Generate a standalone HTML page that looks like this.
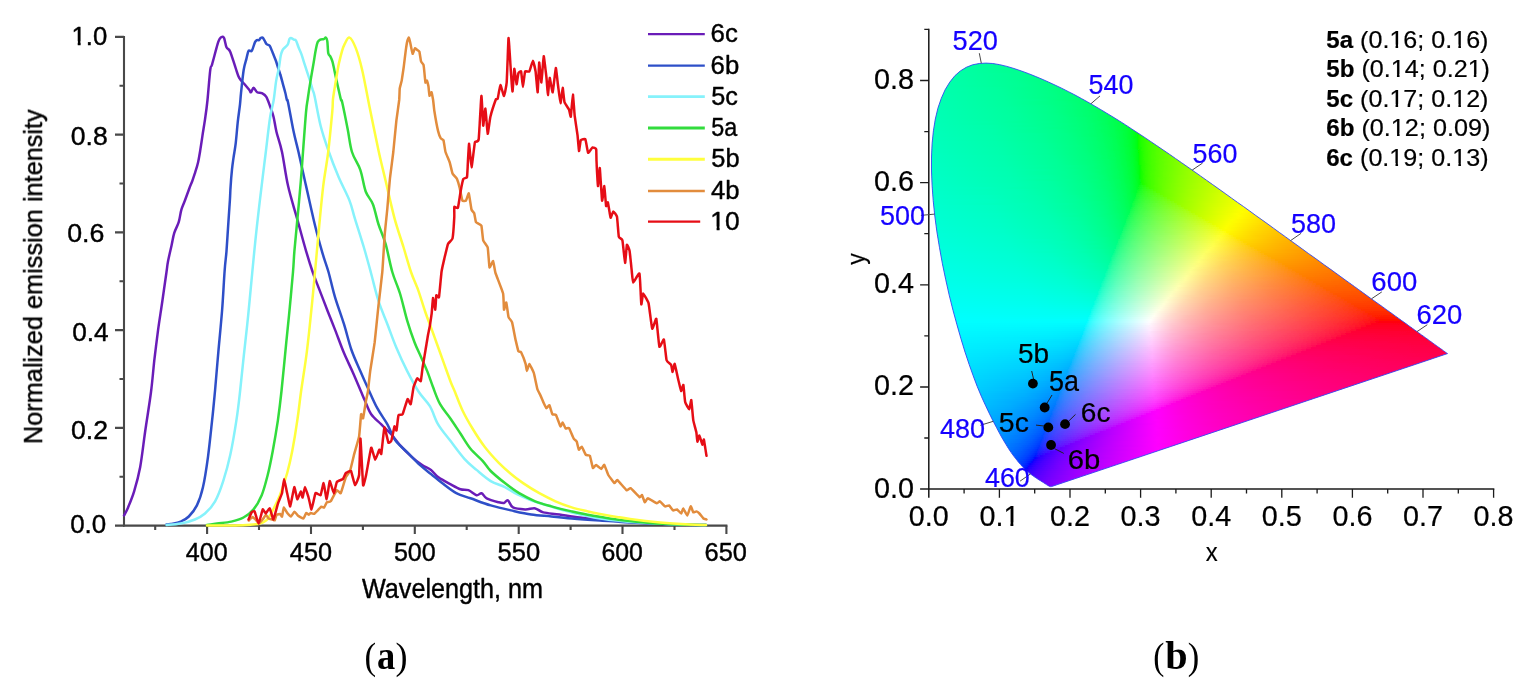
<!DOCTYPE html>
<html lang="en"><head><meta charset="utf-8"><title>Emission spectra and CIE 1931 chromaticity diagram</title>
<style>html,body{margin:0;padding:0;background:#fff}body{width:1526px;height:692px;overflow:hidden}svg{display:block}text{font-family:"Liberation Sans",Arial,sans-serif;fill:#000}.cap text{font-family:"Liberation Serif","DejaVu Serif",serif}.ch text{stroke:#000;stroke-width:.8px;stroke-linejoin:round}#chartA text{stroke-width:1.6px}.ch text.wl{fill:#1400ff;stroke:#1400ff}.cv{fill:none;stroke-width:2.5;stroke-linejoin:round;stroke-linecap:round}</style></head><body>
<svg width="1526" height="692" viewBox="0 0 1526 692">
<rect width="1526" height="692" fill="#fff"/>
<defs><filter id="bl" x="-2%" y="-2%" width="104%" height="104%"><feGaussianBlur stdDeviation="0.7"/></filter></defs>
<g id="chartA" class="ch" filter="url(#bl)">
<g stroke="#484848" stroke-width="2.1" fill="none">
<path d="M124.0 35.9V526.6"/>
<path d="M123.0 525.6H727.4"/>
<path d="M115.0 525.6H124.0M119.5 476.7H124.0M115.0 427.9H124.0M119.5 379.0H124.0M115.0 330.1H124.0M119.5 281.2H124.0M115.0 232.4H124.0M119.5 183.5H124.0M115.0 134.6H124.0M119.5 85.8H124.0M115.0 36.9H124.0M155.2 525.6V530.1M207.1 525.6V534.1M259.0 525.6V530.1M311.0 525.6V534.1M362.9 525.6V530.1M414.8 525.6V534.1M466.7 525.6V530.1M518.7 525.6V534.1M570.6 525.6V530.1M622.5 525.6V534.1M674.5 525.6V530.1M726.4 525.6V534.1"/></g>
<g class="cv">
<path d="M124.0,515.5C124.7,514.1 126.4,511.4 128.1,507.4C129.8,503.3 132.2,497.9 134.2,491.2C136.2,484.4 138.3,477.0 140.2,466.9C142.0,456.8 143.5,443.0 145.3,430.5C147.1,418.0 149.5,403.7 151.0,392.0C152.5,380.3 153.2,370.4 154.3,360.3C155.5,350.2 156.6,341.3 157.9,331.4C159.2,321.5 161.0,310.6 162.4,300.7C163.8,290.8 165.6,278.4 166.5,272.0C167.4,265.6 167.1,266.4 167.9,262.0C168.7,257.6 170.4,250.5 171.5,245.7C172.6,240.9 173.0,237.0 174.2,233.1C175.4,229.2 177.5,226.1 178.7,222.2C179.9,218.3 180.3,213.3 181.4,209.6C182.5,205.9 183.8,203.6 185.1,200.0C186.4,196.4 188.2,191.4 189.4,188.2C190.6,185.0 191.3,183.7 192.3,181.0C193.3,178.3 194.2,175.4 195.2,172.3C196.2,169.2 197.3,165.8 198.1,162.2C198.9,158.6 199.5,154.9 200.2,150.6C200.9,146.2 201.6,141.7 202.4,136.1C203.2,130.5 204.5,123.3 205.3,117.3C206.2,111.3 206.7,107.9 207.5,100.0C208.3,92.1 209.5,75.7 210.3,69.7C211.1,63.8 210.9,68.5 212.1,64.3C213.3,60.1 216.2,48.8 217.5,44.4C218.8,40.0 219.1,39.2 220.2,38.1C221.2,37.0 222.8,36.1 223.8,37.6C224.9,39.1 225.4,44.9 226.5,47.2C227.6,49.6 228.7,48.2 230.2,51.7C231.7,55.2 234.1,63.5 235.6,67.9C237.1,72.3 237.7,75.2 239.2,77.9C240.7,80.6 242.9,82.2 244.6,84.2C246.2,86.2 248.0,88.2 249.1,89.6C250.2,90.9 250.2,92.6 250.9,92.3C251.7,92.0 252.6,87.8 253.6,87.8C254.6,87.8 255.8,91.4 257.2,92.3C258.6,93.2 260.3,92.5 261.8,93.2C263.3,94.0 265.0,94.7 266.3,96.8C267.6,98.9 268.7,102.5 269.9,105.8C271.1,109.1 272.4,112.3 273.5,116.7C274.6,121.1 275.1,126.1 276.5,132.0C277.9,137.9 280.1,143.0 282.0,152.0C283.9,161.0 285.6,175.0 288.1,186.1C290.6,197.2 294.1,207.8 297.1,218.6C300.1,229.4 303.5,242.3 306.1,251.1C308.7,259.9 310.4,265.3 312.5,271.5C314.6,277.7 316.2,281.4 318.8,288.1C321.4,294.8 325.1,304.6 327.8,311.5C330.5,318.4 332.3,322.7 335.0,329.6C337.7,336.5 341.0,345.9 344.0,353.1C347.0,360.3 350.3,366.5 353.1,372.9C355.9,379.3 359.0,386.8 361.0,391.5C363.0,396.2 363.4,397.3 365.1,401.1C366.8,404.9 368.5,410.4 371.2,414.3C373.9,418.2 377.9,421.0 381.3,424.4C384.7,427.8 388.4,431.1 391.4,434.5C394.4,437.9 396.1,440.9 399.5,444.6C402.9,448.3 408.0,453.4 411.7,456.8C415.4,460.2 418.6,462.7 421.8,464.9C425.0,467.1 428.3,468.0 431.0,470.0C433.7,472.0 434.9,474.6 438.1,477.0C441.3,479.4 446.5,482.1 450.2,484.1C453.9,486.1 457.4,488.2 460.4,489.2C463.4,490.2 465.7,489.2 468.4,490.2C471.1,491.2 474.3,494.7 476.5,495.2C478.7,495.7 479.9,492.7 481.6,493.2C483.3,493.7 483.8,496.8 486.7,498.3C489.6,499.8 495.9,501.5 498.8,502.3C501.7,503.1 502.5,503.3 504.0,503.0C505.5,502.7 506.4,499.6 507.9,500.3C509.4,501.0 510.1,505.9 513.0,507.4C515.9,508.9 521.4,509.2 525.1,509.4C528.8,509.6 532.2,507.9 535.2,508.4C538.2,508.9 539.2,511.4 543.3,512.4C547.3,513.4 553.4,513.6 559.5,514.5C565.6,515.4 573.0,516.7 579.8,517.5C586.5,518.3 590.0,518.7 600.0,519.5C610.0,520.3 626.7,521.7 640.0,522.5C653.3,523.3 669.0,524.1 680.0,524.5C691.0,524.9 701.7,524.9 706.0,525.0" stroke="#6a1fb8"/>
<path d="M166.5,524.5C167.2,524.4 168.2,524.5 170.6,524.0C173.0,523.5 177.7,522.9 180.7,521.6C183.7,520.4 186.1,519.2 188.8,516.5C191.5,513.8 194.5,510.3 196.9,505.4C199.3,500.5 201.2,495.2 203.0,487.1C204.8,479.0 206.5,467.9 208.0,456.8C209.5,445.7 210.9,431.5 212.1,420.4C213.3,409.3 214.0,401.5 215.1,390.0C216.2,378.5 217.2,364.4 218.4,351.3C219.6,338.2 220.9,325.1 222.0,311.5C223.1,297.9 223.9,280.1 224.7,270.0C225.4,259.9 225.9,259.1 226.5,251.1C227.1,243.1 227.8,230.7 228.4,222.2C229.0,213.7 229.5,205.9 229.9,200.0C230.3,194.1 230.2,191.8 230.6,186.7C230.9,181.6 231.5,174.2 232.0,169.4C232.5,164.6 232.9,162.1 233.5,157.8C234.1,153.5 235.0,149.4 235.7,143.4C236.4,137.4 237.1,128.2 237.8,121.7C238.5,115.2 239.5,109.0 240.0,104.3C240.5,99.5 240.4,99.0 241.0,93.2C241.6,87.4 242.8,75.4 243.7,69.7C244.6,64.0 245.6,62.0 246.4,58.9C247.2,55.8 247.7,52.1 248.6,50.8C249.5,49.4 250.7,52.2 251.8,50.8C252.9,49.3 254.1,43.9 255.0,42.1C255.9,40.3 256.3,40.4 257.0,40.1C257.7,39.8 258.4,40.4 259.0,40.1C259.6,39.8 260.0,38.5 260.6,38.1C261.2,37.7 261.9,37.2 262.6,37.6C263.3,38.0 263.9,39.5 264.6,40.6C265.3,41.7 265.8,43.4 266.6,44.2C267.5,45.1 268.9,44.7 269.7,45.7C270.5,46.7 271.0,48.6 271.7,50.2C272.4,51.8 273.0,53.6 273.7,55.3C274.4,57.0 274.9,58.1 275.7,60.3C276.5,62.5 277.5,66.0 278.3,68.4C279.1,70.8 279.6,72.0 280.3,74.5C281.1,77.0 282.0,80.6 282.8,83.6C283.6,86.6 284.6,90.0 285.3,92.7C286.0,95.4 286.4,98.4 286.9,100.0C287.3,101.6 286.9,97.0 288.0,102.2C289.1,107.4 291.8,122.8 293.5,131.1C295.2,139.4 296.4,142.8 298.5,152.0C300.6,161.2 303.3,173.8 306.1,186.1C308.9,198.4 312.4,214.7 315.1,225.8C317.8,236.9 320.2,245.2 322.4,252.9C324.6,260.6 326.4,264.6 328.5,272.0C330.6,279.4 332.4,288.4 335.0,297.1C337.6,305.8 341.3,315.5 344.0,324.2C346.7,332.9 348.6,341.7 351.3,349.5C354.0,357.3 357.5,364.5 360.3,371.1C363.1,377.7 365.6,383.0 368.4,389.2C371.2,395.4 374.1,402.3 377.3,408.2C380.5,414.1 384.4,419.0 387.4,424.4C390.4,429.8 392.1,435.9 395.5,440.6C398.9,445.3 403.6,448.6 407.6,452.7C411.7,456.8 415.9,461.3 419.8,464.9C423.7,468.4 427.3,471.0 431.0,474.0C434.7,477.0 437.9,479.9 442.1,483.1C446.3,486.3 451.6,490.7 456.3,493.2C461.0,495.7 464.8,496.3 470.5,498.3C476.2,500.3 483.9,503.4 490.7,505.4C497.4,507.4 504.2,508.9 511.0,510.4C517.8,511.9 524.5,513.5 531.2,514.5C537.9,515.5 544.6,515.8 551.4,516.5C558.1,517.2 563.6,517.8 571.7,518.5C579.8,519.2 588.6,519.8 600.0,520.5C611.4,521.2 626.7,522.3 640.0,523.0C653.3,523.7 669.0,524.2 680.0,524.5C691.0,524.8 701.7,524.9 706.0,525.0" stroke="#2f4fc8"/>
<path d="M166.5,525.0C168.9,524.8 176.0,524.5 180.7,523.6C185.4,522.7 190.8,521.2 194.9,519.5C199.0,517.8 201.6,516.5 205.0,513.5C208.4,510.5 212.1,506.7 215.1,501.3C218.1,495.9 220.7,488.9 223.2,481.1C225.7,473.4 228.1,464.9 230.3,454.8C232.5,444.7 234.8,430.9 236.4,420.4C238.0,409.9 238.8,402.6 240.0,392.0C241.2,381.4 242.3,369.5 243.7,356.7C245.1,343.9 246.8,329.2 248.2,315.1C249.6,301.0 251.1,284.5 252.3,272.0C253.5,259.5 254.3,251.0 255.4,240.3C256.5,229.6 257.8,218.3 259.0,207.8C260.2,197.3 261.6,186.4 262.7,177.1C263.8,167.8 264.6,161.8 265.8,152.0C267.0,142.2 268.7,126.7 270.0,118.0C271.3,109.3 272.7,106.2 273.7,100.0C274.7,93.8 275.3,85.9 276.2,80.6C277.1,75.3 278.0,72.6 278.8,68.4C279.6,64.2 280.1,58.4 280.8,55.3C281.5,52.2 282.1,51.1 282.8,49.7C283.6,48.4 284.5,48.1 285.3,47.2C286.1,46.3 287.2,45.6 287.9,44.2C288.6,42.9 288.9,40.1 289.4,39.1C289.9,38.1 290.1,38.0 290.9,38.1C291.6,38.2 293.0,39.2 293.9,39.6C294.8,40.0 295.2,39.3 296.0,40.6C296.8,41.9 297.6,44.9 298.5,47.2C299.4,49.5 300.6,51.8 301.5,54.3C302.4,56.8 303.1,59.7 304.0,62.4C304.9,65.1 305.7,67.6 306.6,70.4C307.5,73.2 308.6,76.3 309.6,79.5C310.6,82.7 311.8,86.8 312.6,89.7C313.5,92.6 313.4,90.7 314.7,96.7C316.0,102.7 318.4,116.8 320.6,125.7C322.9,134.6 325.2,141.4 328.2,150.0C331.2,158.6 335.1,168.7 338.6,177.1C342.2,185.5 346.8,193.7 349.5,200.6C352.2,207.5 352.5,210.8 354.9,218.6C357.3,226.4 361.2,238.4 363.9,247.5C366.6,256.6 368.6,264.1 371.0,273.0C373.4,281.9 375.7,292.2 378.4,300.7C381.1,309.2 384.4,316.4 387.4,324.2C390.4,332.0 393.1,339.9 396.4,347.7C399.7,355.5 403.5,363.8 407.2,371.1C410.9,378.4 414.7,385.6 418.5,391.5C422.3,397.4 426.6,400.7 429.9,406.2C433.2,411.7 434.7,418.7 438.1,424.4C441.5,430.1 445.8,434.9 450.2,440.6C454.6,446.3 460.0,453.9 464.4,458.8C468.8,463.7 472.1,466.2 476.5,469.9C480.9,473.6 486.0,478.2 490.7,481.1C495.4,484.0 500.5,484.9 504.9,487.1C509.3,489.3 512.6,492.0 517.0,494.2C521.4,496.4 526.1,498.4 531.2,500.3C536.3,502.2 541.3,503.5 547.4,505.4C553.5,507.2 558.8,509.2 567.6,511.4C576.4,513.6 587.9,516.6 600.0,518.5C612.1,520.4 626.7,521.5 640.0,522.5C653.3,523.5 669.0,524.1 680.0,524.5C691.0,524.9 701.7,524.9 706.0,525.0" stroke="#86f2fb"/>
<path d="M207.0,525.0C208.7,524.8 213.0,524.2 217.1,523.6C221.2,523.0 226.9,522.6 231.3,521.6C235.7,520.6 239.8,519.5 243.5,517.5C247.2,515.5 250.6,513.1 253.6,509.4C256.6,505.7 259.3,500.9 261.7,495.2C264.1,489.5 265.8,482.4 267.7,475.0C269.6,467.6 271.1,459.8 272.8,450.7C274.5,441.6 276.4,430.3 277.9,420.4C279.3,410.4 280.1,404.0 281.5,391.0C282.9,378.0 284.9,356.3 286.3,342.2C287.7,328.1 288.8,317.8 289.9,306.1C291.0,294.4 292.2,281.2 293.0,272.0C293.8,262.8 293.7,259.4 294.4,251.1C295.1,242.8 296.1,233.6 297.1,222.2C298.2,210.8 299.7,194.2 300.7,182.5C301.7,170.8 302.1,163.9 303.0,152.0C303.9,140.1 305.3,120.0 306.1,111.3C306.9,102.6 307.0,104.1 307.6,100.0C308.2,95.9 308.9,90.8 309.6,86.6C310.3,82.3 310.9,78.5 311.6,74.5C312.3,70.5 313.0,66.5 313.7,62.4C314.4,58.4 315.0,53.6 315.7,50.2C316.4,46.8 316.9,43.9 317.7,42.1C318.4,40.3 319.2,40.1 320.2,39.6C321.2,39.1 322.9,39.4 323.8,39.1C324.7,38.8 325.2,37.3 325.8,37.6C326.4,37.9 326.9,38.5 327.3,41.1C327.7,43.7 327.8,50.8 328.3,53.3C328.8,55.8 329.6,55.0 330.3,56.3C331.0,57.6 331.7,58.9 332.4,61.3C333.1,63.6 333.8,67.7 334.4,70.4C335.0,73.1 335.3,74.8 335.9,77.5C336.5,80.2 337.0,82.8 337.9,86.6C338.8,90.3 340.3,97.4 341.0,100.0C341.7,102.6 341.1,97.3 342.2,102.2C343.3,107.1 346.1,121.0 347.7,129.3C349.3,137.6 349.9,145.2 352.0,152.0C354.1,158.8 358.0,163.3 360.3,169.9C362.6,176.5 363.6,185.8 365.7,191.5C367.8,197.2 370.8,198.8 372.9,204.2C375.0,209.6 376.3,217.4 378.4,224.0C380.5,230.6 383.3,235.9 385.6,243.9C387.9,251.9 389.9,263.7 392.3,272.0C394.7,280.3 397.5,285.4 400.0,293.5C402.5,301.6 404.8,312.5 407.2,320.6C409.6,328.7 412.2,336.1 414.5,342.2C416.8,348.3 418.9,352.2 421.0,357.0C423.1,361.8 425.2,366.1 427.2,371.1C429.2,376.1 430.9,381.5 433.0,387.0C435.1,392.5 437.2,399.0 440.1,404.2C443.0,409.4 446.8,413.4 450.2,418.3C453.6,423.2 457.0,428.4 460.4,433.5C463.8,438.6 466.8,444.1 470.5,448.7C474.2,453.2 479.2,457.1 482.6,460.8C486.0,464.5 487.0,467.3 490.7,471.0C494.4,474.7 500.2,479.4 504.9,483.1C509.6,486.8 514.0,490.2 519.1,493.2C524.2,496.2 529.8,499.1 535.2,501.3C540.6,503.5 545.3,504.7 551.4,506.4C557.5,508.1 565.0,509.9 571.7,511.4C578.5,512.9 583.9,514.1 591.9,515.5C599.9,516.9 610.3,518.8 620.0,520.0C629.7,521.2 640.0,522.2 650.0,523.0C660.0,523.8 670.7,524.2 680.0,524.5C689.3,524.8 701.7,524.9 706.0,525.0" stroke="#32dc3c"/>
<path d="M207.0,525.6C211.7,525.6 227.8,525.5 235.0,525.4C242.2,525.3 245.8,525.1 250.0,524.8C254.2,524.5 257.3,524.2 260.0,523.5C262.7,522.8 264.3,521.8 266.0,520.5C267.7,519.2 268.7,517.6 270.0,515.5C271.3,513.4 272.3,511.4 274.0,508.0C275.7,504.6 277.8,500.8 280.0,495.0C282.2,489.2 285.1,480.4 287.2,473.0C289.2,465.6 290.6,459.5 292.3,450.7C294.0,441.9 295.9,430.2 297.3,420.4C298.8,410.6 299.4,403.5 301.0,392.0C302.6,380.5 305.2,365.0 306.9,351.3C308.6,337.6 310.1,322.9 311.4,309.7C312.8,296.5 313.8,285.1 315.0,272.0C316.2,258.9 317.3,245.6 318.7,231.3C320.1,217.0 321.6,199.3 323.2,186.1C324.8,172.9 326.7,164.5 328.2,152.0C329.7,139.5 331.5,120.0 332.3,111.3C333.1,102.6 332.5,104.1 332.9,100.0C333.3,95.9 334.2,90.8 334.9,86.6C335.6,82.3 336.2,78.4 336.9,74.5C337.6,70.6 338.0,67.3 338.9,63.4C339.8,59.5 341.1,54.4 342.0,51.2C342.9,48.0 343.4,46.5 344.6,44.2C345.9,41.9 347.6,37.0 349.5,37.6C351.4,38.2 353.7,42.8 355.8,48.1C357.9,53.5 359.9,60.1 362.1,69.7C364.4,79.3 366.6,92.4 369.3,105.8C372.0,119.2 375.7,137.5 378.4,150.0C381.1,162.5 382.9,169.3 385.6,180.7C388.3,192.1 391.6,207.5 394.6,218.6C397.6,229.7 400.9,238.6 403.6,247.5C406.3,256.4 408.6,264.9 411.0,272.0C413.4,279.1 415.7,283.2 418.1,289.9C420.5,296.6 422.6,304.2 425.3,312.0C428.0,319.8 431.4,328.4 434.4,336.8C437.4,345.2 440.8,354.6 443.5,362.1C446.2,369.6 448.8,377.0 450.7,382.0C452.6,387.0 453.1,387.3 455.0,392.0C456.9,396.7 459.5,404.1 462.4,410.2C465.3,416.3 468.8,422.4 472.5,428.5C476.2,434.6 480.2,441.0 484.6,446.7C489.0,452.4 494.4,458.3 498.8,462.9C503.2,467.4 506.9,470.6 511.0,474.0C515.0,477.4 518.4,479.9 523.1,483.1C527.8,486.3 533.9,490.2 539.3,493.2C544.7,496.2 550.1,498.9 555.5,501.3C560.9,503.7 566.3,505.7 571.7,507.4C577.1,509.1 583.2,510.3 587.9,511.4C592.6,512.5 593.0,512.6 600.0,513.9C607.0,515.2 620.0,517.6 630.0,519.0C640.0,520.4 650.0,521.6 660.0,522.5C670.0,523.4 682.3,524.1 690.0,524.5C697.7,524.9 703.3,524.9 706.0,525.0" stroke="#ffff3c"/>
<path d="M248.8,520.5C249.0,520.3 252.1,517.0 252.5,517.0C252.9,517.0 255.6,519.6 256.0,520.0C256.4,520.4 258.6,523.6 259.0,523.5C259.4,523.4 262.6,519.5 263.0,519.0C263.4,518.5 265.7,514.8 266.0,514.8C266.3,514.8 268.1,518.1 268.5,518.4C268.9,518.7 272.1,519.4 272.5,519.5C272.9,519.6 274.6,520.5 274.8,520.2C275.0,519.9 276.3,515.2 276.6,514.8C276.9,514.4 279.9,513.8 280.2,513.9C280.5,514.0 281.8,517.0 282.0,516.6C282.2,516.2 283.5,507.8 283.8,507.6C284.1,507.4 286.9,512.5 287.3,513.0C287.7,513.5 290.5,516.7 290.9,516.6C291.3,516.5 294.1,511.8 294.5,511.7C294.9,511.6 297.6,515.3 298.1,515.7C298.6,516.1 303.0,518.6 303.5,518.4C304.0,518.2 305.9,513.2 306.2,513.0C306.5,512.8 308.6,514.8 308.9,514.8C309.2,514.8 310.3,513.1 310.6,513.0C310.9,512.9 313.8,514.1 314.2,513.9C314.6,513.7 317.4,510.7 317.8,510.3C318.2,509.9 321.0,506.9 321.4,506.7C321.8,506.5 323.8,507.9 324.1,507.6C324.4,507.3 326.4,502.7 326.8,502.3C327.2,501.9 330.1,502.0 330.7,501.3C331.3,500.6 336.2,490.7 336.8,490.2C337.4,489.7 340.3,494.0 340.8,493.2C341.3,492.4 345.3,478.3 345.9,477.0C346.5,475.7 349.5,472.3 350.0,471.0C350.5,469.7 353.5,456.9 354.0,454.8C354.5,452.7 358.7,438.9 359.1,436.5C359.5,434.1 360.9,415.4 361.1,414.3C361.3,413.2 362.8,419.2 363.1,418.3C363.4,417.4 365.8,401.7 366.1,400.1C366.4,398.5 367.8,392.7 368.0,391.0C368.2,389.3 369.8,374.0 370.2,371.1C370.6,368.2 374.2,346.1 374.7,342.2C375.2,338.3 377.9,310.3 378.4,306.1C378.9,301.9 381.9,276.3 382.3,272.0C382.7,267.7 384.4,238.8 384.7,234.9C385.0,231.0 387.1,211.3 387.4,207.8C387.7,204.3 389.7,180.4 390.1,177.1C390.5,173.8 392.9,155.4 393.3,152.0C393.7,148.6 396.0,123.4 396.4,120.3C396.8,117.2 399.0,101.9 399.2,100.0C399.4,98.1 399.6,89.9 399.7,88.7C399.8,87.5 401.5,81.9 401.7,80.6C401.9,79.3 403.6,68.2 403.8,66.4C404.0,64.6 405.6,51.7 405.8,50.2C406.0,48.7 407.1,41.9 407.3,41.1C407.5,40.3 408.6,37.5 408.8,37.6C409.0,37.7 410.1,42.1 410.3,43.1C410.5,44.1 412.3,53.5 412.6,53.8C412.9,54.1 414.6,48.4 414.9,48.2C415.2,48.0 416.6,49.5 416.9,49.7C417.2,49.9 419.2,51.0 419.4,51.7C419.6,52.4 420.8,60.5 421.0,61.3C421.2,62.1 423.3,64.2 423.5,64.9C423.7,65.6 424.4,72.4 424.5,73.5C424.6,74.6 425.4,82.2 425.5,82.6C425.6,83.0 426.8,80.4 427.0,80.6C427.2,80.8 428.4,85.7 428.5,86.6C428.6,87.5 429.3,95.4 429.5,95.7C429.7,96.0 431.4,91.9 431.6,92.2C431.8,92.5 432.9,98.9 433.1,100.0C433.3,101.1 434.1,109.4 434.4,111.3C434.7,113.2 437.7,129.5 438.1,131.1C438.5,132.7 440.5,137.9 440.8,138.4C441.1,138.9 443.2,139.4 443.5,140.2C443.8,141.0 445.1,150.7 445.5,152.0C445.9,153.3 449.4,161.3 449.8,162.6C450.2,163.9 452.1,172.5 452.5,173.5C452.9,174.5 456.6,178.0 457.0,178.9C457.4,179.8 459.4,186.6 459.7,187.9C460.0,189.2 462.0,199.8 462.4,200.6C462.8,201.4 465.6,201.0 466.0,200.6C466.4,200.2 468.5,192.8 468.8,193.3C469.1,193.8 471.2,208.4 471.5,209.6C471.8,210.8 473.9,212.4 474.2,213.2C474.5,214.0 475.6,221.4 476.0,222.2C476.4,223.0 481.0,224.7 481.4,225.8C481.8,226.9 482.8,239.0 483.2,240.3C483.6,241.6 487.3,245.9 487.7,247.5C488.1,249.1 489.2,266.6 489.5,267.4C489.8,268.2 492.7,260.8 493.1,261.1C493.5,261.4 494.9,271.1 495.5,273.0C496.1,274.9 502.6,291.3 503.1,293.5C503.6,295.7 503.8,309.2 504.0,309.7C504.2,310.2 506.0,302.1 506.3,302.5C506.6,302.9 508.2,315.8 508.5,317.0C508.8,318.2 511.7,321.0 512.1,322.4C512.5,323.8 515.3,338.7 515.7,340.4C516.1,342.1 518.1,350.6 518.4,351.3C518.7,352.0 520.7,351.4 521.1,352.2C521.5,353.0 525.3,362.8 525.6,363.9C525.9,365.0 526.7,371.1 526.9,371.1C527.1,371.1 528.9,363.8 529.3,363.9C529.7,364.0 533.3,371.4 533.8,372.9C534.3,374.4 537.0,387.9 537.4,389.2C537.8,390.5 539.9,394.3 540.3,395.1C540.7,395.9 542.9,401.3 543.3,402.1C543.7,402.9 546.0,408.0 546.4,408.2C546.8,408.4 549.0,404.8 549.4,405.2C549.8,405.6 552.0,413.7 552.4,414.3C552.8,414.9 555.5,414.3 556.0,415.0C556.5,415.7 560.1,426.0 560.5,426.4C560.9,426.8 562.3,422.3 562.6,422.4C562.9,422.5 565.2,428.2 565.6,428.5C566.0,428.8 568.5,427.4 569.0,428.0C569.5,428.6 573.2,437.8 573.7,438.6C574.2,439.4 576.4,440.9 576.7,441.6C577.0,442.3 578.5,449.4 578.8,449.7C579.1,450.0 581.4,446.4 581.8,446.7C582.2,447.0 585.3,454.3 585.8,454.8C586.3,455.3 589.5,455.0 589.9,455.8C590.3,456.6 592.5,467.4 592.9,467.9C593.3,468.4 595.5,464.8 596.0,464.9C596.5,465.0 600.8,468.9 601.3,468.9C601.8,468.9 603.9,464.5 604.3,464.9C604.7,465.3 607.7,473.9 608.3,475.0C608.9,476.1 613.9,482.8 614.4,483.1C614.9,483.4 616.7,479.7 617.4,480.1C618.1,480.5 625.7,489.7 626.5,490.2C627.3,490.7 629.8,487.8 630.6,488.2C631.4,488.6 639.0,496.9 639.7,497.3C640.4,497.7 641.7,494.7 642.0,495.0C642.3,495.3 644.5,502.1 644.8,502.3C645.1,502.5 647.1,498.2 647.8,498.3C648.5,498.4 656.2,503.1 656.9,503.3C657.6,503.5 659.4,501.1 659.9,501.3C660.4,501.5 664.4,506.2 665.0,506.4C665.6,506.6 668.6,505.2 669.1,505.4C669.6,505.6 672.6,510.2 673.1,510.4C673.6,510.6 676.6,509.2 677.1,509.4C677.6,509.6 680.8,513.6 681.2,513.5C681.6,513.4 682.8,508.3 683.2,508.4C683.6,508.5 686.8,515.6 687.3,515.5C687.8,515.4 690.3,506.6 690.7,506.4C691.1,506.2 693.0,512.1 693.3,512.4C693.6,512.7 696.0,511.3 696.4,511.4C696.8,511.5 699.0,513.1 699.4,513.5C699.8,513.9 703.1,518.1 703.5,518.5C703.9,518.9 706.3,519.4 706.5,519.5" stroke="#e28c3c"/>
<path d="M248.5,519.5C248.7,519.1 251.2,512.9 251.6,512.4C252.0,511.9 254.2,510.7 254.6,511.4C255.0,512.1 258.1,523.7 258.6,523.6C259.1,523.5 262.3,510.0 262.7,509.4C263.1,508.8 265.3,513.6 265.7,513.5C266.1,513.4 269.3,508.0 269.8,508.4C270.3,508.8 272.9,519.8 273.4,519.5C273.9,519.2 277.5,504.9 278.0,503.3C278.5,501.7 281.6,494.7 282.0,493.2C282.4,491.7 283.8,479.0 284.1,479.0C284.4,479.0 286.7,491.4 287.1,493.0C287.5,494.6 289.8,506.8 290.2,506.4C290.6,506.0 293.9,487.5 294.3,487.1C294.7,486.7 296.9,499.0 297.3,499.3C297.7,499.6 300.5,491.6 300.8,491.5C301.1,491.4 302.3,497.8 302.6,497.5C302.9,497.2 304.6,487.1 305.0,487.1C305.4,487.1 308.1,496.0 308.5,497.3C308.9,498.6 311.1,509.6 311.5,509.4C311.9,509.2 315.0,494.1 315.5,493.2C316.0,492.3 320.1,495.8 320.6,495.2C321.1,494.6 323.2,482.9 323.6,483.1C324.0,483.3 326.3,499.4 326.7,499.3C327.1,499.2 329.3,481.5 329.7,481.1C330.1,480.7 333.4,493.1 333.8,493.2C334.2,493.3 336.3,483.0 336.8,482.1C337.3,481.2 342.4,479.5 342.9,479.0C343.4,478.5 345.4,473.5 345.9,473.0C346.4,472.5 350.5,470.3 351.0,471.0C351.5,471.7 354.5,484.9 355.0,485.1C355.5,485.3 358.8,477.8 359.1,475.0C359.4,472.2 360.3,438.0 360.5,438.6C360.7,439.2 362.8,482.9 363.1,485.1C363.4,487.3 365.6,477.2 366.1,475.0C366.6,472.8 370.7,448.6 371.2,447.7C371.7,446.8 374.7,459.7 375.2,459.8C375.7,459.9 378.9,450.1 379.3,449.7C379.7,449.3 381.0,455.1 381.3,453.8C381.6,452.5 384.0,428.1 384.4,427.4C384.8,426.7 388.0,441.8 388.4,442.6C388.8,443.4 391.0,441.6 391.4,440.6C391.8,439.6 394.2,427.0 394.5,426.4C394.8,425.8 396.3,431.2 396.5,430.5C396.7,429.8 398.1,416.3 398.5,415.3C398.9,414.3 402.1,415.3 402.6,414.3C403.1,413.3 407.1,399.7 407.6,399.1C408.1,398.5 410.3,404.9 410.7,404.2C411.1,403.5 413.2,388.5 413.6,387.0C414.0,385.5 416.8,378.8 417.2,378.4C417.6,378.0 420.5,381.8 420.8,381.1C421.1,380.4 422.3,369.3 422.6,367.5C422.9,365.7 425.0,353.2 425.3,351.3C425.6,349.4 427.7,336.6 428.0,335.0C428.3,333.4 429.8,326.3 430.0,325.0C430.2,323.7 431.5,314.9 431.7,313.3C431.9,311.7 432.8,298.2 433.0,298.0C433.2,297.8 435.1,309.9 435.3,309.7C435.5,309.5 436.1,296.1 436.3,295.3C436.5,294.5 438.7,298.5 439.0,297.1C439.3,295.7 441.2,274.3 441.5,272.0C441.8,269.7 444.0,260.1 444.4,258.4C444.8,256.7 447.5,245.1 448.0,243.9C448.5,242.7 452.1,240.1 452.5,238.5C452.9,236.9 454.2,218.7 454.3,216.8C454.4,214.9 454.1,207.4 454.3,206.9C454.5,206.4 457.5,208.7 457.9,207.8C458.3,206.9 460.3,193.2 460.6,191.5C460.9,189.8 462.9,179.8 463.3,178.9C463.7,178.0 466.7,178.2 467.0,177.1C467.3,176.0 467.9,162.0 468.0,160.0C468.1,158.0 468.9,143.4 469.1,143.8C469.3,144.2 471.2,167.1 471.5,167.2C471.8,167.3 474.3,146.5 474.5,145.0C474.7,143.5 474.8,142.3 475.1,142.0C475.4,141.7 478.3,142.1 478.7,139.3C479.1,136.5 481.1,96.7 481.4,95.9C481.7,95.1 483.0,124.9 483.2,125.7C483.4,126.5 485.1,108.1 485.4,108.6C485.7,109.1 487.4,133.3 487.7,133.8C488.0,134.3 489.9,118.8 490.4,116.7C490.9,114.6 495.4,100.6 495.8,99.5C496.2,98.4 497.4,99.5 497.7,98.6C498.0,97.7 500.0,85.3 500.4,85.1C500.8,84.9 503.6,96.1 504.0,95.9C504.4,95.7 506.4,85.9 506.7,82.4C507.0,78.9 508.3,39.3 508.5,38.1C508.7,36.9 510.1,59.3 510.3,62.5C510.5,65.7 512.3,91.0 512.5,91.4C512.7,91.8 514.1,69.2 514.3,68.8C514.5,68.4 516.4,83.9 516.6,84.2C516.8,84.5 518.1,74.1 518.4,73.3C518.7,72.5 520.8,70.7 521.1,71.5C521.4,72.3 522.7,86.9 522.9,86.9C523.1,86.9 524.7,72.4 525.1,71.5C525.5,70.6 528.8,72.1 529.3,71.5C529.8,70.9 532.5,60.7 532.9,60.7C533.3,60.7 535.3,69.6 535.6,71.5C535.9,73.4 537.5,92.8 537.7,92.3C537.9,91.8 539.0,63.1 539.2,62.5C539.4,61.9 541.1,82.8 541.4,82.4C541.7,82.0 543.4,56.5 543.7,56.2C544.0,55.9 546.1,74.7 546.4,77.0C546.7,79.3 547.7,94.9 547.9,95.0C548.1,95.1 549.4,78.1 549.7,77.9C550.0,77.7 552.3,92.9 552.7,92.3C553.1,91.7 555.5,68.3 555.8,67.9C556.1,67.5 557.8,83.9 558.1,86.0C558.4,88.1 560.2,103.0 560.5,103.1C560.8,103.2 562.5,87.9 562.7,87.8C562.9,87.7 564.1,100.9 564.5,102.2C564.9,103.5 568.6,108.6 569.0,109.5C569.4,110.4 570.6,117.6 570.8,116.7C571.0,115.8 572.7,94.6 572.9,94.5C573.1,94.4 574.4,113.4 574.7,115.8C575.0,118.2 577.2,132.9 577.5,135.0C577.8,137.1 578.8,150.7 579.0,151.0C579.2,151.3 580.4,140.9 580.8,140.2C581.2,139.5 585.0,138.5 585.4,139.3C585.8,140.1 587.7,152.3 588.1,152.8C588.5,153.3 592.1,147.6 592.6,147.4C593.1,147.2 596.0,148.4 596.2,149.2C596.4,150.0 596.4,158.6 596.5,160.8C596.6,163.0 597.8,185.7 598.0,186.1C598.2,186.5 599.6,167.2 599.8,168.1C600.0,169.0 601.8,199.5 602.1,200.6C602.4,201.7 604.1,185.8 604.3,186.1C604.5,186.4 605.9,205.0 606.1,206.0C606.3,207.0 607.6,201.7 607.9,202.4C608.2,203.1 610.3,217.2 610.6,217.7C610.9,218.2 612.9,211.5 613.3,211.4C613.7,211.3 616.7,215.3 617.0,216.8C617.3,218.3 618.5,235.3 618.8,236.7C619.1,238.1 622.0,238.7 622.4,240.3C622.8,241.9 624.8,262.6 625.1,262.9C625.4,263.2 626.6,245.5 626.9,244.8C627.2,244.1 629.3,249.5 629.6,251.1C629.9,252.7 631.6,269.6 631.8,271.5C632.0,273.4 632.7,282.5 633.2,282.6C633.7,282.7 639.0,272.3 639.5,273.6C640.0,274.9 641.1,303.1 641.3,304.3C641.5,305.5 642.7,293.6 643.1,293.5C643.5,293.4 648.1,301.3 648.6,303.4C649.1,305.5 651.7,327.8 652.2,328.7C652.7,329.6 655.9,317.7 656.3,318.8C656.7,319.9 658.9,345.5 659.4,346.7C659.9,347.9 663.5,338.7 663.9,339.5C664.3,340.3 666.2,358.8 666.6,360.3C667.0,361.8 670.7,364.1 671.1,364.8C671.5,365.5 672.4,372.1 672.6,372.0C672.8,371.9 674.4,363.4 674.7,363.9C675.0,364.4 678.0,378.6 678.4,380.2C678.8,381.8 680.8,390.7 681.1,391.0C681.4,391.3 683.2,384.3 683.4,385.0C683.6,385.7 684.8,400.6 685.2,402.1C685.6,403.6 688.9,409.3 689.3,409.2C689.7,409.1 691.1,399.4 691.3,400.1C691.5,400.8 693.0,418.5 693.3,420.4C693.6,422.3 696.2,431.2 696.4,432.5C696.6,433.8 697.2,441.4 697.4,441.6C697.6,441.8 699.1,435.3 699.4,435.5C699.7,435.7 702.1,444.4 702.4,444.6C702.7,444.8 703.7,438.9 703.9,439.6C704.1,440.3 706.3,454.8 706.5,455.8" stroke="#e60d14"/>
</g>
<clipPath id="c1"><path clip-rule="evenodd" d="M-300 -200H3000V200H-300ZM3.0 -13H24.0V25H3.0ZM35.0 -13H55.0V25H35.0Z"/></clipPath><text clip-path="url(#c1)" font-size="100" transform="matrix(0.2573 0 0 0.2507 71.57 44.55)">1.0</text>
<text font-size="100" transform="matrix(0.2656 0 0 0.2634 70.74 144.64)">0.8</text>
<text font-size="100" transform="matrix(0.2674 0 0 0.2634 67.23 241.64)">0.6</text>
<text font-size="100" transform="matrix(0.2621 0 0 0.2563 72.15 340.74)">0.4</text>
<text font-size="100" transform="matrix(0.2662 0 0 0.2549 70.94 439.05)">0.2</text>
<text font-size="100" transform="matrix(0.2595 0 0 0.2549 70.16 533.45)">0.0</text>
<text font-size="100" transform="matrix(0.2513 0 0 0.2592 185.87 561.34)">400</text>
<text font-size="100" transform="matrix(0.2531 0 0 0.2592 289.87 561.34)">450</text>
<text font-size="100" transform="matrix(0.2511 0 0 0.2592 393.90 561.34)">500</text>
<text font-size="100" transform="matrix(0.2555 0 0 0.2592 497.48 561.34)">550</text>
<text font-size="100" transform="matrix(0.2489 0 0 0.2592 601.41 561.34)">600</text>
<text font-size="100" transform="matrix(0.2543 0 0 0.2592 704.53 561.34)">650</text>
<text font-size="100" transform="matrix(0.2520 0 0 0.2710 361.97 597.55)">Wavelength, nm</text>
<text font-size="100" transform="matrix(0 -0.2532 0.2629 0 42.00 444.03)">Normalized emission intensity</text>
<path d="M648 34.2H704.8" stroke="#6a1fb8" stroke-width="2.3"/>
<text font-size="100" transform="matrix(0.2582 0 0 0.2620 710.61 42.24)">6c</text>
<path d="M648 65.7H704.8" stroke="#2f4fc8" stroke-width="2.3"/>
<text font-size="100" transform="matrix(0.2569 0 0 0.2531 710.62 73.55)">6b</text>
<path d="M648 96.7H704.8" stroke="#86f2fb" stroke-width="2.8"/>
<text font-size="100" transform="matrix(0.2525 0 0 0.2657 711.19 104.53)">5c</text>
<path d="M648 127.9H704.8" stroke="#32dc3c" stroke-width="3.0"/>
<text font-size="100" transform="matrix(0.2336 0 0 0.2643 711.27 135.54)">5a</text>
<path d="M648 159.2H704.8" stroke="#ffff3c" stroke-width="3.0"/>
<text font-size="100" transform="matrix(0.2544 0 0 0.2571 711.28 167.44)">5b</text>
<path d="M648 190.9H704.8" stroke="#e28c3c" stroke-width="2.5"/>
<text font-size="100" transform="matrix(0.2565 0 0 0.2571 711.06 198.94)">4b</text>
<path d="M648 221.6H700.2" stroke="#e60d14" stroke-width="2.2"/>
<clipPath id="c2"><path clip-rule="evenodd" d="M-300 -200H3000V200H-300ZM3.0 -13H24.0V25H3.0ZM35.0 -13H55.0V25H35.0Z"/></clipPath><text clip-path="url(#c2)" font-size="100" transform="matrix(0.2633 0 0 0.2648 710.33 230.04)">10</text>
</g>
<g id="chartB" class="ch" filter="url(#bl)">
<defs><clipPath id="lc"><path d="M1051.7,486.5 1051.7,486.5 1051.7,486.5 1051.7,486.5 1051.6,486.5 1051.6,486.6 1051.6,486.6 1051.5,486.6 1051.5,486.6 1051.5,486.6 1051.4,486.6 1051.4,486.6 1051.4,486.6 1051.3,486.6 1051.3,486.6 1051.2,486.6 1051.2,486.6 1051.1,486.7 1051.1,486.7 1051.0,486.7 1051.0,486.6 1050.9,486.6 1050.8,486.6 1050.8,486.6 1050.7,486.6 1050.6,486.7 1050.5,486.7 1050.4,486.7 1050.3,486.7 1050.2,486.6 1050.1,486.6 1050.0,486.6 1049.9,486.5 1049.7,486.5 1049.5,486.4 1049.3,486.3 1049.1,486.2 1048.9,486.1 1048.7,485.9 1048.4,485.8 1048.2,485.7 1047.9,485.5 1047.6,485.3 1047.2,485.1 1046.8,484.8 1046.4,484.6 1046.0,484.3 1045.6,484.0 1045.1,483.7 1044.6,483.4 1044.1,483.1 1043.6,482.7 1042.9,482.3 1042.3,481.9 1041.5,481.4 1040.8,480.9 1039.9,480.4 1039.1,479.9 1038.1,479.3 1037.2,478.7 1036.2,478.0 1035.1,477.3 1033.9,476.5 1032.7,475.6 1031.4,474.7 1030.1,473.7 1028.8,472.6 1027.3,471.4 1025.8,470.0 1024.1,468.4 1022.3,466.5 1020.4,464.3 1018.3,461.9 1016.1,459.1 1013.7,456.0 1011.2,452.6 1008.6,448.7 1005.9,444.3 1002.9,439.3 999.8,433.8 996.6,427.7 993.0,420.9 989.3,413.4 985.4,405.2 981.3,396.2 977.2,386.4 973.2,375.8 969.1,364.3 965.0,352.0 961.0,338.9 957.0,324.9 953.0,310.3 949.2,295.1 945.7,279.5 942.4,263.7 939.5,247.7 936.9,231.8 934.8,216.1 933.2,200.6 932.1,185.6 931.5,171.0 931.5,157.0 932.1,143.6 933.4,130.9 935.3,119.1 937.9,108.2 941.3,98.3 945.2,89.6 949.8,82.1 954.8,75.8 960.4,70.9 966.3,67.3 972.6,64.8 979.2,63.5 985.9,63.1 992.8,63.5 999.8,64.7 1006.9,66.4 1014.0,68.5 1021.1,70.9 1028.2,73.5 1035.2,76.3 1042.1,79.2 1048.8,82.2 1055.5,85.3 1062.0,88.4 1068.5,91.7 1075.0,95.0 1081.4,98.5 1087.7,102.0 1094.1,105.7 1100.4,109.4 1106.7,113.2 1113.0,117.0 1119.3,120.9 1125.6,124.9 1131.8,129.0 1138.0,133.1 1144.3,137.2 1150.5,141.4 1156.7,145.6 1162.9,149.8 1169.2,154.1 1175.4,158.4 1181.7,162.8 1187.9,167.1 1194.2,171.5 1200.4,175.9 1206.6,180.3 1212.8,184.7 1219.0,189.1 1225.2,193.5 1231.4,198.0 1237.5,202.4 1243.7,206.7 1249.8,211.1 1255.8,215.5 1261.9,219.8 1267.9,224.1 1273.8,228.4 1279.7,232.7 1285.6,236.9 1291.3,241.1 1297.1,245.2 1302.7,249.3 1308.3,253.4 1313.9,257.3 1319.3,261.2 1324.6,265.1 1329.9,268.8 1335.1,272.6 1340.1,276.2 1345.0,279.8 1349.8,283.2 1354.4,286.5 1358.8,289.7 1363.1,292.8 1367.2,295.8 1371.2,298.7 1375.1,301.5 1378.9,304.2 1382.6,306.8 1386.1,309.4 1389.4,311.7 1392.6,314.0 1395.6,316.2 1398.4,318.2 1401.1,320.2 1403.7,322.0 1406.2,323.8 1408.5,325.5 1410.7,327.1 1412.8,328.6 1414.7,330.0 1416.6,331.3 1418.3,332.6 1420.0,333.8 1421.5,334.9 1423.0,335.9 1424.4,336.9 1425.7,337.9 1427.0,338.8 1428.2,339.7 1429.3,340.5 1430.4,341.3 1431.5,342.1 1432.5,342.8 1433.5,343.5 1434.4,344.2 1435.2,344.8 1436.1,345.4 1436.8,345.9 1437.6,346.5 1438.3,347.0 1438.9,347.4 1439.5,347.8 1440.1,348.2 1440.6,348.6 1441.1,349.0 1441.6,349.3 1442.0,349.6 1442.4,349.9 1442.8,350.2 1443.1,350.4 1443.5,350.7 1443.8,350.9 1444.0,351.1 1444.3,351.3 1444.5,351.4 1444.7,351.6 1444.8,351.7 1445.0,351.8 1445.2,351.9 1445.3,352.0 1445.5,352.1 1445.6,352.2 1445.8,352.3 1445.9,352.4 1446.0,352.5 1446.1,352.6 1446.2,352.7 1446.4,352.8 1446.5,352.9 1446.6,353.0 1446.7,353.0 1446.8,353.1 1446.9,353.2 1447.0,353.2 1447.1,353.3 1447.2,353.4 1447.2,353.4 1447.3,353.4 1447.3,353.5 1447.4,353.5 1447.4,353.5 1447.4,353.5 1447.4,353.6 1447.5,353.6 1447.5,353.6 1447.5,353.6Z"/></clipPath>
<linearGradient id="r0" gradientUnits="userSpaceOnUse" x1="971" x2="1003" y1="0" y2="0"><stop offset="0.000" stop-color="#00ffa0"/><stop offset="1.000" stop-color="#00ff95"/></linearGradient>
<linearGradient id="r1" gradientUnits="userSpaceOnUse" x1="965" x2="1010" y1="0" y2="0"><stop offset="0.000" stop-color="#00ffa3"/><stop offset="1.000" stop-color="#00ff93"/></linearGradient>
<linearGradient id="r2" gradientUnits="userSpaceOnUse" x1="962" x2="1017" y1="0" y2="0"><stop offset="0.000" stop-color="#00ffa4"/><stop offset="1.000" stop-color="#00ff91"/></linearGradient>
<linearGradient id="r3" gradientUnits="userSpaceOnUse" x1="959" x2="1023" y1="0" y2="0"><stop offset="0.000" stop-color="#00ffa5"/><stop offset="1.000" stop-color="#00ff8e"/></linearGradient>
<linearGradient id="r4" gradientUnits="userSpaceOnUse" x1="957" x2="1028" y1="0" y2="0"><stop offset="0.000" stop-color="#00ffa6"/><stop offset="1.000" stop-color="#00ff8d"/></linearGradient>
<linearGradient id="r5" gradientUnits="userSpaceOnUse" x1="954" x2="1033" y1="0" y2="0"><stop offset="0.000" stop-color="#00ffa7"/><stop offset="0.658" stop-color="#00ff97"/><stop offset="1.000" stop-color="#00ff8b"/></linearGradient>
<linearGradient id="r6" gradientUnits="userSpaceOnUse" x1="952" x2="1038" y1="0" y2="0"><stop offset="0.000" stop-color="#00ffa8"/><stop offset="0.663" stop-color="#00ff96"/><stop offset="1.000" stop-color="#00ff89"/></linearGradient>
<linearGradient id="r7" gradientUnits="userSpaceOnUse" x1="951" x2="1043" y1="0" y2="0"><stop offset="0.000" stop-color="#00ffa9"/><stop offset="0.663" stop-color="#00ff95"/><stop offset="1.000" stop-color="#00ff86"/></linearGradient>
<linearGradient id="r8" gradientUnits="userSpaceOnUse" x1="949" x2="1048" y1="0" y2="0"><stop offset="0.000" stop-color="#00ffaa"/><stop offset="0.667" stop-color="#00ff94"/><stop offset="1.000" stop-color="#00ff84"/></linearGradient>
<linearGradient id="r9" gradientUnits="userSpaceOnUse" x1="948" x2="1052" y1="0" y2="0"><stop offset="0.000" stop-color="#00ffab"/><stop offset="0.663" stop-color="#00ff94"/><stop offset="1.000" stop-color="#00ff82"/></linearGradient>
<linearGradient id="r10" gradientUnits="userSpaceOnUse" x1="946" x2="1056" y1="0" y2="0"><stop offset="0.000" stop-color="#00ffac"/><stop offset="0.664" stop-color="#00ff94"/><stop offset="1.000" stop-color="#00ff80"/></linearGradient>
<linearGradient id="r11" gradientUnits="userSpaceOnUse" x1="945" x2="1061" y1="0" y2="0"><stop offset="0.000" stop-color="#00ffac"/><stop offset="0.664" stop-color="#00ff93"/><stop offset="1.000" stop-color="#00ff7e"/></linearGradient>
<linearGradient id="r12" gradientUnits="userSpaceOnUse" x1="944" x2="1065" y1="0" y2="0"><stop offset="0.000" stop-color="#00ffad"/><stop offset="0.438" stop-color="#00ff9d"/><stop offset="0.810" stop-color="#00ff89"/><stop offset="1.000" stop-color="#00ff7b"/></linearGradient>
<linearGradient id="r13" gradientUnits="userSpaceOnUse" x1="943" x2="1069" y1="0" y2="0"><stop offset="0.000" stop-color="#00ffae"/><stop offset="0.444" stop-color="#00ff9d"/><stop offset="0.810" stop-color="#00ff88"/><stop offset="1.000" stop-color="#00ff79"/></linearGradient>
<linearGradient id="r14" gradientUnits="userSpaceOnUse" x1="942" x2="1073" y1="0" y2="0"><stop offset="0.000" stop-color="#00ffae"/><stop offset="0.443" stop-color="#00ff9d"/><stop offset="0.809" stop-color="#00ff87"/><stop offset="1.000" stop-color="#00ff77"/></linearGradient>
<linearGradient id="r15" gradientUnits="userSpaceOnUse" x1="941" x2="1076" y1="0" y2="0"><stop offset="0.000" stop-color="#00ffaf"/><stop offset="0.444" stop-color="#00ff9d"/><stop offset="0.815" stop-color="#00ff86"/><stop offset="1.000" stop-color="#00ff75"/></linearGradient>
<linearGradient id="r16" gradientUnits="userSpaceOnUse" x1="940" x2="1080" y1="0" y2="0"><stop offset="0.000" stop-color="#00ffb0"/><stop offset="0.443" stop-color="#00ff9d"/><stop offset="0.814" stop-color="#00ff85"/><stop offset="1.000" stop-color="#00ff72"/></linearGradient>
<linearGradient id="r17" gradientUnits="userSpaceOnUse" x1="940" x2="1084" y1="0" y2="0"><stop offset="0.000" stop-color="#00ffb0"/><stop offset="0.444" stop-color="#00ff9d"/><stop offset="0.812" stop-color="#00ff83"/><stop offset="1.000" stop-color="#00ff6f"/></linearGradient>
<linearGradient id="r18" gradientUnits="userSpaceOnUse" x1="939" x2="1087" y1="0" y2="0"><stop offset="0.000" stop-color="#00ffb1"/><stop offset="0.439" stop-color="#00ff9d"/><stop offset="0.682" stop-color="#00ff8e"/><stop offset="1.000" stop-color="#00ff6d"/></linearGradient>
<linearGradient id="r19" gradientUnits="userSpaceOnUse" x1="938" x2="1091" y1="0" y2="0"><stop offset="0.000" stop-color="#00ffb2"/><stop offset="0.444" stop-color="#00ff9d"/><stop offset="0.810" stop-color="#00ff81"/><stop offset="1.000" stop-color="#00ff69"/></linearGradient>
<linearGradient id="r20" gradientUnits="userSpaceOnUse" x1="938" x2="1094" y1="0" y2="0"><stop offset="0.000" stop-color="#00ffb2"/><stop offset="0.442" stop-color="#00ff9d"/><stop offset="0.814" stop-color="#00ff80"/><stop offset="1.000" stop-color="#00ff67"/></linearGradient>
<linearGradient id="r21" gradientUnits="userSpaceOnUse" x1="937" x2="1098" y1="0" y2="0"><stop offset="0.000" stop-color="#00ffb3"/><stop offset="0.441" stop-color="#00ff9d"/><stop offset="0.689" stop-color="#00ff8b"/><stop offset="0.894" stop-color="#00ff74"/><stop offset="1.000" stop-color="#00ff63"/></linearGradient>
<linearGradient id="r22" gradientUnits="userSpaceOnUse" x1="936" x2="1101" y1="0" y2="0"><stop offset="0.000" stop-color="#00ffb3"/><stop offset="0.442" stop-color="#00ff9e"/><stop offset="0.685" stop-color="#00ff8b"/><stop offset="0.891" stop-color="#00ff73"/><stop offset="1.000" stop-color="#00ff60"/></linearGradient>
<linearGradient id="r23" gradientUnits="userSpaceOnUse" x1="936" x2="1105" y1="0" y2="0"><stop offset="0.000" stop-color="#00ffb4"/><stop offset="0.438" stop-color="#00ff9e"/><stop offset="0.686" stop-color="#00ff8a"/><stop offset="0.893" stop-color="#00ff6f"/><stop offset="1.000" stop-color="#00ff5b"/></linearGradient>
<linearGradient id="r24" gradientUnits="userSpaceOnUse" x1="935" x2="1108" y1="0" y2="0"><stop offset="0.000" stop-color="#00ffb5"/><stop offset="0.439" stop-color="#00ff9e"/><stop offset="0.682" stop-color="#00ff89"/><stop offset="0.890" stop-color="#00ff6e"/><stop offset="1.000" stop-color="#00ff58"/></linearGradient>
<linearGradient id="r25" gradientUnits="userSpaceOnUse" x1="935" x2="1111" y1="0" y2="0"><stop offset="0.000" stop-color="#00ffb5"/><stop offset="0.443" stop-color="#00ff9e"/><stop offset="0.688" stop-color="#00ff88"/><stop offset="0.892" stop-color="#00ff6c"/><stop offset="1.000" stop-color="#00ff54"/></linearGradient>
<linearGradient id="r26" gradientUnits="userSpaceOnUse" x1="934" x2="1114" y1="0" y2="0"><stop offset="0.000" stop-color="#00ffb6"/><stop offset="0.444" stop-color="#00ff9e"/><stop offset="0.689" stop-color="#00ff88"/><stop offset="0.894" stop-color="#00ff69"/><stop offset="1.000" stop-color="#00ff50"/></linearGradient>
<linearGradient id="r27" gradientUnits="userSpaceOnUse" x1="934" x2="1118" y1="0" y2="0"><stop offset="0.000" stop-color="#00ffb6"/><stop offset="0.440" stop-color="#00ff9e"/><stop offset="0.685" stop-color="#00ff87"/><stop offset="0.821" stop-color="#00ff74"/><stop offset="0.940" stop-color="#00ff5b"/><stop offset="1.000" stop-color="#00ff49"/></linearGradient>
<linearGradient id="r28" gradientUnits="userSpaceOnUse" x1="934" x2="1121" y1="0" y2="0"><stop offset="0.000" stop-color="#00ffb7"/><stop offset="0.439" stop-color="#00ff9e"/><stop offset="0.684" stop-color="#00ff86"/><stop offset="0.824" stop-color="#00ff71"/><stop offset="0.941" stop-color="#00ff57"/><stop offset="1.000" stop-color="#00ff44"/></linearGradient>
<linearGradient id="r29" gradientUnits="userSpaceOnUse" x1="933" x2="1124" y1="0" y2="0"><stop offset="0.000" stop-color="#00ffb7"/><stop offset="0.293" stop-color="#00ffa8"/><stop offset="0.607" stop-color="#00ff8f"/><stop offset="0.780" stop-color="#00ff77"/><stop offset="0.874" stop-color="#00ff65"/><stop offset="0.958" stop-color="#00ff4e"/><stop offset="1.000" stop-color="#00ff3e"/></linearGradient>
<linearGradient id="r30" gradientUnits="userSpaceOnUse" x1="933" x2="1127" y1="0" y2="0"><stop offset="0.000" stop-color="#00ffb8"/><stop offset="0.443" stop-color="#00ff9e"/><stop offset="0.691" stop-color="#00ff84"/><stop offset="0.825" stop-color="#00ff6e"/><stop offset="0.938" stop-color="#00ff50"/><stop offset="1.000" stop-color="#00ff37"/></linearGradient>
<linearGradient id="r31" gradientUnits="userSpaceOnUse" x1="933" x2="1130" y1="0" y2="0"><stop offset="0.000" stop-color="#00ffb8"/><stop offset="0.294" stop-color="#00ffa9"/><stop offset="0.604" stop-color="#00ff8e"/><stop offset="0.777" stop-color="#00ff75"/><stop offset="0.873" stop-color="#00ff60"/><stop offset="0.954" stop-color="#00ff46"/><stop offset="1.000" stop-color="#00ff2e"/></linearGradient>
<linearGradient id="r32" gradientUnits="userSpaceOnUse" x1="932" x2="1133" y1="0" y2="0"><stop offset="0.000" stop-color="#00ffb9"/><stop offset="0.294" stop-color="#00ffa9"/><stop offset="0.498" stop-color="#00ff99"/><stop offset="0.716" stop-color="#00ff7e"/><stop offset="0.841" stop-color="#00ff66"/><stop offset="0.910" stop-color="#00ff52"/><stop offset="0.970" stop-color="#00ff38"/><stop offset="1.000" stop-color="#00ff24"/></linearGradient>
<linearGradient id="r33" gradientUnits="userSpaceOnUse" x1="932" x2="1136" y1="0" y2="0"><stop offset="0.000" stop-color="#00ffb9"/><stop offset="0.294" stop-color="#00ffaa"/><stop offset="0.608" stop-color="#00ff8d"/><stop offset="0.779" stop-color="#00ff71"/><stop offset="0.877" stop-color="#00ff59"/><stop offset="0.956" stop-color="#00ff39"/><stop offset="0.985" stop-color="#00ff24"/><stop offset="1.000" stop-color="#00ff13"/></linearGradient>
<linearGradient id="r34" gradientUnits="userSpaceOnUse" x1="932" x2="1139" y1="0" y2="0"><stop offset="0.000" stop-color="#00ffba"/><stop offset="0.295" stop-color="#00ffaa"/><stop offset="0.604" stop-color="#00ff8d"/><stop offset="0.778" stop-color="#00ff70"/><stop offset="0.874" stop-color="#00ff56"/><stop offset="0.928" stop-color="#00ff41"/><stop offset="0.957" stop-color="#00ff30"/><stop offset="0.976" stop-color="#00ff20"/><stop offset="0.986" stop-color="#00ff14"/><stop offset="0.990" stop-color="#00ff0a"/><stop offset="0.995" stop-color="#0eff00"/><stop offset="1.000" stop-color="#17ff00"/></linearGradient>
<linearGradient id="r35" gradientUnits="userSpaceOnUse" x1="931" x2="1142" y1="0" y2="0"><stop offset="0.000" stop-color="#00ffbb"/><stop offset="0.294" stop-color="#00ffaa"/><stop offset="0.502" stop-color="#00ff99"/><stop offset="0.645" stop-color="#00ff87"/><stop offset="0.801" stop-color="#00ff69"/><stop offset="0.886" stop-color="#00ff4e"/><stop offset="0.934" stop-color="#00ff37"/><stop offset="0.962" stop-color="#00ff21"/><stop offset="0.976" stop-color="#00ff0c"/><stop offset="0.981" stop-color="#0dff00"/><stop offset="0.991" stop-color="#1dff00"/><stop offset="1.000" stop-color="#27ff00"/></linearGradient>
<linearGradient id="r36" gradientUnits="userSpaceOnUse" x1="931" x2="1145" y1="0" y2="0"><stop offset="0.000" stop-color="#00ffbb"/><stop offset="0.290" stop-color="#00ffab"/><stop offset="0.495" stop-color="#00ff99"/><stop offset="0.645" stop-color="#00ff86"/><stop offset="0.799" stop-color="#00ff67"/><stop offset="0.883" stop-color="#00ff4b"/><stop offset="0.930" stop-color="#00ff32"/><stop offset="0.949" stop-color="#00ff22"/><stop offset="0.958" stop-color="#00ff16"/><stop offset="0.963" stop-color="#00ff0d"/><stop offset="0.967" stop-color="#0bff00"/><stop offset="0.977" stop-color="#1cff00"/><stop offset="1.000" stop-color="#32ff00"/></linearGradient>
<linearGradient id="r37" gradientUnits="userSpaceOnUse" x1="931" x2="1148" y1="0" y2="0"><stop offset="0.000" stop-color="#00ffbc"/><stop offset="0.295" stop-color="#00ffab"/><stop offset="0.502" stop-color="#00ff98"/><stop offset="0.650" stop-color="#00ff84"/><stop offset="0.751" stop-color="#00ff71"/><stop offset="0.825" stop-color="#00ff5d"/><stop offset="0.899" stop-color="#00ff3e"/><stop offset="0.926" stop-color="#00ff2b"/><stop offset="0.945" stop-color="#00ff17"/><stop offset="0.949" stop-color="#00ff0f"/><stop offset="0.954" stop-color="#09ff00"/><stop offset="0.963" stop-color="#1bff00"/><stop offset="0.986" stop-color="#32ff00"/><stop offset="1.000" stop-color="#3cff00"/></linearGradient>
<linearGradient id="r38" gradientUnits="userSpaceOnUse" x1="931" x2="1151" y1="0" y2="0"><stop offset="0.000" stop-color="#00ffbc"/><stop offset="0.291" stop-color="#00ffab"/><stop offset="0.500" stop-color="#00ff98"/><stop offset="0.645" stop-color="#00ff84"/><stop offset="0.745" stop-color="#00ff70"/><stop offset="0.818" stop-color="#00ff5c"/><stop offset="0.868" stop-color="#00ff48"/><stop offset="0.905" stop-color="#00ff33"/><stop offset="0.923" stop-color="#00ff24"/><stop offset="0.932" stop-color="#00ff18"/><stop offset="0.936" stop-color="#00ff10"/><stop offset="0.941" stop-color="#07ff00"/><stop offset="0.950" stop-color="#1bff00"/><stop offset="0.982" stop-color="#39ff00"/><stop offset="1.000" stop-color="#45ff00"/></linearGradient>
<linearGradient id="r39" gradientUnits="userSpaceOnUse" x1="931" x2="1154" y1="0" y2="0"><stop offset="0.000" stop-color="#00ffbd"/><stop offset="0.291" stop-color="#00ffac"/><stop offset="0.498" stop-color="#00ff98"/><stop offset="0.641" stop-color="#00ff84"/><stop offset="0.744" stop-color="#00ff6f"/><stop offset="0.816" stop-color="#00ff59"/><stop offset="0.870" stop-color="#00ff42"/><stop offset="0.906" stop-color="#00ff29"/><stop offset="0.924" stop-color="#00ff12"/><stop offset="0.928" stop-color="#03ff00"/><stop offset="0.933" stop-color="#12ff00"/><stop offset="0.951" stop-color="#2aff00"/><stop offset="1.000" stop-color="#4dff00"/></linearGradient>
<linearGradient id="r40" gradientUnits="userSpaceOnUse" x1="931" x2="1157" y1="0" y2="0"><stop offset="0.000" stop-color="#00ffbd"/><stop offset="0.292" stop-color="#00ffac"/><stop offset="0.496" stop-color="#00ff99"/><stop offset="0.642" stop-color="#00ff83"/><stop offset="0.748" stop-color="#00ff6c"/><stop offset="0.819" stop-color="#00ff55"/><stop offset="0.872" stop-color="#00ff3b"/><stop offset="0.894" stop-color="#00ff2a"/><stop offset="0.912" stop-color="#00ff13"/><stop offset="0.916" stop-color="#00ff05"/><stop offset="0.920" stop-color="#11ff00"/><stop offset="0.934" stop-color="#25ff00"/><stop offset="0.960" stop-color="#3cff00"/><stop offset="1.000" stop-color="#54ff00"/></linearGradient>
<linearGradient id="r41" gradientUnits="userSpaceOnUse" x1="930" x2="1160" y1="0" y2="0"><stop offset="0.000" stop-color="#00ffbe"/><stop offset="0.296" stop-color="#00ffac"/><stop offset="0.504" stop-color="#00ff98"/><stop offset="0.648" stop-color="#00ff82"/><stop offset="0.752" stop-color="#00ff69"/><stop offset="0.822" stop-color="#00ff50"/><stop offset="0.874" stop-color="#00ff32"/><stop offset="0.896" stop-color="#00ff1b"/><stop offset="0.904" stop-color="#00ff08"/><stop offset="0.909" stop-color="#10ff00"/><stop offset="0.917" stop-color="#1fff00"/><stop offset="0.939" stop-color="#35ff00"/><stop offset="0.978" stop-color="#4fff00"/><stop offset="1.000" stop-color="#5bff00"/></linearGradient>
<linearGradient id="r42" gradientUnits="userSpaceOnUse" x1="930" x2="1163" y1="0" y2="0"><stop offset="0.000" stop-color="#00ffbe"/><stop offset="0.292" stop-color="#00ffad"/><stop offset="0.498" stop-color="#00ff98"/><stop offset="0.644" stop-color="#00ff81"/><stop offset="0.747" stop-color="#00ff68"/><stop offset="0.820" stop-color="#00ff4d"/><stop offset="0.854" stop-color="#00ff39"/><stop offset="0.880" stop-color="#00ff22"/><stop offset="0.893" stop-color="#00ff0b"/><stop offset="0.897" stop-color="#0fff00"/><stop offset="0.914" stop-color="#29ff00"/><stop offset="0.948" stop-color="#45ff00"/><stop offset="1.000" stop-color="#61ff00"/></linearGradient>
<linearGradient id="r43" gradientUnits="userSpaceOnUse" x1="930" x2="1166" y1="0" y2="0"><stop offset="0.000" stop-color="#00ffbf"/><stop offset="0.292" stop-color="#00ffad"/><stop offset="0.500" stop-color="#00ff98"/><stop offset="0.644" stop-color="#00ff80"/><stop offset="0.746" stop-color="#00ff66"/><stop offset="0.818" stop-color="#00ff49"/><stop offset="0.852" stop-color="#00ff33"/><stop offset="0.869" stop-color="#00ff23"/><stop offset="0.877" stop-color="#00ff17"/><stop offset="0.881" stop-color="#00ff0d"/><stop offset="0.886" stop-color="#0dff00"/><stop offset="0.898" stop-color="#24ff00"/><stop offset="0.924" stop-color="#3cff00"/><stop offset="0.975" stop-color="#5bff00"/><stop offset="1.000" stop-color="#68ff00"/></linearGradient>
<linearGradient id="r44" gradientUnits="userSpaceOnUse" x1="930" x2="1169" y1="0" y2="0"><stop offset="0.000" stop-color="#00ffbf"/><stop offset="0.293" stop-color="#00ffad"/><stop offset="0.498" stop-color="#00ff98"/><stop offset="0.644" stop-color="#00ff7f"/><stop offset="0.745" stop-color="#00ff64"/><stop offset="0.791" stop-color="#00ff52"/><stop offset="0.828" stop-color="#00ff3d"/><stop offset="0.849" stop-color="#00ff2d"/><stop offset="0.866" stop-color="#00ff18"/><stop offset="0.870" stop-color="#00ff0e"/><stop offset="0.874" stop-color="#0bff00"/><stop offset="0.883" stop-color="#1dff00"/><stop offset="0.904" stop-color="#35ff00"/><stop offset="0.946" stop-color="#52ff00"/><stop offset="1.000" stop-color="#6eff00"/></linearGradient>
<linearGradient id="r45" gradientUnits="userSpaceOnUse" x1="930" x2="1172" y1="0" y2="0"><stop offset="0.000" stop-color="#00ffc0"/><stop offset="0.293" stop-color="#00ffad"/><stop offset="0.500" stop-color="#00ff97"/><stop offset="0.645" stop-color="#00ff7e"/><stop offset="0.748" stop-color="#00ff61"/><stop offset="0.793" stop-color="#00ff4d"/><stop offset="0.831" stop-color="#00ff35"/><stop offset="0.851" stop-color="#00ff1f"/><stop offset="0.860" stop-color="#00ff10"/><stop offset="0.864" stop-color="#09ff00"/><stop offset="0.872" stop-color="#1dff00"/><stop offset="0.893" stop-color="#35ff00"/><stop offset="0.938" stop-color="#55ff00"/><stop offset="1.000" stop-color="#74ff00"/></linearGradient>
<linearGradient id="r46" gradientUnits="userSpaceOnUse" x1="930" x2="1175" y1="0" y2="0"><stop offset="0.000" stop-color="#00ffc1"/><stop offset="0.294" stop-color="#00ffae"/><stop offset="0.498" stop-color="#00ff98"/><stop offset="0.645" stop-color="#00ff7d"/><stop offset="0.710" stop-color="#00ff6b"/><stop offset="0.763" stop-color="#00ff57"/><stop offset="0.804" stop-color="#00ff42"/><stop offset="0.829" stop-color="#00ff2e"/><stop offset="0.841" stop-color="#00ff20"/><stop offset="0.849" stop-color="#00ff11"/><stop offset="0.853" stop-color="#06ff00"/><stop offset="0.857" stop-color="#14ff00"/><stop offset="0.873" stop-color="#2cff00"/><stop offset="0.906" stop-color="#48ff00"/><stop offset="0.967" stop-color="#6bff00"/><stop offset="1.000" stop-color="#7aff00"/></linearGradient>
<linearGradient id="r47" gradientUnits="userSpaceOnUse" x1="930" x2="1178" y1="0" y2="0"><stop offset="0.000" stop-color="#00ffc1"/><stop offset="0.294" stop-color="#00ffae"/><stop offset="0.500" stop-color="#00ff97"/><stop offset="0.645" stop-color="#00ff7c"/><stop offset="0.746" stop-color="#00ff5c"/><stop offset="0.794" stop-color="#00ff42"/><stop offset="0.819" stop-color="#00ff2f"/><stop offset="0.831" stop-color="#00ff21"/><stop offset="0.839" stop-color="#00ff13"/><stop offset="0.843" stop-color="#00ff01"/><stop offset="0.847" stop-color="#13ff00"/><stop offset="0.863" stop-color="#2cff00"/><stop offset="0.899" stop-color="#4bff00"/><stop offset="0.964" stop-color="#6fff00"/><stop offset="1.000" stop-color="#80ff00"/></linearGradient>
<linearGradient id="r48" gradientUnits="userSpaceOnUse" x1="930" x2="1181" y1="0" y2="0"><stop offset="0.000" stop-color="#00ffc2"/><stop offset="0.295" stop-color="#00ffae"/><stop offset="0.502" stop-color="#00ff97"/><stop offset="0.645" stop-color="#00ff7a"/><stop offset="0.713" stop-color="#00ff66"/><stop offset="0.769" stop-color="#00ff4d"/><stop offset="0.809" stop-color="#00ff30"/><stop offset="0.825" stop-color="#00ff1c"/><stop offset="0.833" stop-color="#00ff07"/><stop offset="0.837" stop-color="#12ff00"/><stop offset="0.849" stop-color="#27ff00"/><stop offset="0.873" stop-color="#3fff00"/><stop offset="0.928" stop-color="#64ff00"/><stop offset="1.000" stop-color="#85ff00"/></linearGradient>
<linearGradient id="r49" gradientUnits="userSpaceOnUse" x1="930" x2="1184" y1="0" y2="0"><stop offset="0.000" stop-color="#00ffc2"/><stop offset="0.291" stop-color="#00ffaf"/><stop offset="0.500" stop-color="#00ff97"/><stop offset="0.646" stop-color="#00ff79"/><stop offset="0.713" stop-color="#00ff64"/><stop offset="0.768" stop-color="#00ff49"/><stop offset="0.795" stop-color="#00ff35"/><stop offset="0.811" stop-color="#00ff23"/><stop offset="0.819" stop-color="#00ff16"/><stop offset="0.823" stop-color="#00ff0a"/><stop offset="0.827" stop-color="#10ff00"/><stop offset="0.835" stop-color="#20ff00"/><stop offset="0.854" stop-color="#38ff00"/><stop offset="0.894" stop-color="#56ff00"/><stop offset="0.965" stop-color="#7cff00"/><stop offset="1.000" stop-color="#8bff00"/></linearGradient>
<linearGradient id="r50" gradientUnits="userSpaceOnUse" x1="930" x2="1186" y1="0" y2="0"><stop offset="0.000" stop-color="#00ffc3"/><stop offset="0.293" stop-color="#00ffaf"/><stop offset="0.500" stop-color="#00ff97"/><stop offset="0.645" stop-color="#00ff79"/><stop offset="0.711" stop-color="#00ff63"/><stop offset="0.766" stop-color="#00ff47"/><stop offset="0.793" stop-color="#00ff32"/><stop offset="0.809" stop-color="#00ff1e"/><stop offset="0.816" stop-color="#00ff0c"/><stop offset="0.820" stop-color="#0fff00"/><stop offset="0.832" stop-color="#26ff00"/><stop offset="0.863" stop-color="#45ff00"/><stop offset="0.922" stop-color="#6bff00"/><stop offset="1.000" stop-color="#8fff00"/></linearGradient>
<linearGradient id="r51" gradientUnits="userSpaceOnUse" x1="930" x2="1189" y1="0" y2="0"><stop offset="0.000" stop-color="#00ffc3"/><stop offset="0.293" stop-color="#00ffaf"/><stop offset="0.432" stop-color="#00ffa0"/><stop offset="0.541" stop-color="#00ff90"/><stop offset="0.625" stop-color="#00ff7d"/><stop offset="0.695" stop-color="#00ff67"/><stop offset="0.749" stop-color="#00ff4d"/><stop offset="0.780" stop-color="#00ff36"/><stop offset="0.795" stop-color="#00ff25"/><stop offset="0.803" stop-color="#00ff18"/><stop offset="0.807" stop-color="#00ff0e"/><stop offset="0.811" stop-color="#0dff00"/><stop offset="0.819" stop-color="#1fff00"/><stop offset="0.838" stop-color="#37ff00"/><stop offset="0.884" stop-color="#5bff00"/><stop offset="0.961" stop-color="#84ff00"/><stop offset="1.000" stop-color="#94ff00"/></linearGradient>
<linearGradient id="r52" gradientUnits="userSpaceOnUse" x1="930" x2="1192" y1="0" y2="0"><stop offset="0.000" stop-color="#00ffc4"/><stop offset="0.294" stop-color="#00ffb0"/><stop offset="0.500" stop-color="#00ff96"/><stop offset="0.595" stop-color="#00ff83"/><stop offset="0.672" stop-color="#00ff6d"/><stop offset="0.733" stop-color="#00ff52"/><stop offset="0.763" stop-color="#00ff3e"/><stop offset="0.782" stop-color="#00ff2b"/><stop offset="0.798" stop-color="#00ff10"/><stop offset="0.802" stop-color="#0bff00"/><stop offset="0.809" stop-color="#1fff00"/><stop offset="0.832" stop-color="#3bff00"/><stop offset="0.878" stop-color="#5eff00"/><stop offset="0.958" stop-color="#88ff00"/><stop offset="1.000" stop-color="#9aff00"/></linearGradient>
<linearGradient id="r53" gradientUnits="userSpaceOnUse" x1="930" x2="1195" y1="0" y2="0"><stop offset="0.000" stop-color="#00ffc4"/><stop offset="0.294" stop-color="#00ffb0"/><stop offset="0.430" stop-color="#00ffa1"/><stop offset="0.540" stop-color="#00ff8f"/><stop offset="0.630" stop-color="#00ff79"/><stop offset="0.698" stop-color="#00ff60"/><stop offset="0.736" stop-color="#00ff4c"/><stop offset="0.766" stop-color="#00ff34"/><stop offset="0.777" stop-color="#00ff27"/><stop offset="0.785" stop-color="#00ff1a"/><stop offset="0.789" stop-color="#00ff11"/><stop offset="0.792" stop-color="#09ff00"/><stop offset="0.800" stop-color="#1eff00"/><stop offset="0.823" stop-color="#3bff00"/><stop offset="0.872" stop-color="#61ff00"/><stop offset="0.955" stop-color="#8cff00"/><stop offset="1.000" stop-color="#9fff00"/></linearGradient>
<linearGradient id="r54" gradientUnits="userSpaceOnUse" x1="930" x2="1198" y1="0" y2="0"><stop offset="0.000" stop-color="#00ffc5"/><stop offset="0.291" stop-color="#00ffb1"/><stop offset="0.500" stop-color="#00ff96"/><stop offset="0.597" stop-color="#00ff81"/><stop offset="0.675" stop-color="#00ff67"/><stop offset="0.713" stop-color="#00ff56"/><stop offset="0.746" stop-color="#00ff3f"/><stop offset="0.765" stop-color="#00ff2d"/><stop offset="0.776" stop-color="#00ff1c"/><stop offset="0.780" stop-color="#00ff13"/><stop offset="0.784" stop-color="#06ff00"/><stop offset="0.787" stop-color="#15ff00"/><stop offset="0.802" stop-color="#2eff00"/><stop offset="0.825" stop-color="#46ff00"/><stop offset="0.873" stop-color="#68ff00"/><stop offset="0.955" stop-color="#92ff00"/><stop offset="1.000" stop-color="#a5ff00"/></linearGradient>
<linearGradient id="r55" gradientUnits="userSpaceOnUse" x1="930" x2="1201" y1="0" y2="0"><stop offset="0.000" stop-color="#00ffc5"/><stop offset="0.295" stop-color="#00ffb1"/><stop offset="0.502" stop-color="#00ff95"/><stop offset="0.598" stop-color="#00ff80"/><stop offset="0.675" stop-color="#00ff65"/><stop offset="0.712" stop-color="#00ff52"/><stop offset="0.745" stop-color="#00ff39"/><stop offset="0.764" stop-color="#00ff23"/><stop offset="0.771" stop-color="#00ff14"/><stop offset="0.775" stop-color="#00ff04"/><stop offset="0.779" stop-color="#14ff00"/><stop offset="0.793" stop-color="#2eff00"/><stop offset="0.815" stop-color="#46ff00"/><stop offset="0.867" stop-color="#6bff00"/><stop offset="0.956" stop-color="#98ff00"/><stop offset="1.000" stop-color="#aaff00"/></linearGradient>
<linearGradient id="r56" gradientUnits="userSpaceOnUse" x1="930" x2="1203" y1="0" y2="0"><stop offset="0.000" stop-color="#00ffc6"/><stop offset="0.293" stop-color="#00ffb1"/><stop offset="0.429" stop-color="#00ffa1"/><stop offset="0.538" stop-color="#00ff8e"/><stop offset="0.626" stop-color="#00ff77"/><stop offset="0.700" stop-color="#00ff57"/><stop offset="0.736" stop-color="#00ff3e"/><stop offset="0.758" stop-color="#00ff24"/><stop offset="0.766" stop-color="#00ff16"/><stop offset="0.769" stop-color="#00ff08"/><stop offset="0.773" stop-color="#12ff00"/><stop offset="0.784" stop-color="#29ff00"/><stop offset="0.810" stop-color="#46ff00"/><stop offset="0.861" stop-color="#6bff00"/><stop offset="0.919" stop-color="#8bff00"/><stop offset="1.000" stop-color="#aeff00"/></linearGradient>
<linearGradient id="r57" gradientUnits="userSpaceOnUse" x1="930" x2="1206" y1="0" y2="0"><stop offset="0.000" stop-color="#00ffc7"/><stop offset="0.293" stop-color="#00ffb2"/><stop offset="0.431" stop-color="#00ffa1"/><stop offset="0.540" stop-color="#00ff8d"/><stop offset="0.627" stop-color="#00ff75"/><stop offset="0.699" stop-color="#00ff54"/><stop offset="0.736" stop-color="#00ff37"/><stop offset="0.750" stop-color="#00ff25"/><stop offset="0.757" stop-color="#00ff17"/><stop offset="0.761" stop-color="#00ff0b"/><stop offset="0.764" stop-color="#11ff00"/><stop offset="0.775" stop-color="#28ff00"/><stop offset="0.793" stop-color="#3fff00"/><stop offset="0.830" stop-color="#5dff00"/><stop offset="0.902" stop-color="#88ff00"/><stop offset="1.000" stop-color="#b3ff00"/></linearGradient>
<linearGradient id="r58" gradientUnits="userSpaceOnUse" x1="930" x2="1209" y1="0" y2="0"><stop offset="0.000" stop-color="#00ffc7"/><stop offset="0.294" stop-color="#00ffb2"/><stop offset="0.502" stop-color="#00ff95"/><stop offset="0.595" stop-color="#00ff7e"/><stop offset="0.674" stop-color="#00ff5f"/><stop offset="0.713" stop-color="#00ff45"/><stop offset="0.735" stop-color="#00ff30"/><stop offset="0.749" stop-color="#00ff18"/><stop offset="0.753" stop-color="#00ff0d"/><stop offset="0.756" stop-color="#0fff00"/><stop offset="0.763" stop-color="#21ff00"/><stop offset="0.781" stop-color="#3bff00"/><stop offset="0.821" stop-color="#5eff00"/><stop offset="0.900" stop-color="#8dff00"/><stop offset="1.000" stop-color="#b9ff00"/></linearGradient>
<linearGradient id="r59" gradientUnits="userSpaceOnUse" x1="930" x2="1212" y1="0" y2="0"><stop offset="0.000" stop-color="#00ffc8"/><stop offset="0.294" stop-color="#00ffb2"/><stop offset="0.429" stop-color="#00ffa2"/><stop offset="0.539" stop-color="#00ff8c"/><stop offset="0.628" stop-color="#00ff71"/><stop offset="0.674" stop-color="#00ff5c"/><stop offset="0.713" stop-color="#00ff40"/><stop offset="0.734" stop-color="#00ff27"/><stop offset="0.741" stop-color="#00ff1a"/><stop offset="0.745" stop-color="#00ff0f"/><stop offset="0.748" stop-color="#0dff00"/><stop offset="0.755" stop-color="#21ff00"/><stop offset="0.773" stop-color="#3bff00"/><stop offset="0.816" stop-color="#61ff00"/><stop offset="0.894" stop-color="#8fff00"/><stop offset="1.000" stop-color="#beff00"/></linearGradient>
<linearGradient id="r60" gradientUnits="userSpaceOnUse" x1="930" x2="1215" y1="0" y2="0"><stop offset="0.000" stop-color="#00ffc8"/><stop offset="0.295" stop-color="#00ffb3"/><stop offset="0.432" stop-color="#00ffa1"/><stop offset="0.544" stop-color="#00ff8b"/><stop offset="0.632" stop-color="#00ff6e"/><stop offset="0.677" stop-color="#00ff56"/><stop offset="0.702" stop-color="#00ff44"/><stop offset="0.723" stop-color="#00ff2d"/><stop offset="0.730" stop-color="#00ff22"/><stop offset="0.737" stop-color="#00ff11"/><stop offset="0.740" stop-color="#11ff0d"/><stop offset="0.747" stop-color="#20ff00"/><stop offset="0.768" stop-color="#3eff00"/><stop offset="0.811" stop-color="#64ff00"/><stop offset="0.867" stop-color="#87ff00"/><stop offset="0.954" stop-color="#b1ff00"/><stop offset="1.000" stop-color="#c4ff00"/></linearGradient>
<linearGradient id="r61" gradientUnits="userSpaceOnUse" x1="931" x2="1217" y1="0" y2="0"><stop offset="0.000" stop-color="#00ffc9"/><stop offset="0.294" stop-color="#00ffb3"/><stop offset="0.430" stop-color="#00ffa1"/><stop offset="0.542" stop-color="#00ff8b"/><stop offset="0.629" stop-color="#00ff6d"/><stop offset="0.675" stop-color="#00ff55"/><stop offset="0.703" stop-color="#00ff3f"/><stop offset="0.724" stop-color="#00ff23"/><stop offset="0.727" stop-color="#00ff1c"/><stop offset="0.731" stop-color="#0fff18"/><stop offset="0.738" stop-color="#1fff14"/><stop offset="0.752" stop-color="#32ff06"/><stop offset="0.755" stop-color="#36ff00"/><stop offset="0.783" stop-color="#53ff00"/><stop offset="0.825" stop-color="#72ff00"/><stop offset="0.902" stop-color="#9dff00"/><stop offset="1.000" stop-color="#c8ff00"/></linearGradient>
<linearGradient id="r62" gradientUnits="userSpaceOnUse" x1="931" x2="1220" y1="0" y2="0"><stop offset="0.000" stop-color="#00ffc9"/><stop offset="0.194" stop-color="#00ffbd"/><stop offset="0.429" stop-color="#00ffa2"/><stop offset="0.540" stop-color="#00ff8a"/><stop offset="0.626" stop-color="#00ff6d"/><stop offset="0.675" stop-color="#00ff51"/><stop offset="0.702" stop-color="#00ff38"/><stop offset="0.716" stop-color="#00ff25"/><stop offset="0.723" stop-color="#16ff1f"/><stop offset="0.737" stop-color="#2dff18"/><stop offset="0.751" stop-color="#3cff0d"/><stop offset="0.758" stop-color="#42ff00"/><stop offset="0.803" stop-color="#69ff00"/><stop offset="0.858" stop-color="#8cff00"/><stop offset="0.952" stop-color="#b9ff00"/><stop offset="1.000" stop-color="#cdff00"/></linearGradient>
<linearGradient id="r63" gradientUnits="userSpaceOnUse" x1="931" x2="1223" y1="0" y2="0"><stop offset="0.000" stop-color="#00ffca"/><stop offset="0.295" stop-color="#00ffb4"/><stop offset="0.432" stop-color="#00ffa1"/><stop offset="0.541" stop-color="#00ff89"/><stop offset="0.599" stop-color="#00ff76"/><stop offset="0.647" stop-color="#00ff5f"/><stop offset="0.675" stop-color="#00ff4d"/><stop offset="0.702" stop-color="#00ff30"/><stop offset="0.705" stop-color="#00ff2b"/><stop offset="0.712" stop-color="#15ff25"/><stop offset="0.726" stop-color="#2cff20"/><stop offset="0.747" stop-color="#42ff14"/><stop offset="0.760" stop-color="#4dff06"/><stop offset="0.764" stop-color="#50ff00"/><stop offset="0.808" stop-color="#74ff00"/><stop offset="0.890" stop-color="#a3ff00"/><stop offset="1.000" stop-color="#d3ff00"/></linearGradient>
<linearGradient id="r64" gradientUnits="userSpaceOnUse" x1="931" x2="1226" y1="0" y2="0"><stop offset="0.000" stop-color="#00ffcb"/><stop offset="0.292" stop-color="#00ffb5"/><stop offset="0.427" stop-color="#00ffa2"/><stop offset="0.536" stop-color="#00ff8a"/><stop offset="0.593" stop-color="#00ff77"/><stop offset="0.644" stop-color="#00ff5e"/><stop offset="0.671" stop-color="#00ff4b"/><stop offset="0.698" stop-color="#00ff2c"/><stop offset="0.702" stop-color="#12ff2b"/><stop offset="0.708" stop-color="#21ff29"/><stop offset="0.729" stop-color="#3bff21"/><stop offset="0.749" stop-color="#4dff16"/><stop offset="0.763" stop-color="#58ff09"/><stop offset="0.766" stop-color="#5aff00"/><stop offset="0.810" stop-color="#7bff00"/><stop offset="0.892" stop-color="#a9ff00"/><stop offset="1.000" stop-color="#d8ff00"/></linearGradient>
<linearGradient id="r65" gradientUnits="userSpaceOnUse" x1="931" x2="1229" y1="0" y2="0"><stop offset="0.000" stop-color="#00ffcb"/><stop offset="0.295" stop-color="#00ffb5"/><stop offset="0.433" stop-color="#00ffa1"/><stop offset="0.540" stop-color="#00ff88"/><stop offset="0.597" stop-color="#00ff74"/><stop offset="0.648" stop-color="#00ff59"/><stop offset="0.674" stop-color="#00ff42"/><stop offset="0.685" stop-color="#00ff37"/><stop offset="0.688" stop-color="#00ff32"/><stop offset="0.691" stop-color="#10ff30"/><stop offset="0.698" stop-color="#20ff2e"/><stop offset="0.721" stop-color="#3eff26"/><stop offset="0.755" stop-color="#5aff15"/><stop offset="0.768" stop-color="#63ff06"/><stop offset="0.772" stop-color="#66ff00"/><stop offset="0.839" stop-color="#93ff00"/><stop offset="0.946" stop-color="#c8ff00"/><stop offset="1.000" stop-color="#deff00"/></linearGradient>
<linearGradient id="r66" gradientUnits="userSpaceOnUse" x1="931" x2="1232" y1="0" y2="0"><stop offset="0.000" stop-color="#00ffcc"/><stop offset="0.193" stop-color="#00ffbf"/><stop offset="0.352" stop-color="#00ffae"/><stop offset="0.478" stop-color="#00ff98"/><stop offset="0.578" stop-color="#00ff7a"/><stop offset="0.631" stop-color="#00ff60"/><stop offset="0.661" stop-color="#00ff4a"/><stop offset="0.678" stop-color="#00ff38"/><stop offset="0.684" stop-color="#17ff34"/><stop offset="0.701" stop-color="#32ff2f"/><stop offset="0.738" stop-color="#55ff21"/><stop offset="0.767" stop-color="#6aff0d"/><stop offset="0.774" stop-color="#6eff00"/><stop offset="0.841" stop-color="#99ff00"/><stop offset="0.947" stop-color="#ceff00"/><stop offset="1.000" stop-color="#e3ff00"/></linearGradient>
<linearGradient id="r67" gradientUnits="userSpaceOnUse" x1="931" x2="1234" y1="0" y2="0"><stop offset="0.000" stop-color="#00ffcc"/><stop offset="0.195" stop-color="#00ffbf"/><stop offset="0.353" stop-color="#00ffae"/><stop offset="0.479" stop-color="#00ff98"/><stop offset="0.578" stop-color="#00ff7a"/><stop offset="0.630" stop-color="#00ff5f"/><stop offset="0.660" stop-color="#00ff48"/><stop offset="0.670" stop-color="#00ff3d"/><stop offset="0.677" stop-color="#16ff39"/><stop offset="0.693" stop-color="#31ff34"/><stop offset="0.733" stop-color="#57ff27"/><stop offset="0.766" stop-color="#6eff15"/><stop offset="0.776" stop-color="#74ff0b"/><stop offset="0.782" stop-color="#79ff00"/><stop offset="0.845" stop-color="#a0ff00"/><stop offset="0.947" stop-color="#d2ff00"/><stop offset="1.000" stop-color="#e8ff00"/></linearGradient>
<linearGradient id="r68" gradientUnits="userSpaceOnUse" x1="932" x2="1237" y1="0" y2="0"><stop offset="0.000" stop-color="#00ffcd"/><stop offset="0.197" stop-color="#00ffc0"/><stop offset="0.354" stop-color="#00ffae"/><stop offset="0.479" stop-color="#00ff98"/><stop offset="0.577" stop-color="#00ff78"/><stop offset="0.630" stop-color="#00ff5b"/><stop offset="0.659" stop-color="#00ff42"/><stop offset="0.662" stop-color="#04ff3e"/><stop offset="0.666" stop-color="#13ff3d"/><stop offset="0.675" stop-color="#27ff3b"/><stop offset="0.702" stop-color="#46ff33"/><stop offset="0.757" stop-color="#70ff1c"/><stop offset="0.777" stop-color="#7cff0d"/><stop offset="0.784" stop-color="#80ff00"/><stop offset="0.846" stop-color="#a7ff00"/><stop offset="0.948" stop-color="#d8ff00"/><stop offset="1.000" stop-color="#eeff00"/></linearGradient>
<linearGradient id="r69" gradientUnits="userSpaceOnUse" x1="932" x2="1240" y1="0" y2="0"><stop offset="0.000" stop-color="#00ffcd"/><stop offset="0.195" stop-color="#00ffc0"/><stop offset="0.351" stop-color="#00ffaf"/><stop offset="0.474" stop-color="#00ff98"/><stop offset="0.542" stop-color="#00ff85"/><stop offset="0.601" stop-color="#00ff6b"/><stop offset="0.633" stop-color="#00ff55"/><stop offset="0.653" stop-color="#00ff43"/><stop offset="0.656" stop-color="#11ff41"/><stop offset="0.666" stop-color="#26ff3f"/><stop offset="0.692" stop-color="#45ff38"/><stop offset="0.750" stop-color="#72ff23"/><stop offset="0.779" stop-color="#84ff0f"/><stop offset="0.789" stop-color="#8aff00"/><stop offset="0.880" stop-color="#beff00"/><stop offset="1.000" stop-color="#f3ff00"/></linearGradient>
<linearGradient id="r70" gradientUnits="userSpaceOnUse" x1="932" x2="1243" y1="0" y2="0"><stop offset="0.000" stop-color="#00ffce"/><stop offset="0.296" stop-color="#00ffb7"/><stop offset="0.431" stop-color="#00ffa2"/><stop offset="0.502" stop-color="#00ff91"/><stop offset="0.566" stop-color="#00ff7a"/><stop offset="0.601" stop-color="#00ff68"/><stop offset="0.633" stop-color="#00ff51"/><stop offset="0.640" stop-color="#00ff4a"/><stop offset="0.643" stop-color="#00ff47"/><stop offset="0.646" stop-color="#0fff45"/><stop offset="0.659" stop-color="#2aff42"/><stop offset="0.685" stop-color="#48ff3c"/><stop offset="0.723" stop-color="#67ff30"/><stop offset="0.775" stop-color="#88ff17"/><stop offset="0.785" stop-color="#8eff0d"/><stop offset="0.791" stop-color="#92ff00"/><stop offset="0.881" stop-color="#c5ff00"/><stop offset="1.000" stop-color="#f9ff00"/></linearGradient>
<linearGradient id="r71" gradientUnits="userSpaceOnUse" x1="932" x2="1246" y1="0" y2="0"><stop offset="0.000" stop-color="#00ffcf"/><stop offset="0.194" stop-color="#00ffc2"/><stop offset="0.350" stop-color="#00ffb0"/><stop offset="0.478" stop-color="#00ff97"/><stop offset="0.545" stop-color="#00ff82"/><stop offset="0.602" stop-color="#00ff65"/><stop offset="0.634" stop-color="#00ff4c"/><stop offset="0.640" stop-color="#16ff48"/><stop offset="0.653" stop-color="#2eff46"/><stop offset="0.682" stop-color="#4eff3e"/><stop offset="0.742" stop-color="#7bff2a"/><stop offset="0.774" stop-color="#8eff1a"/><stop offset="0.790" stop-color="#97ff0b"/><stop offset="0.796" stop-color="#9bff00"/><stop offset="0.885" stop-color="#ccff00"/><stop offset="1.000" stop-color="#ffff00"/></linearGradient>
<linearGradient id="r72" gradientUnits="userSpaceOnUse" x1="932" x2="1248" y1="0" y2="0"><stop offset="0.000" stop-color="#00ffcf"/><stop offset="0.196" stop-color="#00ffc2"/><stop offset="0.351" stop-color="#00ffb0"/><stop offset="0.478" stop-color="#00ff97"/><stop offset="0.544" stop-color="#00ff82"/><stop offset="0.601" stop-color="#00ff64"/><stop offset="0.620" stop-color="#00ff55"/><stop offset="0.627" stop-color="#00ff50"/><stop offset="0.630" stop-color="#07ff4d"/><stop offset="0.636" stop-color="#1dff4c"/><stop offset="0.655" stop-color="#3aff47"/><stop offset="0.699" stop-color="#62ff3c"/><stop offset="0.756" stop-color="#89ff27"/><stop offset="0.785" stop-color="#99ff17"/><stop offset="0.794" stop-color="#9fff0e"/><stop offset="0.801" stop-color="#a2ff00"/><stop offset="0.889" stop-color="#d3ff00"/><stop offset="0.962" stop-color="#f4ff00"/><stop offset="0.987" stop-color="#ffff00"/><stop offset="1.000" stop-color="#fffa00"/></linearGradient>
<linearGradient id="r73" gradientUnits="userSpaceOnUse" x1="933" x2="1251" y1="0" y2="0"><stop offset="0.000" stop-color="#00ffd0"/><stop offset="0.195" stop-color="#00ffc2"/><stop offset="0.352" stop-color="#00ffb0"/><stop offset="0.478" stop-color="#00ff97"/><stop offset="0.544" stop-color="#00ff80"/><stop offset="0.601" stop-color="#00ff61"/><stop offset="0.619" stop-color="#00ff51"/><stop offset="0.623" stop-color="#12ff50"/><stop offset="0.629" stop-color="#22ff4f"/><stop offset="0.648" stop-color="#3dff4a"/><stop offset="0.692" stop-color="#65ff3f"/><stop offset="0.748" stop-color="#8bff2d"/><stop offset="0.780" stop-color="#9dff1d"/><stop offset="0.796" stop-color="#a6ff10"/><stop offset="0.805" stop-color="#abff00"/><stop offset="0.890" stop-color="#d9ff00"/><stop offset="0.962" stop-color="#faff00"/><stop offset="0.987" stop-color="#fff900"/><stop offset="1.000" stop-color="#fff400"/></linearGradient>
<linearGradient id="r74" gradientUnits="userSpaceOnUse" x1="933" x2="1254" y1="0" y2="0"><stop offset="0.000" stop-color="#00ffd1"/><stop offset="0.193" stop-color="#00ffc3"/><stop offset="0.349" stop-color="#00ffb1"/><stop offset="0.474" stop-color="#00ff98"/><stop offset="0.539" stop-color="#00ff81"/><stop offset="0.595" stop-color="#00ff62"/><stop offset="0.607" stop-color="#00ff58"/><stop offset="0.611" stop-color="#00ff55"/><stop offset="0.614" stop-color="#10ff53"/><stop offset="0.626" stop-color="#2bff51"/><stop offset="0.645" stop-color="#43ff4d"/><stop offset="0.688" stop-color="#69ff42"/><stop offset="0.748" stop-color="#91ff2f"/><stop offset="0.779" stop-color="#a3ff20"/><stop offset="0.794" stop-color="#abff14"/><stop offset="0.804" stop-color="#b1ff09"/><stop offset="0.807" stop-color="#b2ff00"/><stop offset="0.891" stop-color="#e0ff00"/><stop offset="0.963" stop-color="#fffd00"/><stop offset="1.000" stop-color="#ffef00"/></linearGradient>
<linearGradient id="r75" gradientUnits="userSpaceOnUse" x1="933" x2="1257" y1="0" y2="0"><stop offset="0.000" stop-color="#00ffd1"/><stop offset="0.198" stop-color="#00ffc4"/><stop offset="0.352" stop-color="#00ffb1"/><stop offset="0.435" stop-color="#00ffa1"/><stop offset="0.509" stop-color="#00ff8c"/><stop offset="0.571" stop-color="#00ff6f"/><stop offset="0.593" stop-color="#00ff60"/><stop offset="0.599" stop-color="#00ff5b"/><stop offset="0.602" stop-color="#00ff59"/><stop offset="0.608" stop-color="#17ff56"/><stop offset="0.620" stop-color="#2fff54"/><stop offset="0.651" stop-color="#52ff4d"/><stop offset="0.694" stop-color="#75ff42"/><stop offset="0.753" stop-color="#9aff2f"/><stop offset="0.784" stop-color="#acff1f"/><stop offset="0.799" stop-color="#b4ff13"/><stop offset="0.809" stop-color="#b9ff04"/><stop offset="0.815" stop-color="#bdff00"/><stop offset="0.938" stop-color="#fcff00"/><stop offset="0.963" stop-color="#fff700"/><stop offset="1.000" stop-color="#ffe900"/></linearGradient>
<linearGradient id="r76" gradientUnits="userSpaceOnUse" x1="933" x2="1259" y1="0" y2="0"><stop offset="0.000" stop-color="#00ffd2"/><stop offset="0.196" stop-color="#00ffc4"/><stop offset="0.353" stop-color="#00ffb2"/><stop offset="0.479" stop-color="#00ff96"/><stop offset="0.546" stop-color="#00ff7c"/><stop offset="0.583" stop-color="#00ff66"/><stop offset="0.595" stop-color="#00ff5c"/><stop offset="0.601" stop-color="#16ff5a"/><stop offset="0.613" stop-color="#2eff57"/><stop offset="0.632" stop-color="#45ff54"/><stop offset="0.678" stop-color="#6eff49"/><stop offset="0.739" stop-color="#97ff37"/><stop offset="0.788" stop-color="#b3ff20"/><stop offset="0.804" stop-color="#bcff15"/><stop offset="0.813" stop-color="#c1ff09"/><stop offset="0.816" stop-color="#c2ff00"/><stop offset="0.896" stop-color="#edff00"/><stop offset="0.939" stop-color="#fffd00"/><stop offset="1.000" stop-color="#ffe500"/></linearGradient>
<linearGradient id="r77" gradientUnits="userSpaceOnUse" x1="933" x2="1262" y1="0" y2="0"><stop offset="0.000" stop-color="#00ffd2"/><stop offset="0.195" stop-color="#00ffc5"/><stop offset="0.353" stop-color="#00ffb2"/><stop offset="0.435" stop-color="#00ffa2"/><stop offset="0.508" stop-color="#00ff8c"/><stop offset="0.550" stop-color="#00ff78"/><stop offset="0.587" stop-color="#00ff60"/><stop offset="0.590" stop-color="#00ff5e"/><stop offset="0.593" stop-color="#13ff5d"/><stop offset="0.599" stop-color="#23ff5c"/><stop offset="0.617" stop-color="#3eff58"/><stop offset="0.647" stop-color="#5cff52"/><stop offset="0.690" stop-color="#7dff48"/><stop offset="0.751" stop-color="#a4ff34"/><stop offset="0.781" stop-color="#b5ff27"/><stop offset="0.809" stop-color="#c5ff13"/><stop offset="0.818" stop-color="#c9ff04"/><stop offset="0.824" stop-color="#cdff00"/><stop offset="0.900" stop-color="#f5ff00"/><stop offset="0.927" stop-color="#fffc00"/><stop offset="1.000" stop-color="#ffe000"/></linearGradient>
<linearGradient id="r78" gradientUnits="userSpaceOnUse" x1="934" x2="1265" y1="0" y2="0"><stop offset="0.000" stop-color="#00ffd3"/><stop offset="0.193" stop-color="#00ffc6"/><stop offset="0.350" stop-color="#00ffb3"/><stop offset="0.435" stop-color="#00ffa1"/><stop offset="0.508" stop-color="#00ff8b"/><stop offset="0.550" stop-color="#00ff76"/><stop offset="0.574" stop-color="#00ff66"/><stop offset="0.580" stop-color="#00ff61"/><stop offset="0.583" stop-color="#11ff60"/><stop offset="0.595" stop-color="#2cff5e"/><stop offset="0.616" stop-color="#48ff5a"/><stop offset="0.665" stop-color="#72ff50"/><stop offset="0.761" stop-color="#b1ff32"/><stop offset="0.804" stop-color="#c8ff1a"/><stop offset="0.813" stop-color="#cdff12"/><stop offset="0.822" stop-color="#d2ff00"/><stop offset="0.900" stop-color="#fcff00"/><stop offset="0.927" stop-color="#fff500"/><stop offset="1.000" stop-color="#ffdb00"/></linearGradient>
<linearGradient id="r79" gradientUnits="userSpaceOnUse" x1="934" x2="1268" y1="0" y2="0"><stop offset="0.000" stop-color="#00ffd4"/><stop offset="0.195" stop-color="#00ffc6"/><stop offset="0.350" stop-color="#00ffb3"/><stop offset="0.434" stop-color="#00ffa2"/><stop offset="0.506" stop-color="#00ff8a"/><stop offset="0.548" stop-color="#00ff76"/><stop offset="0.572" stop-color="#00ff65"/><stop offset="0.578" stop-color="#19ff63"/><stop offset="0.593" stop-color="#35ff60"/><stop offset="0.626" stop-color="#59ff5a"/><stop offset="0.674" stop-color="#80ff4f"/><stop offset="0.737" stop-color="#a8ff3d"/><stop offset="0.784" stop-color="#c4ff29"/><stop offset="0.811" stop-color="#d3ff17"/><stop offset="0.820" stop-color="#d8ff0c"/><stop offset="0.823" stop-color="#daff03"/><stop offset="0.835" stop-color="#e0ff00"/><stop offset="0.883" stop-color="#faff00"/><stop offset="0.904" stop-color="#fffa00"/><stop offset="1.000" stop-color="#ffd600"/></linearGradient>
<linearGradient id="r80" gradientUnits="userSpaceOnUse" x1="934" x2="1271" y1="0" y2="0"><stop offset="0.000" stop-color="#00ffd4"/><stop offset="0.196" stop-color="#00ffc7"/><stop offset="0.353" stop-color="#00ffb3"/><stop offset="0.436" stop-color="#00ffa1"/><stop offset="0.507" stop-color="#00ff89"/><stop offset="0.549" stop-color="#00ff73"/><stop offset="0.564" stop-color="#00ff68"/><stop offset="0.573" stop-color="#1fff66"/><stop offset="0.588" stop-color="#38ff63"/><stop offset="0.620" stop-color="#5cff5d"/><stop offset="0.691" stop-color="#92ff4c"/><stop offset="0.751" stop-color="#b7ff3a"/><stop offset="0.798" stop-color="#d2ff23"/><stop offset="0.822" stop-color="#dfff0e"/><stop offset="0.828" stop-color="#e3ff00"/><stop offset="0.875" stop-color="#fcff00"/><stop offset="0.911" stop-color="#fff100"/><stop offset="1.000" stop-color="#ffd100"/></linearGradient>
<linearGradient id="r81" gradientUnits="userSpaceOnUse" x1="935" x2="1273" y1="0" y2="0"><stop offset="0.000" stop-color="#00ffd5"/><stop offset="0.195" stop-color="#00ffc7"/><stop offset="0.352" stop-color="#00ffb4"/><stop offset="0.435" stop-color="#00ffa2"/><stop offset="0.506" stop-color="#00ff89"/><stop offset="0.547" stop-color="#00ff72"/><stop offset="0.556" stop-color="#00ff6c"/><stop offset="0.559" stop-color="#04ff6a"/><stop offset="0.562" stop-color="#14ff69"/><stop offset="0.571" stop-color="#29ff68"/><stop offset="0.586" stop-color="#3fff65"/><stop offset="0.621" stop-color="#64ff5f"/><stop offset="0.692" stop-color="#98ff4e"/><stop offset="0.781" stop-color="#ceff30"/><stop offset="0.808" stop-color="#ddff21"/><stop offset="0.822" stop-color="#e5ff14"/><stop offset="0.834" stop-color="#ecff00"/><stop offset="0.864" stop-color="#fcff00"/><stop offset="0.888" stop-color="#fff600"/><stop offset="0.962" stop-color="#ffd900"/><stop offset="1.000" stop-color="#ffcd00"/></linearGradient>
<linearGradient id="r82" gradientUnits="userSpaceOnUse" x1="935" x2="1276" y1="0" y2="0"><stop offset="0.000" stop-color="#00ffd6"/><stop offset="0.194" stop-color="#00ffc8"/><stop offset="0.352" stop-color="#00ffb4"/><stop offset="0.434" stop-color="#00ffa2"/><stop offset="0.504" stop-color="#00ff89"/><stop offset="0.545" stop-color="#00ff72"/><stop offset="0.551" stop-color="#00ff6d"/><stop offset="0.554" stop-color="#12ff6c"/><stop offset="0.563" stop-color="#28ff6b"/><stop offset="0.578" stop-color="#3fff69"/><stop offset="0.613" stop-color="#64ff62"/><stop offset="0.686" stop-color="#9aff52"/><stop offset="0.777" stop-color="#d2ff34"/><stop offset="0.818" stop-color="#e9ff1b"/><stop offset="0.827" stop-color="#eeff12"/><stop offset="0.833" stop-color="#f1ff08"/><stop offset="0.836" stop-color="#f3ff00"/><stop offset="0.853" stop-color="#fdff00"/><stop offset="0.950" stop-color="#ffd800"/><stop offset="1.000" stop-color="#ffc900"/></linearGradient>
<linearGradient id="r83" gradientUnits="userSpaceOnUse" x1="935" x2="1279" y1="0" y2="0"><stop offset="0.000" stop-color="#00ffd6"/><stop offset="0.195" stop-color="#00ffc9"/><stop offset="0.352" stop-color="#00ffb5"/><stop offset="0.433" stop-color="#00ffa2"/><stop offset="0.506" stop-color="#00ff87"/><stop offset="0.532" stop-color="#00ff79"/><stop offset="0.541" stop-color="#00ff73"/><stop offset="0.544" stop-color="#00ff71"/><stop offset="0.549" stop-color="#1aff6f"/><stop offset="0.564" stop-color="#36ff6d"/><stop offset="0.587" stop-color="#52ff69"/><stop offset="0.622" stop-color="#72ff62"/><stop offset="0.695" stop-color="#a6ff52"/><stop offset="0.782" stop-color="#dbff34"/><stop offset="0.808" stop-color="#eaff25"/><stop offset="0.831" stop-color="#f7ff10"/><stop offset="0.834" stop-color="#f9ff0c"/><stop offset="0.837" stop-color="#fbff02"/><stop offset="0.855" stop-color="#fffa00"/><stop offset="0.919" stop-color="#ffde00"/><stop offset="1.000" stop-color="#ffc400"/></linearGradient>
<linearGradient id="r84" gradientUnits="userSpaceOnUse" x1="935" x2="1282" y1="0" y2="0"><stop offset="0.000" stop-color="#00ffd7"/><stop offset="0.196" stop-color="#00ffc9"/><stop offset="0.352" stop-color="#00ffb5"/><stop offset="0.435" stop-color="#00ffa2"/><stop offset="0.507" stop-color="#00ff86"/><stop offset="0.533" stop-color="#00ff76"/><stop offset="0.536" stop-color="#00ff74"/><stop offset="0.542" stop-color="#18ff72"/><stop offset="0.550" stop-color="#2cff71"/><stop offset="0.573" stop-color="#4cff6d"/><stop offset="0.625" stop-color="#7cff63"/><stop offset="0.735" stop-color="#c6ff48"/><stop offset="0.784" stop-color="#e3ff35"/><stop offset="0.824" stop-color="#faff1c"/><stop offset="0.836" stop-color="#fffd0e"/><stop offset="0.841" stop-color="#fffa00"/><stop offset="0.911" stop-color="#ffdb00"/><stop offset="1.000" stop-color="#ffc000"/></linearGradient>
<linearGradient id="r85" gradientUnits="userSpaceOnUse" x1="936" x2="1284" y1="0" y2="0"><stop offset="0.000" stop-color="#00ffd8"/><stop offset="0.195" stop-color="#00ffca"/><stop offset="0.351" stop-color="#00ffb6"/><stop offset="0.434" stop-color="#00ffa2"/><stop offset="0.506" stop-color="#00ff86"/><stop offset="0.523" stop-color="#00ff7b"/><stop offset="0.529" stop-color="#00ff77"/><stop offset="0.532" stop-color="#07ff76"/><stop offset="0.534" stop-color="#16ff75"/><stop offset="0.546" stop-color="#30ff73"/><stop offset="0.569" stop-color="#4fff70"/><stop offset="0.624" stop-color="#80ff66"/><stop offset="0.733" stop-color="#caff4b"/><stop offset="0.784" stop-color="#e9ff37"/><stop offset="0.825" stop-color="#fffe20"/><stop offset="0.836" stop-color="#fff814"/><stop offset="0.842" stop-color="#fff40b"/><stop offset="0.845" stop-color="#fff300"/><stop offset="0.914" stop-color="#ffd600"/><stop offset="1.000" stop-color="#ffbc00"/></linearGradient>
<linearGradient id="r86" gradientUnits="userSpaceOnUse" x1="936" x2="1287" y1="0" y2="0"><stop offset="0.000" stop-color="#00ffd8"/><stop offset="0.197" stop-color="#00ffcb"/><stop offset="0.353" stop-color="#00ffb6"/><stop offset="0.436" stop-color="#00ffa2"/><stop offset="0.507" stop-color="#00ff84"/><stop offset="0.524" stop-color="#00ff79"/><stop offset="0.527" stop-color="#13ff78"/><stop offset="0.533" stop-color="#24ff77"/><stop offset="0.550" stop-color="#40ff75"/><stop offset="0.573" stop-color="#5bff71"/><stop offset="0.627" stop-color="#89ff67"/><stop offset="0.698" stop-color="#baff57"/><stop offset="0.783" stop-color="#efff3a"/><stop offset="0.809" stop-color="#feff2d"/><stop offset="0.832" stop-color="#fff31b"/><stop offset="0.843" stop-color="#ffed0d"/><stop offset="0.849" stop-color="#ffeb00"/><stop offset="0.915" stop-color="#ffd000"/><stop offset="1.000" stop-color="#ffb800"/></linearGradient>
<linearGradient id="r87" gradientUnits="userSpaceOnUse" x1="936" x2="1290" y1="0" y2="0"><stop offset="0.000" stop-color="#00ffd9"/><stop offset="0.195" stop-color="#00ffcc"/><stop offset="0.353" stop-color="#00ffb6"/><stop offset="0.435" stop-color="#00ffa2"/><stop offset="0.480" stop-color="#00ff91"/><stop offset="0.508" stop-color="#00ff82"/><stop offset="0.514" stop-color="#00ff7e"/><stop offset="0.517" stop-color="#00ff7c"/><stop offset="0.523" stop-color="#1bff7b"/><stop offset="0.540" stop-color="#3cff78"/><stop offset="0.579" stop-color="#68ff72"/><stop offset="0.633" stop-color="#94ff68"/><stop offset="0.740" stop-color="#dbff4c"/><stop offset="0.788" stop-color="#f8ff3a"/><stop offset="0.805" stop-color="#fffc31"/><stop offset="0.842" stop-color="#ffe813"/><stop offset="0.847" stop-color="#ffe50b"/><stop offset="0.850" stop-color="#ffe400"/><stop offset="0.949" stop-color="#ffc100"/><stop offset="1.000" stop-color="#ffb400"/></linearGradient>
<linearGradient id="r88" gradientUnits="userSpaceOnUse" x1="937" x2="1293" y1="0" y2="0"><stop offset="0.000" stop-color="#00ffda"/><stop offset="0.197" stop-color="#00ffcc"/><stop offset="0.301" stop-color="#00ffc0"/><stop offset="0.390" stop-color="#00ffae"/><stop offset="0.469" stop-color="#00ff95"/><stop offset="0.497" stop-color="#00ff86"/><stop offset="0.508" stop-color="#00ff80"/><stop offset="0.514" stop-color="#19ff7e"/><stop offset="0.525" stop-color="#32ff7c"/><stop offset="0.551" stop-color="#54ff78"/><stop offset="0.587" stop-color="#77ff72"/><stop offset="0.666" stop-color="#b2ff63"/><stop offset="0.761" stop-color="#efff47"/><stop offset="0.789" stop-color="#fffe3b"/><stop offset="0.829" stop-color="#ffe821"/><stop offset="0.848" stop-color="#ffdf0d"/><stop offset="0.854" stop-color="#ffdc00"/><stop offset="0.949" stop-color="#ffbc00"/><stop offset="1.000" stop-color="#ffb000"/></linearGradient>
<linearGradient id="r89" gradientUnits="userSpaceOnUse" x1="937" x2="1295" y1="0" y2="0"><stop offset="0.000" stop-color="#00ffda"/><stop offset="0.196" stop-color="#00ffcd"/><stop offset="0.352" stop-color="#00ffb8"/><stop offset="0.436" stop-color="#00ffa2"/><stop offset="0.483" stop-color="#00ff8e"/><stop offset="0.500" stop-color="#00ff85"/><stop offset="0.503" stop-color="#00ff83"/><stop offset="0.508" stop-color="#17ff81"/><stop offset="0.520" stop-color="#31ff7f"/><stop offset="0.545" stop-color="#54ff7c"/><stop offset="0.603" stop-color="#8aff72"/><stop offset="0.718" stop-color="#d9ff58"/><stop offset="0.771" stop-color="#faff46"/><stop offset="0.788" stop-color="#fff93e"/><stop offset="0.827" stop-color="#ffe426"/><stop offset="0.849" stop-color="#ffda12"/><stop offset="0.855" stop-color="#ffd70a"/><stop offset="0.858" stop-color="#ffd600"/><stop offset="0.953" stop-color="#ffb800"/><stop offset="1.000" stop-color="#ffac00"/></linearGradient>
<linearGradient id="r90" gradientUnits="userSpaceOnUse" x1="937" x2="1298" y1="0" y2="0"><stop offset="0.000" stop-color="#00ffdb"/><stop offset="0.194" stop-color="#00ffce"/><stop offset="0.299" stop-color="#00ffc1"/><stop offset="0.388" stop-color="#00ffb0"/><stop offset="0.465" stop-color="#00ff96"/><stop offset="0.493" stop-color="#00ff88"/><stop offset="0.499" stop-color="#00ff84"/><stop offset="0.501" stop-color="#14ff84"/><stop offset="0.507" stop-color="#25ff83"/><stop offset="0.524" stop-color="#42ff81"/><stop offset="0.548" stop-color="#60ff7d"/><stop offset="0.607" stop-color="#93ff73"/><stop offset="0.720" stop-color="#e1ff59"/><stop offset="0.753" stop-color="#f6ff4f"/><stop offset="0.765" stop-color="#fdff4b"/><stop offset="0.831" stop-color="#ffdd24"/><stop offset="0.850" stop-color="#ffd413"/><stop offset="0.861" stop-color="#ffcf00"/><stop offset="0.953" stop-color="#ffb300"/><stop offset="1.000" stop-color="#ffa900"/></linearGradient>
<linearGradient id="r91" gradientUnits="userSpaceOnUse" x1="938" x2="1301" y1="0" y2="0"><stop offset="0.000" stop-color="#00ffdc"/><stop offset="0.196" stop-color="#00ffce"/><stop offset="0.300" stop-color="#00ffc2"/><stop offset="0.388" stop-color="#00ffb0"/><stop offset="0.438" stop-color="#00ffa1"/><stop offset="0.485" stop-color="#00ff8b"/><stop offset="0.490" stop-color="#00ff88"/><stop offset="0.493" stop-color="#12ff87"/><stop offset="0.499" stop-color="#23ff86"/><stop offset="0.515" stop-color="#41ff84"/><stop offset="0.554" stop-color="#6dff7e"/><stop offset="0.612" stop-color="#9eff74"/><stop offset="0.725" stop-color="#ebff5a"/><stop offset="0.758" stop-color="#fffe4f"/><stop offset="0.826" stop-color="#ffd928"/><stop offset="0.848" stop-color="#ffcf17"/><stop offset="0.860" stop-color="#ffca09"/><stop offset="0.862" stop-color="#ffc900"/><stop offset="0.953" stop-color="#ffaf00"/><stop offset="1.000" stop-color="#ffa500"/></linearGradient>
<linearGradient id="r92" gradientUnits="userSpaceOnUse" x1="938" x2="1304" y1="0" y2="0"><stop offset="0.000" stop-color="#00ffdd"/><stop offset="0.197" stop-color="#00ffcf"/><stop offset="0.301" stop-color="#00ffc2"/><stop offset="0.391" stop-color="#00ffb0"/><stop offset="0.467" stop-color="#00ff94"/><stop offset="0.484" stop-color="#00ff8b"/><stop offset="0.489" stop-color="#1aff89"/><stop offset="0.500" stop-color="#33ff88"/><stop offset="0.516" stop-color="#4cff86"/><stop offset="0.555" stop-color="#75ff80"/><stop offset="0.612" stop-color="#a4ff76"/><stop offset="0.724" stop-color="#f1ff5c"/><stop offset="0.746" stop-color="#fffe55"/><stop offset="0.820" stop-color="#ffd62d"/><stop offset="0.852" stop-color="#ffc816"/><stop offset="0.863" stop-color="#ffc406"/><stop offset="0.866" stop-color="#ffc300"/><stop offset="0.954" stop-color="#ffab00"/><stop offset="1.000" stop-color="#ffa100"/></linearGradient>
<linearGradient id="r93" gradientUnits="userSpaceOnUse" x1="938" x2="1307" y1="0" y2="0"><stop offset="0.000" stop-color="#00ffdd"/><stop offset="0.195" stop-color="#00ffd0"/><stop offset="0.298" stop-color="#00ffc4"/><stop offset="0.388" stop-color="#00ffb2"/><stop offset="0.439" stop-color="#00ffa1"/><stop offset="0.469" stop-color="#00ff93"/><stop offset="0.474" stop-color="#00ff90"/><stop offset="0.477" stop-color="#00ff8e"/><stop offset="0.482" stop-color="#18ff8c"/><stop offset="0.493" stop-color="#32ff8b"/><stop offset="0.520" stop-color="#59ff87"/><stop offset="0.558" stop-color="#7fff82"/><stop offset="0.645" stop-color="#c2ff72"/><stop offset="0.713" stop-color="#f1ff62"/><stop offset="0.734" stop-color="#ffff5b"/><stop offset="0.810" stop-color="#ffd533"/><stop offset="0.846" stop-color="#ffc61d"/><stop offset="0.862" stop-color="#ffc00d"/><stop offset="0.867" stop-color="#ffbe00"/><stop offset="0.954" stop-color="#ffa600"/><stop offset="1.000" stop-color="#ff9d00"/></linearGradient>
<linearGradient id="r94" gradientUnits="userSpaceOnUse" x1="939" x2="1309" y1="0" y2="0"><stop offset="0.000" stop-color="#00ffde"/><stop offset="0.195" stop-color="#00ffd1"/><stop offset="0.351" stop-color="#00ffbb"/><stop offset="0.432" stop-color="#00ffa3"/><stop offset="0.465" stop-color="#00ff94"/><stop offset="0.470" stop-color="#00ff91"/><stop offset="0.473" stop-color="#03ff90"/><stop offset="0.476" stop-color="#16ff8f"/><stop offset="0.486" stop-color="#31ff8e"/><stop offset="0.514" stop-color="#59ff8a"/><stop offset="0.554" stop-color="#81ff84"/><stop offset="0.641" stop-color="#c5ff75"/><stop offset="0.708" stop-color="#f4ff65"/><stop offset="0.724" stop-color="#feff61"/><stop offset="0.805" stop-color="#ffd337"/><stop offset="0.843" stop-color="#ffc321"/><stop offset="0.859" stop-color="#ffbc15"/><stop offset="0.870" stop-color="#ffb805"/><stop offset="0.876" stop-color="#ffb700"/><stop offset="1.000" stop-color="#ff9a00"/></linearGradient>
<linearGradient id="r95" gradientUnits="userSpaceOnUse" x1="939" x2="1312" y1="0" y2="0"><stop offset="0.000" stop-color="#00ffdf"/><stop offset="0.196" stop-color="#00ffd2"/><stop offset="0.298" stop-color="#00ffc5"/><stop offset="0.389" stop-color="#00ffb2"/><stop offset="0.440" stop-color="#00ffa0"/><stop offset="0.458" stop-color="#00ff97"/><stop offset="0.464" stop-color="#00ff95"/><stop offset="0.466" stop-color="#00ff93"/><stop offset="0.469" stop-color="#13ff92"/><stop offset="0.475" stop-color="#25ff92"/><stop offset="0.491" stop-color="#43ff90"/><stop offset="0.517" stop-color="#64ff8c"/><stop offset="0.558" stop-color="#8bff86"/><stop offset="0.643" stop-color="#cdff77"/><stop offset="0.710" stop-color="#fcff67"/><stop offset="0.735" stop-color="#fff25b"/><stop offset="0.812" stop-color="#ffca34"/><stop offset="0.847" stop-color="#ffbc20"/><stop offset="0.863" stop-color="#ffb613"/><stop offset="0.869" stop-color="#ffb40d"/><stop offset="0.874" stop-color="#ffb200"/><stop offset="1.000" stop-color="#ff9600"/></linearGradient>
<linearGradient id="r96" gradientUnits="userSpaceOnUse" x1="939" x2="1315" y1="0" y2="0"><stop offset="0.000" stop-color="#00ffe0"/><stop offset="0.194" stop-color="#00ffd3"/><stop offset="0.298" stop-color="#00ffc6"/><stop offset="0.388" stop-color="#00ffb3"/><stop offset="0.441" stop-color="#00ffa0"/><stop offset="0.455" stop-color="#00ff99"/><stop offset="0.460" stop-color="#00ff96"/><stop offset="0.465" stop-color="#1bff95"/><stop offset="0.476" stop-color="#35ff94"/><stop offset="0.503" stop-color="#5bff90"/><stop offset="0.545" stop-color="#87ff8a"/><stop offset="0.633" stop-color="#ccff7b"/><stop offset="0.702" stop-color="#fdff6c"/><stop offset="0.787" stop-color="#ffd041"/><stop offset="0.848" stop-color="#ffb720"/><stop offset="0.864" stop-color="#ffb114"/><stop offset="0.875" stop-color="#ffad05"/><stop offset="0.880" stop-color="#ffac00"/><stop offset="1.000" stop-color="#ff9200"/></linearGradient>
<linearGradient id="r97" gradientUnits="userSpaceOnUse" x1="940" x2="1318" y1="0" y2="0"><stop offset="0.000" stop-color="#00ffe0"/><stop offset="0.196" stop-color="#00ffd3"/><stop offset="0.299" stop-color="#00ffc7"/><stop offset="0.389" stop-color="#00ffb3"/><stop offset="0.442" stop-color="#00ff9f"/><stop offset="0.450" stop-color="#00ff9b"/><stop offset="0.452" stop-color="#00ff99"/><stop offset="0.458" stop-color="#19ff98"/><stop offset="0.468" stop-color="#34ff97"/><stop offset="0.487" stop-color="#51ff94"/><stop offset="0.529" stop-color="#7fff8f"/><stop offset="0.587" stop-color="#b1ff86"/><stop offset="0.667" stop-color="#ecff76"/><stop offset="0.693" stop-color="#feff70"/><stop offset="0.751" stop-color="#ffdc52"/><stop offset="0.823" stop-color="#ffbc30"/><stop offset="0.854" stop-color="#ffb01d"/><stop offset="0.870" stop-color="#ffaa10"/><stop offset="0.876" stop-color="#ffa908"/><stop offset="0.878" stop-color="#ffa800"/><stop offset="1.000" stop-color="#ff8f00"/></linearGradient>
<linearGradient id="r98" gradientUnits="userSpaceOnUse" x1="940" x2="1320" y1="0" y2="0"><stop offset="0.000" stop-color="#00ffe1"/><stop offset="0.195" stop-color="#00ffd4"/><stop offset="0.300" stop-color="#00ffc7"/><stop offset="0.389" stop-color="#00ffb4"/><stop offset="0.442" stop-color="#00ff9f"/><stop offset="0.447" stop-color="#00ff9d"/><stop offset="0.450" stop-color="#06ff9b"/><stop offset="0.453" stop-color="#17ff9b"/><stop offset="0.463" stop-color="#33ff9a"/><stop offset="0.482" stop-color="#50ff98"/><stop offset="0.508" stop-color="#70ff94"/><stop offset="0.571" stop-color="#a9ff8b"/><stop offset="0.655" stop-color="#e9ff7c"/><stop offset="0.682" stop-color="#fcff76"/><stop offset="0.708" stop-color="#fff069"/><stop offset="0.792" stop-color="#ffc440"/><stop offset="0.850" stop-color="#ffae23"/><stop offset="0.876" stop-color="#ffa50e"/><stop offset="0.884" stop-color="#ffa200"/><stop offset="1.000" stop-color="#ff8c00"/></linearGradient>
<linearGradient id="r99" gradientUnits="userSpaceOnUse" x1="940" x2="1323" y1="0" y2="0"><stop offset="0.000" stop-color="#00ffe2"/><stop offset="0.196" stop-color="#00ffd5"/><stop offset="0.300" stop-color="#00ffc8"/><stop offset="0.389" stop-color="#00ffb4"/><stop offset="0.441" stop-color="#00ffa0"/><stop offset="0.444" stop-color="#00ff9e"/><stop offset="0.446" stop-color="#14ff9e"/><stop offset="0.454" stop-color="#2cff9d"/><stop offset="0.473" stop-color="#4cff9b"/><stop offset="0.501" stop-color="#70ff97"/><stop offset="0.564" stop-color="#aaff8f"/><stop offset="0.648" stop-color="#eaff80"/><stop offset="0.676" stop-color="#ffff79"/><stop offset="0.739" stop-color="#ffd859"/><stop offset="0.815" stop-color="#ffb636"/><stop offset="0.867" stop-color="#ffa419"/><stop offset="0.883" stop-color="#ff9f08"/><stop offset="0.885" stop-color="#ff9e00"/><stop offset="1.000" stop-color="#ff8800"/></linearGradient>
<linearGradient id="r100" gradientUnits="userSpaceOnUse" x1="941" x2="1326" y1="0" y2="0"><stop offset="0.000" stop-color="#00ffe3"/><stop offset="0.195" stop-color="#00ffd6"/><stop offset="0.299" stop-color="#00ffc9"/><stop offset="0.390" stop-color="#00ffb5"/><stop offset="0.423" stop-color="#00ffa8"/><stop offset="0.436" stop-color="#00ffa2"/><stop offset="0.439" stop-color="#11ffa1"/><stop offset="0.447" stop-color="#2bffa0"/><stop offset="0.468" stop-color="#50ff9e"/><stop offset="0.496" stop-color="#72ff9a"/><stop offset="0.538" stop-color="#9aff95"/><stop offset="0.626" stop-color="#e1ff86"/><stop offset="0.657" stop-color="#f9ff80"/><stop offset="0.673" stop-color="#fffa7a"/><stop offset="0.735" stop-color="#ffd45a"/><stop offset="0.813" stop-color="#ffb237"/><stop offset="0.868" stop-color="#ff9f19"/><stop offset="0.883" stop-color="#ff9a0a"/><stop offset="0.888" stop-color="#ff9900"/><stop offset="1.000" stop-color="#ff8400"/></linearGradient>
<linearGradient id="r101" gradientUnits="userSpaceOnUse" x1="941" x2="1329" y1="0" y2="0"><stop offset="0.000" stop-color="#00ffe4"/><stop offset="0.196" stop-color="#00ffd7"/><stop offset="0.299" stop-color="#00ffca"/><stop offset="0.358" stop-color="#00ffbe"/><stop offset="0.412" stop-color="#00ffad"/><stop offset="0.425" stop-color="#00ffa7"/><stop offset="0.430" stop-color="#00ffa5"/><stop offset="0.436" stop-color="#1affa4"/><stop offset="0.443" stop-color="#30ffa3"/><stop offset="0.464" stop-color="#53ffa1"/><stop offset="0.492" stop-color="#75ff9d"/><stop offset="0.557" stop-color="#b1ff94"/><stop offset="0.642" stop-color="#f4ff86"/><stop offset="0.660" stop-color="#fffc81"/><stop offset="0.724" stop-color="#ffd45f"/><stop offset="0.804" stop-color="#ffb13b"/><stop offset="0.861" stop-color="#ff9d1f"/><stop offset="0.876" stop-color="#ff9814"/><stop offset="0.887" stop-color="#ff9507"/><stop offset="0.889" stop-color="#ff9400"/><stop offset="1.000" stop-color="#ff8100"/></linearGradient>
<linearGradient id="r102" gradientUnits="userSpaceOnUse" x1="942" x2="1332" y1="0" y2="0"><stop offset="0.000" stop-color="#00ffe4"/><stop offset="0.195" stop-color="#00ffd8"/><stop offset="0.297" stop-color="#00ffcb"/><stop offset="0.356" stop-color="#00ffbf"/><stop offset="0.410" stop-color="#00ffae"/><stop offset="0.423" stop-color="#00ffa8"/><stop offset="0.431" stop-color="#21ffa6"/><stop offset="0.444" stop-color="#3effa5"/><stop offset="0.464" stop-color="#5dffa3"/><stop offset="0.508" stop-color="#8dff9e"/><stop offset="0.569" stop-color="#c3ff95"/><stop offset="0.623" stop-color="#edff8c"/><stop offset="0.644" stop-color="#fdff88"/><stop offset="0.710" stop-color="#ffd665"/><stop offset="0.795" stop-color="#ffb03f"/><stop offset="0.854" stop-color="#ff9b24"/><stop offset="0.879" stop-color="#ff9312"/><stop offset="0.892" stop-color="#ff8f00"/><stop offset="1.000" stop-color="#ff7d00"/></linearGradient>
<linearGradient id="r103" gradientUnits="userSpaceOnUse" x1="942" x2="1334" y1="0" y2="0"><stop offset="0.000" stop-color="#00ffe5"/><stop offset="0.196" stop-color="#00ffd9"/><stop offset="0.301" stop-color="#00ffcc"/><stop offset="0.360" stop-color="#00ffc0"/><stop offset="0.413" stop-color="#00ffae"/><stop offset="0.421" stop-color="#00ffaa"/><stop offset="0.423" stop-color="#16ffaa"/><stop offset="0.431" stop-color="#2effa9"/><stop offset="0.452" stop-color="#52ffa7"/><stop offset="0.482" stop-color="#78ffa3"/><stop offset="0.548" stop-color="#b7ff9b"/><stop offset="0.635" stop-color="#fcff8c"/><stop offset="0.666" stop-color="#ffeb7c"/><stop offset="0.730" stop-color="#ffc85d"/><stop offset="0.806" stop-color="#ffa83c"/><stop offset="0.862" stop-color="#ff9521"/><stop offset="0.888" stop-color="#ff8d0e"/><stop offset="0.895" stop-color="#ff8b00"/><stop offset="1.000" stop-color="#ff7a00"/></linearGradient>
<linearGradient id="r104" gradientUnits="userSpaceOnUse" x1="942" x2="1337" y1="0" y2="0"><stop offset="0.000" stop-color="#00ffe6"/><stop offset="0.195" stop-color="#00ffda"/><stop offset="0.299" stop-color="#00ffcd"/><stop offset="0.390" stop-color="#00ffb8"/><stop offset="0.410" stop-color="#00ffb0"/><stop offset="0.415" stop-color="#00ffad"/><stop offset="0.418" stop-color="#13ffad"/><stop offset="0.423" stop-color="#26ffac"/><stop offset="0.435" stop-color="#41ffab"/><stop offset="0.456" stop-color="#60ffa9"/><stop offset="0.501" stop-color="#92ffa4"/><stop offset="0.597" stop-color="#e6ff96"/><stop offset="0.630" stop-color="#fffe90"/><stop offset="0.676" stop-color="#ffdf76"/><stop offset="0.737" stop-color="#ffbf59"/><stop offset="0.813" stop-color="#ffa139"/><stop offset="0.866" stop-color="#ff9020"/><stop offset="0.891" stop-color="#ff880d"/><stop offset="0.899" stop-color="#ff8600"/><stop offset="1.000" stop-color="#ff7700"/></linearGradient>
<linearGradient id="r105" gradientUnits="userSpaceOnUse" x1="943" x2="1340" y1="0" y2="0"><stop offset="0.000" stop-color="#00ffe7"/><stop offset="0.196" stop-color="#00ffdb"/><stop offset="0.300" stop-color="#00ffce"/><stop offset="0.390" stop-color="#00ffb8"/><stop offset="0.403" stop-color="#00ffb3"/><stop offset="0.408" stop-color="#00ffb1"/><stop offset="0.413" stop-color="#1cffb0"/><stop offset="0.426" stop-color="#3cffae"/><stop offset="0.446" stop-color="#5cffac"/><stop offset="0.491" stop-color="#90ffa7"/><stop offset="0.557" stop-color="#ccff9f"/><stop offset="0.612" stop-color="#f9ff96"/><stop offset="0.625" stop-color="#fffb91"/><stop offset="0.673" stop-color="#ffdb77"/><stop offset="0.736" stop-color="#ffba59"/><stop offset="0.851" stop-color="#ff9028"/><stop offset="0.879" stop-color="#ff8818"/><stop offset="0.894" stop-color="#ff830b"/><stop offset="0.899" stop-color="#ff8200"/><stop offset="1.000" stop-color="#ff7300"/></linearGradient>
<linearGradient id="r106" gradientUnits="userSpaceOnUse" x1="943" x2="1343" y1="0" y2="0"><stop offset="0.000" stop-color="#00ffe8"/><stop offset="0.195" stop-color="#00ffdc"/><stop offset="0.297" stop-color="#00ffd0"/><stop offset="0.388" stop-color="#00ffba"/><stop offset="0.403" stop-color="#00ffb4"/><stop offset="0.410" stop-color="#23ffb2"/><stop offset="0.422" stop-color="#40ffb1"/><stop offset="0.443" stop-color="#5fffaf"/><stop offset="0.487" stop-color="#93ffaa"/><stop offset="0.588" stop-color="#ecff9d"/><stop offset="0.610" stop-color="#feff99"/><stop offset="0.660" stop-color="#ffdc7c"/><stop offset="0.725" stop-color="#ffba5e"/><stop offset="0.845" stop-color="#ff8e2c"/><stop offset="0.890" stop-color="#ff8111"/><stop offset="0.902" stop-color="#ff7e00"/><stop offset="1.000" stop-color="#ff7000"/></linearGradient>
<linearGradient id="r107" gradientUnits="userSpaceOnUse" x1="944" x2="1345" y1="0" y2="0"><stop offset="0.000" stop-color="#00ffe9"/><stop offset="0.195" stop-color="#00ffdd"/><stop offset="0.299" stop-color="#00ffd1"/><stop offset="0.389" stop-color="#00ffba"/><stop offset="0.399" stop-color="#02ffb6"/><stop offset="0.401" stop-color="#17ffb6"/><stop offset="0.409" stop-color="#2fffb5"/><stop offset="0.429" stop-color="#54ffb3"/><stop offset="0.459" stop-color="#7bffb0"/><stop offset="0.529" stop-color="#c0ffa8"/><stop offset="0.589" stop-color="#f3ffa0"/><stop offset="0.603" stop-color="#fffe9d"/><stop offset="0.653" stop-color="#ffdb7f"/><stop offset="0.718" stop-color="#ffb961"/><stop offset="0.800" stop-color="#ff993f"/><stop offset="0.858" stop-color="#ff8727"/><stop offset="0.883" stop-color="#ff7f19"/><stop offset="0.895" stop-color="#ff7c10"/><stop offset="0.903" stop-color="#ff7a06"/><stop offset="0.905" stop-color="#ff7900"/><stop offset="1.000" stop-color="#ff6d00"/></linearGradient>
<linearGradient id="r108" gradientUnits="userSpaceOnUse" x1="944" x2="1348" y1="0" y2="0"><stop offset="0.000" stop-color="#00ffe9"/><stop offset="0.196" stop-color="#00ffde"/><stop offset="0.300" stop-color="#00ffd2"/><stop offset="0.359" stop-color="#00ffc5"/><stop offset="0.394" stop-color="#00ffb9"/><stop offset="0.396" stop-color="#14ffb9"/><stop offset="0.401" stop-color="#27ffb8"/><stop offset="0.413" stop-color="#43ffb7"/><stop offset="0.433" stop-color="#62ffb6"/><stop offset="0.480" stop-color="#99ffb1"/><stop offset="0.582" stop-color="#f5ffa4"/><stop offset="0.597" stop-color="#fffda0"/><stop offset="0.649" stop-color="#ffd881"/><stop offset="0.715" stop-color="#ffb562"/><stop offset="0.839" stop-color="#ff8830"/><stop offset="0.884" stop-color="#ff7b1a"/><stop offset="0.903" stop-color="#ff7608"/><stop offset="0.908" stop-color="#ff7500"/><stop offset="1.000" stop-color="#ff6900"/></linearGradient>
<linearGradient id="r109" gradientUnits="userSpaceOnUse" x1="944" x2="1351" y1="0" y2="0"><stop offset="0.000" stop-color="#00ffea"/><stop offset="0.197" stop-color="#00ffdf"/><stop offset="0.300" stop-color="#00ffd3"/><stop offset="0.359" stop-color="#00ffc6"/><stop offset="0.381" stop-color="#00ffbf"/><stop offset="0.386" stop-color="#00ffbe"/><stop offset="0.388" stop-color="#00ffbd"/><stop offset="0.393" stop-color="#1dffbc"/><stop offset="0.403" stop-color="#39ffbb"/><stop offset="0.425" stop-color="#5fffb9"/><stop offset="0.474" stop-color="#99ffb4"/><stop offset="0.541" stop-color="#d8ffad"/><stop offset="0.580" stop-color="#faffa7"/><stop offset="0.590" stop-color="#fffba3"/><stop offset="0.641" stop-color="#ffd784"/><stop offset="0.710" stop-color="#ffb364"/><stop offset="0.794" stop-color="#ff9343"/><stop offset="0.885" stop-color="#ff771a"/><stop offset="0.904" stop-color="#ff720a"/><stop offset="0.909" stop-color="#ff7100"/><stop offset="1.000" stop-color="#ff6600"/></linearGradient>
<linearGradient id="r110" gradientUnits="userSpaceOnUse" x1="945" x2="1354" y1="0" y2="0"><stop offset="0.000" stop-color="#00ffeb"/><stop offset="0.196" stop-color="#00ffe1"/><stop offset="0.298" stop-color="#00ffd4"/><stop offset="0.357" stop-color="#00ffc8"/><stop offset="0.379" stop-color="#00ffc1"/><stop offset="0.381" stop-color="#00ffc0"/><stop offset="0.386" stop-color="#1bffbf"/><stop offset="0.396" stop-color="#38ffbe"/><stop offset="0.418" stop-color="#5effbc"/><stop offset="0.467" stop-color="#9affb8"/><stop offset="0.570" stop-color="#faffac"/><stop offset="0.584" stop-color="#fff8a5"/><stop offset="0.638" stop-color="#ffd285"/><stop offset="0.707" stop-color="#ffaf65"/><stop offset="0.792" stop-color="#ff8f43"/><stop offset="0.883" stop-color="#ff741c"/><stop offset="0.905" stop-color="#ff6e0b"/><stop offset="0.910" stop-color="#ff6d01"/><stop offset="1.000" stop-color="#ff6200"/></linearGradient>
<linearGradient id="r111" gradientUnits="userSpaceOnUse" x1="945" x2="1357" y1="0" y2="0"><stop offset="0.000" stop-color="#00ffec"/><stop offset="0.194" stop-color="#00ffe2"/><stop offset="0.299" stop-color="#00ffd6"/><stop offset="0.357" stop-color="#00ffc9"/><stop offset="0.371" stop-color="#00ffc5"/><stop offset="0.376" stop-color="#00ffc3"/><stop offset="0.379" stop-color="#06ffc2"/><stop offset="0.381" stop-color="#18ffc2"/><stop offset="0.391" stop-color="#37ffc1"/><stop offset="0.413" stop-color="#5effc0"/><stop offset="0.444" stop-color="#87ffbd"/><stop offset="0.515" stop-color="#cfffb6"/><stop offset="0.553" stop-color="#f2ffb1"/><stop offset="0.568" stop-color="#ffffaf"/><stop offset="0.621" stop-color="#ffd78d"/><stop offset="0.694" stop-color="#ffb06a"/><stop offset="0.784" stop-color="#ff8d46"/><stop offset="0.879" stop-color="#ff711f"/><stop offset="0.900" stop-color="#ff6b11"/><stop offset="0.908" stop-color="#ff6a0a"/><stop offset="0.913" stop-color="#ff6800"/><stop offset="1.000" stop-color="#ff5f00"/></linearGradient>
<linearGradient id="r112" gradientUnits="userSpaceOnUse" x1="946" x2="1359" y1="0" y2="0"><stop offset="0.000" stop-color="#00ffed"/><stop offset="0.196" stop-color="#00ffe3"/><stop offset="0.300" stop-color="#00ffd7"/><stop offset="0.358" stop-color="#00ffca"/><stop offset="0.373" stop-color="#00ffc6"/><stop offset="0.375" stop-color="#16ffc5"/><stop offset="0.380" stop-color="#29ffc5"/><stop offset="0.395" stop-color="#4affc4"/><stop offset="0.416" stop-color="#6cffc2"/><stop offset="0.465" stop-color="#a5ffbe"/><stop offset="0.533" stop-color="#e6ffb7"/><stop offset="0.557" stop-color="#fcffb4"/><stop offset="0.571" stop-color="#fff5ab"/><stop offset="0.625" stop-color="#ffcf8a"/><stop offset="0.697" stop-color="#ffaa68"/><stop offset="0.831" stop-color="#ff7b35"/><stop offset="0.879" stop-color="#ff6e21"/><stop offset="0.901" stop-color="#ff6814"/><stop offset="0.913" stop-color="#ff6508"/><stop offset="0.915" stop-color="#ff6400"/><stop offset="1.000" stop-color="#ff5b00"/></linearGradient>
<linearGradient id="r113" gradientUnits="userSpaceOnUse" x1="946" x2="1362" y1="0" y2="0"><stop offset="0.000" stop-color="#00ffee"/><stop offset="0.195" stop-color="#00ffe5"/><stop offset="0.298" stop-color="#00ffd9"/><stop offset="0.358" stop-color="#00ffcc"/><stop offset="0.368" stop-color="#00ffc9"/><stop offset="0.370" stop-color="#12ffc9"/><stop offset="0.375" stop-color="#27ffc8"/><stop offset="0.385" stop-color="#40ffc8"/><stop offset="0.406" stop-color="#65ffc6"/><stop offset="0.440" stop-color="#90ffc3"/><stop offset="0.512" stop-color="#daffbc"/><stop offset="0.553" stop-color="#fffeb7"/><stop offset="0.611" stop-color="#ffd291"/><stop offset="0.688" stop-color="#ffaa6c"/><stop offset="0.779" stop-color="#ff8749"/><stop offset="0.875" stop-color="#ff6b23"/><stop offset="0.909" stop-color="#ff620f"/><stop offset="0.918" stop-color="#ff6000"/><stop offset="1.000" stop-color="#ff5800"/></linearGradient>
<linearGradient id="r114" gradientUnits="userSpaceOnUse" x1="947" x2="1365" y1="0" y2="0"><stop offset="0.000" stop-color="#00ffef"/><stop offset="0.196" stop-color="#00ffe6"/><stop offset="0.301" stop-color="#00ffda"/><stop offset="0.361" stop-color="#00ffcc"/><stop offset="0.366" stop-color="#1cffcc"/><stop offset="0.376" stop-color="#39ffcb"/><stop offset="0.390" stop-color="#56ffca"/><stop offset="0.423" stop-color="#85ffc8"/><stop offset="0.495" stop-color="#d2ffc1"/><stop offset="0.538" stop-color="#fbffbd"/><stop offset="0.548" stop-color="#fffab8"/><stop offset="0.605" stop-color="#ffcf93"/><stop offset="0.682" stop-color="#ffa86e"/><stop offset="0.773" stop-color="#ff854b"/><stop offset="0.873" stop-color="#ff6824"/><stop offset="0.909" stop-color="#ff5e10"/><stop offset="0.914" stop-color="#ff5d0b"/><stop offset="0.919" stop-color="#ff5c00"/><stop offset="1.000" stop-color="#ff5400"/></linearGradient>
<linearGradient id="r115" gradientUnits="userSpaceOnUse" x1="947" x2="1368" y1="0" y2="0"><stop offset="0.000" stop-color="#00fff0"/><stop offset="0.195" stop-color="#00ffe7"/><stop offset="0.299" stop-color="#00ffdc"/><stop offset="0.337" stop-color="#00ffd5"/><stop offset="0.352" stop-color="#00ffd1"/><stop offset="0.356" stop-color="#00ffd0"/><stop offset="0.359" stop-color="#09ffcf"/><stop offset="0.361" stop-color="#1affcf"/><stop offset="0.366" stop-color="#2cffcf"/><stop offset="0.380" stop-color="#4dffce"/><stop offset="0.401" stop-color="#6fffcc"/><stop offset="0.435" stop-color="#99ffca"/><stop offset="0.506" stop-color="#e3ffc4"/><stop offset="0.532" stop-color="#fcffc1"/><stop offset="0.546" stop-color="#fff5b8"/><stop offset="0.603" stop-color="#ffcb93"/><stop offset="0.679" stop-color="#ffa46f"/><stop offset="0.774" stop-color="#ff814a"/><stop offset="0.874" stop-color="#ff6425"/><stop offset="0.910" stop-color="#ff5a10"/><stop offset="0.919" stop-color="#ff5805"/><stop offset="0.924" stop-color="#ff5700"/><stop offset="1.000" stop-color="#ff5000"/></linearGradient>
<linearGradient id="r116" gradientUnits="userSpaceOnUse" x1="948" x2="1370" y1="0" y2="0"><stop offset="0.000" stop-color="#00fff1"/><stop offset="0.194" stop-color="#00ffe9"/><stop offset="0.299" stop-color="#00ffde"/><stop offset="0.336" stop-color="#00ffd7"/><stop offset="0.351" stop-color="#00ffd3"/><stop offset="0.353" stop-color="#00ffd2"/><stop offset="0.355" stop-color="#17ffd2"/><stop offset="0.360" stop-color="#2affd2"/><stop offset="0.374" stop-color="#4cffd1"/><stop offset="0.396" stop-color="#6fffd0"/><stop offset="0.448" stop-color="#afffcc"/><stop offset="0.519" stop-color="#f7ffc6"/><stop offset="0.528" stop-color="#fffec4"/><stop offset="0.566" stop-color="#ffdea8"/><stop offset="0.623" stop-color="#ffbb88"/><stop offset="0.694" stop-color="#ff9a68"/><stop offset="0.784" stop-color="#ff7a47"/><stop offset="0.879" stop-color="#ff5f24"/><stop offset="0.912" stop-color="#ff5611"/><stop offset="0.922" stop-color="#ff5407"/><stop offset="0.924" stop-color="#ff5300"/><stop offset="1.000" stop-color="#ff4d00"/></linearGradient>
<linearGradient id="r117" gradientUnits="userSpaceOnUse" x1="948" x2="1373" y1="0" y2="0"><stop offset="0.000" stop-color="#00fff2"/><stop offset="0.195" stop-color="#00ffea"/><stop offset="0.299" stop-color="#00ffe0"/><stop offset="0.336" stop-color="#00ffd9"/><stop offset="0.346" stop-color="#00ffd6"/><stop offset="0.348" stop-color="#00ffd6"/><stop offset="0.351" stop-color="#14ffd6"/><stop offset="0.355" stop-color="#29ffd5"/><stop offset="0.369" stop-color="#4cffd5"/><stop offset="0.402" stop-color="#7fffd3"/><stop offset="0.452" stop-color="#baffcf"/><stop offset="0.499" stop-color="#eaffcb"/><stop offset="0.518" stop-color="#fdffca"/><stop offset="0.579" stop-color="#ffcf9f"/><stop offset="0.659" stop-color="#ffa477"/><stop offset="0.758" stop-color="#ff7f51"/><stop offset="0.864" stop-color="#ff5f2b"/><stop offset="0.901" stop-color="#ff5519"/><stop offset="0.920" stop-color="#ff510c"/><stop offset="0.925" stop-color="#ff4f05"/><stop offset="0.929" stop-color="#ff4f00"/><stop offset="1.000" stop-color="#ff4900"/></linearGradient>
<linearGradient id="r118" gradientUnits="userSpaceOnUse" x1="949" x2="1376" y1="0" y2="0"><stop offset="0.000" stop-color="#00fff3"/><stop offset="0.197" stop-color="#00ffeb"/><stop offset="0.300" stop-color="#00ffe1"/><stop offset="0.337" stop-color="#00ffda"/><stop offset="0.342" stop-color="#00ffd9"/><stop offset="0.347" stop-color="#1effd9"/><stop offset="0.356" stop-color="#3bffd8"/><stop offset="0.370" stop-color="#58ffd8"/><stop offset="0.403" stop-color="#89ffd6"/><stop offset="0.480" stop-color="#e0ffd1"/><stop offset="0.508" stop-color="#fcffce"/><stop offset="0.520" stop-color="#fff6c6"/><stop offset="0.560" stop-color="#ffd6a9"/><stop offset="0.616" stop-color="#ffb48a"/><stop offset="0.691" stop-color="#ff9269"/><stop offset="0.780" stop-color="#ff7349"/><stop offset="0.876" stop-color="#ff5826"/><stop offset="0.911" stop-color="#ff4f14"/><stop offset="0.925" stop-color="#ff4b07"/><stop offset="0.927" stop-color="#ff4b00"/><stop offset="1.000" stop-color="#ff4500"/></linearGradient>
<linearGradient id="r119" gradientUnits="userSpaceOnUse" x1="949" x2="1379" y1="0" y2="0"><stop offset="0.000" stop-color="#00fff4"/><stop offset="0.195" stop-color="#00ffed"/><stop offset="0.300" stop-color="#00ffe3"/><stop offset="0.337" stop-color="#00ffdd"/><stop offset="0.342" stop-color="#1bffdc"/><stop offset="0.351" stop-color="#3affdc"/><stop offset="0.365" stop-color="#58ffdb"/><stop offset="0.400" stop-color="#8cffd9"/><stop offset="0.451" stop-color="#c8ffd6"/><stop offset="0.498" stop-color="#f9ffd3"/><stop offset="0.505" stop-color="#fffed2"/><stop offset="0.547" stop-color="#ffdab0"/><stop offset="0.605" stop-color="#ffb58e"/><stop offset="0.681" stop-color="#ff916c"/><stop offset="0.821" stop-color="#ff633b"/><stop offset="0.900" stop-color="#ff4e1b"/><stop offset="0.919" stop-color="#ff4910"/><stop offset="0.928" stop-color="#ff4604"/><stop offset="0.933" stop-color="#ff4600"/><stop offset="1.000" stop-color="#ff4100"/></linearGradient>
<linearGradient id="r120" gradientUnits="userSpaceOnUse" x1="950" x2="1382" y1="0" y2="0"><stop offset="0.000" stop-color="#00fff5"/><stop offset="0.197" stop-color="#00ffee"/><stop offset="0.301" stop-color="#00ffe5"/><stop offset="0.326" stop-color="#00ffe1"/><stop offset="0.331" stop-color="#00ffe0"/><stop offset="0.333" stop-color="#00ffe0"/><stop offset="0.336" stop-color="#19ffe0"/><stop offset="0.340" stop-color="#2cffe0"/><stop offset="0.354" stop-color="#4fffdf"/><stop offset="0.377" stop-color="#76ffde"/><stop offset="0.428" stop-color="#b7ffdb"/><stop offset="0.477" stop-color="#ecffd8"/><stop offset="0.495" stop-color="#ffffd7"/><stop offset="0.537" stop-color="#ffdab5"/><stop offset="0.595" stop-color="#ffb492"/><stop offset="0.674" stop-color="#ff906f"/><stop offset="0.817" stop-color="#ff603c"/><stop offset="0.896" stop-color="#ff4b1e"/><stop offset="0.926" stop-color="#ff430a"/><stop offset="0.931" stop-color="#ff4200"/><stop offset="1.000" stop-color="#ff3d00"/></linearGradient>
<linearGradient id="r121" gradientUnits="userSpaceOnUse" x1="950" x2="1384" y1="0" y2="0"><stop offset="0.000" stop-color="#00fff6"/><stop offset="0.196" stop-color="#00fff0"/><stop offset="0.300" stop-color="#00ffe8"/><stop offset="0.325" stop-color="#00ffe4"/><stop offset="0.329" stop-color="#00ffe3"/><stop offset="0.332" stop-color="#16ffe3"/><stop offset="0.336" stop-color="#2affe3"/><stop offset="0.350" stop-color="#4effe2"/><stop offset="0.373" stop-color="#76ffe2"/><stop offset="0.408" stop-color="#a4ffe0"/><stop offset="0.484" stop-color="#faffdc"/><stop offset="0.491" stop-color="#fffdda"/><stop offset="0.532" stop-color="#ffd8b8"/><stop offset="0.592" stop-color="#ffb293"/><stop offset="0.671" stop-color="#ff8d70"/><stop offset="0.816" stop-color="#ff5d3e"/><stop offset="0.896" stop-color="#ff471f"/><stop offset="0.926" stop-color="#ff3f0d"/><stop offset="0.935" stop-color="#ff3d00"/><stop offset="1.000" stop-color="#ff3900"/></linearGradient>
<linearGradient id="r122" gradientUnits="userSpaceOnUse" x1="951" x2="1387" y1="0" y2="0"><stop offset="0.000" stop-color="#00fff7"/><stop offset="0.195" stop-color="#00fff2"/><stop offset="0.300" stop-color="#00ffea"/><stop offset="0.317" stop-color="#00ffe8"/><stop offset="0.321" stop-color="#00ffe7"/><stop offset="0.323" stop-color="#00ffe7"/><stop offset="0.328" stop-color="#1fffe7"/><stop offset="0.337" stop-color="#3dffe6"/><stop offset="0.351" stop-color="#5bffe6"/><stop offset="0.388" stop-color="#93ffe4"/><stop offset="0.438" stop-color="#d0ffe2"/><stop offset="0.470" stop-color="#f4ffe1"/><stop offset="0.482" stop-color="#fffedf"/><stop offset="0.525" stop-color="#ffd6ba"/><stop offset="0.585" stop-color="#ffb096"/><stop offset="0.665" stop-color="#ff8b72"/><stop offset="0.812" stop-color="#ff5a3f"/><stop offset="0.894" stop-color="#ff4321"/><stop offset="0.924" stop-color="#ff3b10"/><stop offset="0.933" stop-color="#ff3806"/><stop offset="0.936" stop-color="#ff3800"/><stop offset="1.000" stop-color="#ff3400"/></linearGradient>
<linearGradient id="r123" gradientUnits="userSpaceOnUse" x1="951" x2="1390" y1="0" y2="0"><stop offset="0.000" stop-color="#00fff8"/><stop offset="0.196" stop-color="#00fff4"/><stop offset="0.301" stop-color="#00ffed"/><stop offset="0.317" stop-color="#00ffeb"/><stop offset="0.319" stop-color="#00ffeb"/><stop offset="0.323" stop-color="#1dffea"/><stop offset="0.333" stop-color="#3dffea"/><stop offset="0.346" stop-color="#5bffea"/><stop offset="0.383" stop-color="#94ffe8"/><stop offset="0.462" stop-color="#f3ffe5"/><stop offset="0.474" stop-color="#ffffe4"/><stop offset="0.519" stop-color="#ffd5bd"/><stop offset="0.581" stop-color="#ffad97"/><stop offset="0.663" stop-color="#ff8872"/><stop offset="0.761" stop-color="#ff6650"/><stop offset="0.866" stop-color="#ff472d"/><stop offset="0.925" stop-color="#ff3611"/><stop offset="0.938" stop-color="#ff3300"/><stop offset="1.000" stop-color="#ff2f00"/></linearGradient>
<linearGradient id="r124" gradientUnits="userSpaceOnUse" x1="952" x2="1393" y1="0" y2="0"><stop offset="0.000" stop-color="#00fff9"/><stop offset="0.195" stop-color="#00fff5"/><stop offset="0.299" stop-color="#00fff0"/><stop offset="0.308" stop-color="#00ffef"/><stop offset="0.313" stop-color="#00ffee"/><stop offset="0.315" stop-color="#06ffee"/><stop offset="0.317" stop-color="#1affee"/><stop offset="0.322" stop-color="#2effee"/><stop offset="0.336" stop-color="#51ffed"/><stop offset="0.358" stop-color="#7affed"/><stop offset="0.413" stop-color="#c2ffeb"/><stop offset="0.463" stop-color="#fcffe9"/><stop offset="0.474" stop-color="#fff6e0"/><stop offset="0.519" stop-color="#ffcebb"/><stop offset="0.580" stop-color="#ffa896"/><stop offset="0.662" stop-color="#ff8372"/><stop offset="0.812" stop-color="#ff523f"/><stop offset="0.893" stop-color="#ff3b22"/><stop offset="0.923" stop-color="#ff3213"/><stop offset="0.937" stop-color="#ff2e06"/><stop offset="0.939" stop-color="#ff2d00"/><stop offset="1.000" stop-color="#ff2a00"/></linearGradient>
<linearGradient id="r125" gradientUnits="userSpaceOnUse" x1="952" x2="1395" y1="0" y2="0"><stop offset="0.000" stop-color="#00fffb"/><stop offset="0.293" stop-color="#00fff3"/><stop offset="0.309" stop-color="#00fff2"/><stop offset="0.312" stop-color="#00fff2"/><stop offset="0.314" stop-color="#17fff1"/><stop offset="0.318" stop-color="#2cfff1"/><stop offset="0.327" stop-color="#46fff1"/><stop offset="0.341" stop-color="#63fff1"/><stop offset="0.377" stop-color="#9bfff0"/><stop offset="0.458" stop-color="#feffee"/><stop offset="0.503" stop-color="#ffd5c6"/><stop offset="0.567" stop-color="#ffab9d"/><stop offset="0.650" stop-color="#ff8477"/><stop offset="0.804" stop-color="#ff5142"/><stop offset="0.889" stop-color="#ff3825"/><stop offset="0.921" stop-color="#ff2e16"/><stop offset="0.935" stop-color="#ff290d"/><stop offset="0.941" stop-color="#ff2703"/><stop offset="0.950" stop-color="#ff2700"/><stop offset="1.000" stop-color="#ff2500"/></linearGradient>
<linearGradient id="r126" gradientUnits="userSpaceOnUse" x1="953" x2="1398" y1="0" y2="0"><stop offset="0.000" stop-color="#00fffc"/><stop offset="0.294" stop-color="#00fff6"/><stop offset="0.303" stop-color="#00fff5"/><stop offset="0.306" stop-color="#00fff5"/><stop offset="0.308" stop-color="#14fff5"/><stop offset="0.312" stop-color="#2afff5"/><stop offset="0.321" stop-color="#46fff5"/><stop offset="0.337" stop-color="#67fff5"/><stop offset="0.373" stop-color="#9efff4"/><stop offset="0.427" stop-color="#e2fff3"/><stop offset="0.447" stop-color="#fafff3"/><stop offset="0.452" stop-color="#fffff2"/><stop offset="0.483" stop-color="#ffdfd3"/><stop offset="0.528" stop-color="#ffbcb2"/><stop offset="0.589" stop-color="#ff9a91"/><stop offset="0.670" stop-color="#ff786f"/><stop offset="0.890" stop-color="#ff3325"/><stop offset="0.921" stop-color="#ff2817"/><stop offset="0.935" stop-color="#ff230e"/><stop offset="0.942" stop-color="#ff2106"/><stop offset="0.944" stop-color="#ff2000"/><stop offset="1.000" stop-color="#ff1e00"/></linearGradient>
<linearGradient id="r127" gradientUnits="userSpaceOnUse" x1="953" x2="1401" y1="0" y2="0"><stop offset="0.000" stop-color="#00fffd"/><stop offset="0.295" stop-color="#00fff9"/><stop offset="0.301" stop-color="#00fff9"/><stop offset="0.306" stop-color="#1ffff9"/><stop offset="0.315" stop-color="#3ffff9"/><stop offset="0.330" stop-color="#62fff9"/><stop offset="0.353" stop-color="#88fff9"/><stop offset="0.406" stop-color="#d1fff8"/><stop offset="0.438" stop-color="#f7fff8"/><stop offset="0.446" stop-color="#fffdf5"/><stop offset="0.478" stop-color="#ffddd6"/><stop offset="0.522" stop-color="#ffbbb5"/><stop offset="0.583" stop-color="#ff9993"/><stop offset="0.663" stop-color="#ff7771"/><stop offset="0.810" stop-color="#ff4640"/><stop offset="0.893" stop-color="#ff2c24"/><stop offset="0.924" stop-color="#ff2116"/><stop offset="0.938" stop-color="#ff1b0c"/><stop offset="0.949" stop-color="#ff1700"/><stop offset="1.000" stop-color="#ff1600"/></linearGradient>
<linearGradient id="r128" gradientUnits="userSpaceOnUse" x1="954" x2="1404" y1="0" y2="0"><stop offset="0.000" stop-color="#00fffe"/><stop offset="0.296" stop-color="#00fffd"/><stop offset="0.298" stop-color="#09fffd"/><stop offset="0.300" stop-color="#1cfffd"/><stop offset="0.307" stop-color="#37fffd"/><stop offset="0.316" stop-color="#4ffffd"/><stop offset="0.340" stop-color="#7efffd"/><stop offset="0.376" stop-color="#b2fffd"/><stop offset="0.429" stop-color="#f6fffc"/><stop offset="0.438" stop-color="#fffefb"/><stop offset="0.469" stop-color="#ffdddb"/><stop offset="0.513" stop-color="#ffbab8"/><stop offset="0.576" stop-color="#ff9795"/><stop offset="0.658" stop-color="#ff7472"/><stop offset="0.884" stop-color="#ff2a28"/><stop offset="0.933" stop-color="#ff1411"/><stop offset="0.944" stop-color="#ff0c06"/><stop offset="0.947" stop-color="#ff0b00"/><stop offset="1.000" stop-color="#ff0a00"/></linearGradient>
<linearGradient id="r129" gradientUnits="userSpaceOnUse" x1="954" x2="1407" y1="0" y2="0"><stop offset="0.000" stop-color="#00ffff"/><stop offset="0.196" stop-color="#00feff"/><stop offset="0.265" stop-color="#00feff"/><stop offset="0.291" stop-color="#00fdff"/><stop offset="0.294" stop-color="#00fdff"/><stop offset="0.296" stop-color="#19fdff"/><stop offset="0.300" stop-color="#2efdff"/><stop offset="0.311" stop-color="#4efdff"/><stop offset="0.336" stop-color="#7dfdff"/><stop offset="0.371" stop-color="#b2fdff"/><stop offset="0.424" stop-color="#f5fdff"/><stop offset="0.433" stop-color="#fffcfe"/><stop offset="0.464" stop-color="#ffdbde"/><stop offset="0.510" stop-color="#ffb7b9"/><stop offset="0.572" stop-color="#ff9496"/><stop offset="0.656" stop-color="#ff7173"/><stop offset="0.885" stop-color="#ff2328"/><stop offset="0.916" stop-color="#ff141b"/><stop offset="0.938" stop-color="#ff0011"/><stop offset="1.000" stop-color="#ff0010"/></linearGradient>
<linearGradient id="r130" gradientUnits="userSpaceOnUse" x1="955" x2="1409" y1="0" y2="0"><stop offset="0.000" stop-color="#00fdff"/><stop offset="0.196" stop-color="#00fcff"/><stop offset="0.267" stop-color="#00faff"/><stop offset="0.284" stop-color="#00faff"/><stop offset="0.289" stop-color="#00faff"/><stop offset="0.291" stop-color="#15faff"/><stop offset="0.295" stop-color="#2bfaff"/><stop offset="0.306" stop-color="#4cf9ff"/><stop offset="0.324" stop-color="#70f9ff"/><stop offset="0.361" stop-color="#a9f9ff"/><stop offset="0.414" stop-color="#edf8ff"/><stop offset="0.427" stop-color="#fdf8ff"/><stop offset="0.476" stop-color="#ffcad1"/><stop offset="0.520" stop-color="#ffacb2"/><stop offset="0.581" stop-color="#ff8b91"/><stop offset="0.663" stop-color="#ff6a70"/><stop offset="0.813" stop-color="#ff3840"/><stop offset="0.894" stop-color="#ff1825"/><stop offset="0.914" stop-color="#ff0a1d"/><stop offset="0.919" stop-color="#ff021b"/><stop offset="1.000" stop-color="#ff0019"/></linearGradient>
<linearGradient id="r131" gradientUnits="userSpaceOnUse" x1="955" x2="1412" y1="0" y2="0"><stop offset="0.000" stop-color="#00fcff"/><stop offset="0.195" stop-color="#00faff"/><stop offset="0.265" stop-color="#00f7ff"/><stop offset="0.282" stop-color="#00f6ff"/><stop offset="0.284" stop-color="#00f6ff"/><stop offset="0.289" stop-color="#1ff6ff"/><stop offset="0.295" stop-color="#38f6ff"/><stop offset="0.313" stop-color="#62f5ff"/><stop offset="0.337" stop-color="#8bf5ff"/><stop offset="0.394" stop-color="#d7f4ff"/><stop offset="0.416" stop-color="#f2f3ff"/><stop offset="0.429" stop-color="#fff0fc"/><stop offset="0.477" stop-color="#ffc3ce"/><stop offset="0.543" stop-color="#ff9aa4"/><stop offset="0.630" stop-color="#ff727c"/><stop offset="0.792" stop-color="#ff3a46"/><stop offset="0.853" stop-color="#ff2434"/><stop offset="0.880" stop-color="#ff172b"/><stop offset="0.893" stop-color="#ff0e26"/><stop offset="0.902" stop-color="#ff0223"/><stop offset="1.000" stop-color="#ff0020"/></linearGradient>
<linearGradient id="r132" gradientUnits="userSpaceOnUse" x1="956" x2="1415" y1="0" y2="0"><stop offset="0.000" stop-color="#00fbff"/><stop offset="0.196" stop-color="#00f7ff"/><stop offset="0.266" stop-color="#00f3ff"/><stop offset="0.277" stop-color="#00f3ff"/><stop offset="0.279" stop-color="#00f2ff"/><stop offset="0.285" stop-color="#27f2ff"/><stop offset="0.296" stop-color="#48f2ff"/><stop offset="0.314" stop-color="#6cf1ff"/><stop offset="0.340" stop-color="#96f1ff"/><stop offset="0.397" stop-color="#e0efff"/><stop offset="0.418" stop-color="#faeeff"/><stop offset="0.427" stop-color="#ffeafa"/><stop offset="0.475" stop-color="#ffbecd"/><stop offset="0.540" stop-color="#ff95a4"/><stop offset="0.630" stop-color="#ff6e7b"/><stop offset="0.793" stop-color="#ff3546"/><stop offset="0.854" stop-color="#ff1c34"/><stop offset="0.880" stop-color="#ff0a2b"/><stop offset="0.885" stop-color="#ff0229"/><stop offset="1.000" stop-color="#ff0025"/></linearGradient>
<linearGradient id="r133" gradientUnits="userSpaceOnUse" x1="957" x2="1418" y1="0" y2="0"><stop offset="0.000" stop-color="#00faff"/><stop offset="0.195" stop-color="#00f5ff"/><stop offset="0.265" stop-color="#00f0ff"/><stop offset="0.275" stop-color="#00efff"/><stop offset="0.278" stop-color="#19efff"/><stop offset="0.284" stop-color="#34eeff"/><stop offset="0.295" stop-color="#51eeff"/><stop offset="0.312" stop-color="#72eeff"/><stop offset="0.351" stop-color="#acecff"/><stop offset="0.406" stop-color="#efeaff"/><stop offset="0.419" stop-color="#ffeaff"/><stop offset="0.466" stop-color="#ffbed1"/><stop offset="0.512" stop-color="#ffa0b2"/><stop offset="0.575" stop-color="#ff8091"/><stop offset="0.698" stop-color="#ff5063"/><stop offset="0.785" stop-color="#ff3248"/><stop offset="0.848" stop-color="#ff1635"/><stop offset="0.866" stop-color="#ff0730"/><stop offset="0.870" stop-color="#ff002f"/><stop offset="1.000" stop-color="#ff002a"/></linearGradient>
<linearGradient id="r134" gradientUnits="userSpaceOnUse" x1="957" x2="1420" y1="0" y2="0"><stop offset="0.000" stop-color="#00f8ff"/><stop offset="0.194" stop-color="#00f2ff"/><stop offset="0.263" stop-color="#00ecff"/><stop offset="0.270" stop-color="#00ebff"/><stop offset="0.272" stop-color="#00ebff"/><stop offset="0.274" stop-color="#16ebff"/><stop offset="0.279" stop-color="#2bebff"/><stop offset="0.289" stop-color="#4aeaff"/><stop offset="0.307" stop-color="#6deaff"/><stop offset="0.346" stop-color="#a7e8ff"/><stop offset="0.402" stop-color="#ede6ff"/><stop offset="0.415" stop-color="#fce5ff"/><stop offset="0.436" stop-color="#ffd2eb"/><stop offset="0.484" stop-color="#ffadc4"/><stop offset="0.549" stop-color="#ff889e"/><stop offset="0.635" stop-color="#ff6379"/><stop offset="0.795" stop-color="#ff2946"/><stop offset="0.834" stop-color="#ff163b"/><stop offset="0.847" stop-color="#ff0d37"/><stop offset="0.853" stop-color="#ff0135"/><stop offset="1.000" stop-color="#ff002e"/></linearGradient>
<linearGradient id="r135" gradientUnits="userSpaceOnUse" x1="958" x2="1423" y1="0" y2="0"><stop offset="0.000" stop-color="#00f7ff"/><stop offset="0.196" stop-color="#00f0ff"/><stop offset="0.265" stop-color="#00e8ff"/><stop offset="0.267" stop-color="#00e8ff"/><stop offset="0.271" stop-color="#1fe7ff"/><stop offset="0.277" stop-color="#37e7ff"/><stop offset="0.295" stop-color="#5fe6ff"/><stop offset="0.320" stop-color="#8ae5ff"/><stop offset="0.378" stop-color="#d6e2ff"/><stop offset="0.413" stop-color="#fee0ff"/><stop offset="0.462" stop-color="#ffb5d1"/><stop offset="0.531" stop-color="#ff8ba5"/><stop offset="0.622" stop-color="#ff647d"/><stop offset="0.789" stop-color="#ff2548"/><stop offset="0.828" stop-color="#ff0f3c"/><stop offset="0.837" stop-color="#ff013a"/><stop offset="1.000" stop-color="#ff0031"/></linearGradient>
<linearGradient id="r136" gradientUnits="userSpaceOnUse" x1="958" x2="1426" y1="0" y2="0"><stop offset="0.000" stop-color="#00f6ff"/><stop offset="0.197" stop-color="#00edff"/><stop offset="0.241" stop-color="#00e8ff"/><stop offset="0.259" stop-color="#00e5ff"/><stop offset="0.263" stop-color="#00e4ff"/><stop offset="0.267" stop-color="#1ce4ff"/><stop offset="0.274" stop-color="#35e4ff"/><stop offset="0.284" stop-color="#51e3ff"/><stop offset="0.310" stop-color="#7fe2ff"/><stop offset="0.348" stop-color="#b4e0ff"/><stop offset="0.404" stop-color="#f6dcff"/><stop offset="0.412" stop-color="#ffdbfe"/><stop offset="0.447" stop-color="#ffbcdc"/><stop offset="0.494" stop-color="#ff9bba"/><stop offset="0.558" stop-color="#ff7a97"/><stop offset="0.643" stop-color="#ff5775"/><stop offset="0.748" stop-color="#ff3054"/><stop offset="0.795" stop-color="#ff1b46"/><stop offset="0.812" stop-color="#ff0f41"/><stop offset="0.816" stop-color="#ff0a40"/><stop offset="0.821" stop-color="#ff003f"/><stop offset="1.000" stop-color="#ff0035"/></linearGradient>
<linearGradient id="r137" gradientUnits="userSpaceOnUse" x1="959" x2="1429" y1="0" y2="0"><stop offset="0.000" stop-color="#00f4ff"/><stop offset="0.196" stop-color="#00eaff"/><stop offset="0.240" stop-color="#00e4ff"/><stop offset="0.257" stop-color="#00e1ff"/><stop offset="0.260" stop-color="#05e0ff"/><stop offset="0.262" stop-color="#19e0ff"/><stop offset="0.268" stop-color="#33e0ff"/><stop offset="0.279" stop-color="#4fdfff"/><stop offset="0.304" stop-color="#7ddeff"/><stop offset="0.343" stop-color="#b2dcff"/><stop offset="0.398" stop-color="#f4d8ff"/><stop offset="0.411" stop-color="#ffd4fc"/><stop offset="0.445" stop-color="#ffb6db"/><stop offset="0.491" stop-color="#ff97b9"/><stop offset="0.555" stop-color="#ff7697"/><stop offset="0.640" stop-color="#ff5375"/><stop offset="0.745" stop-color="#ff2b54"/><stop offset="0.794" stop-color="#ff1146"/><stop offset="0.800" stop-color="#ff0a44"/><stop offset="0.804" stop-color="#ff0043"/><stop offset="1.000" stop-color="#ff0038"/></linearGradient>
<linearGradient id="r138" gradientUnits="userSpaceOnUse" x1="960" x2="1432" y1="0" y2="0"><stop offset="0.000" stop-color="#00f3ff"/><stop offset="0.129" stop-color="#00edff"/><stop offset="0.242" stop-color="#00e0ff"/><stop offset="0.252" stop-color="#00deff"/><stop offset="0.254" stop-color="#00ddff"/><stop offset="0.256" stop-color="#16ddff"/><stop offset="0.261" stop-color="#2addff"/><stop offset="0.271" stop-color="#48dcff"/><stop offset="0.288" stop-color="#6adbff"/><stop offset="0.328" stop-color="#a5d9ff"/><stop offset="0.386" stop-color="#ead4ff"/><stop offset="0.398" stop-color="#f8d3ff"/><stop offset="0.407" stop-color="#ffd0fc"/><stop offset="0.458" stop-color="#ffa6ce"/><stop offset="0.528" stop-color="#ff7ea4"/><stop offset="0.619" stop-color="#ff577d"/><stop offset="0.731" stop-color="#ff2b58"/><stop offset="0.765" stop-color="#ff1a4e"/><stop offset="0.784" stop-color="#ff0a49"/><stop offset="0.788" stop-color="#ff0048"/><stop offset="1.000" stop-color="#ff003a"/></linearGradient>
<linearGradient id="r139" gradientUnits="userSpaceOnUse" x1="960" x2="1434" y1="0" y2="0"><stop offset="0.000" stop-color="#00f2ff"/><stop offset="0.131" stop-color="#00ebff"/><stop offset="0.243" stop-color="#00dcff"/><stop offset="0.249" stop-color="#00daff"/><stop offset="0.251" stop-color="#00daff"/><stop offset="0.255" stop-color="#1fd9ff"/><stop offset="0.262" stop-color="#36d9ff"/><stop offset="0.278" stop-color="#5dd8ff"/><stop offset="0.304" stop-color="#86d6ff"/><stop offset="0.342" stop-color="#b8d4ff"/><stop offset="0.397" stop-color="#f8cfff"/><stop offset="0.405" stop-color="#ffccfd"/><stop offset="0.439" stop-color="#ffafdc"/><stop offset="0.511" stop-color="#ff82ac"/><stop offset="0.605" stop-color="#ff5882"/><stop offset="0.719" stop-color="#ff2a5c"/><stop offset="0.753" stop-color="#ff1952"/><stop offset="0.772" stop-color="#ff074d"/><stop offset="0.774" stop-color="#ff004c"/><stop offset="1.000" stop-color="#ff003d"/></linearGradient>
<linearGradient id="r140" gradientUnits="userSpaceOnUse" x1="961" x2="1437" y1="0" y2="0"><stop offset="0.000" stop-color="#00f0ff"/><stop offset="0.130" stop-color="#00e9ff"/><stop offset="0.206" stop-color="#00e0ff"/><stop offset="0.235" stop-color="#00d9ff"/><stop offset="0.246" stop-color="#00d7ff"/><stop offset="0.250" stop-color="#1cd6ff"/><stop offset="0.256" stop-color="#34d6ff"/><stop offset="0.267" stop-color="#4fd5ff"/><stop offset="0.294" stop-color="#7fd3ff"/><stop offset="0.334" stop-color="#b4d0ff"/><stop offset="0.391" stop-color="#f6cbff"/><stop offset="0.399" stop-color="#ffcaff"/><stop offset="0.450" stop-color="#ffa1d1"/><stop offset="0.521" stop-color="#ff78a6"/><stop offset="0.613" stop-color="#ff507e"/><stop offset="0.727" stop-color="#ff1f5a"/><stop offset="0.748" stop-color="#ff1154"/><stop offset="0.756" stop-color="#ff0751"/><stop offset="0.758" stop-color="#ff0051"/><stop offset="1.000" stop-color="#ff003f"/></linearGradient>
<linearGradient id="r141" gradientUnits="userSpaceOnUse" x1="961" x2="1440" y1="0" y2="0"><stop offset="0.000" stop-color="#00efff"/><stop offset="0.129" stop-color="#00e7ff"/><stop offset="0.205" stop-color="#00ddff"/><stop offset="0.234" stop-color="#00d6ff"/><stop offset="0.242" stop-color="#00d4ff"/><stop offset="0.244" stop-color="#08d3ff"/><stop offset="0.246" stop-color="#1ad3ff"/><stop offset="0.253" stop-color="#33d2ff"/><stop offset="0.269" stop-color="#5ad1ff"/><stop offset="0.296" stop-color="#86cfff"/><stop offset="0.336" stop-color="#baccff"/><stop offset="0.392" stop-color="#fac6ff"/><stop offset="0.401" stop-color="#ffc2fb"/><stop offset="0.451" stop-color="#ff9acf"/><stop offset="0.522" stop-color="#ff73a4"/><stop offset="0.614" stop-color="#ff4b7e"/><stop offset="0.689" stop-color="#ff2b65"/><stop offset="0.729" stop-color="#ff1559"/><stop offset="0.741" stop-color="#ff0755"/><stop offset="0.743" stop-color="#ff0055"/><stop offset="0.914" stop-color="#ff0047"/><stop offset="1.000" stop-color="#ff0042"/></linearGradient>
<linearGradient id="r142" gradientUnits="userSpaceOnUse" x1="962" x2="1443" y1="0" y2="0"><stop offset="0.000" stop-color="#00eeff"/><stop offset="0.129" stop-color="#00e5ff"/><stop offset="0.204" stop-color="#00d9ff"/><stop offset="0.233" stop-color="#00d2ff"/><stop offset="0.237" stop-color="#00d0ff"/><stop offset="0.239" stop-color="#00d0ff"/><stop offset="0.241" stop-color="#16d0ff"/><stop offset="0.245" stop-color="#2acfff"/><stop offset="0.256" stop-color="#47ceff"/><stop offset="0.272" stop-color="#67cdff"/><stop offset="0.299" stop-color="#90cbff"/><stop offset="0.360" stop-color="#d9c5ff"/><stop offset="0.395" stop-color="#ffbffd"/><stop offset="0.428" stop-color="#ffa4de"/><stop offset="0.478" stop-color="#ff84bb"/><stop offset="0.545" stop-color="#ff6399"/><stop offset="0.632" stop-color="#ff3e77"/><stop offset="0.703" stop-color="#ff1c60"/><stop offset="0.719" stop-color="#ff0f5b"/><stop offset="0.723" stop-color="#ff0a5a"/><stop offset="0.728" stop-color="#ff0059"/><stop offset="0.909" stop-color="#ff0049"/><stop offset="1.000" stop-color="#ff0044"/></linearGradient>
<linearGradient id="r143" gradientUnits="userSpaceOnUse" x1="963" x2="1445" y1="0" y2="0"><stop offset="0.000" stop-color="#00ecff"/><stop offset="0.129" stop-color="#00e2ff"/><stop offset="0.203" stop-color="#00d6ff"/><stop offset="0.232" stop-color="#00cdff"/><stop offset="0.234" stop-color="#00cdff"/><stop offset="0.237" stop-color="#13ccff"/><stop offset="0.241" stop-color="#28ccff"/><stop offset="0.253" stop-color="#4acbff"/><stop offset="0.270" stop-color="#69caff"/><stop offset="0.297" stop-color="#91c7ff"/><stop offset="0.357" stop-color="#dac1ff"/><stop offset="0.392" stop-color="#ffbbfe"/><stop offset="0.425" stop-color="#ffa0df"/><stop offset="0.475" stop-color="#ff81bc"/><stop offset="0.541" stop-color="#ff5f99"/><stop offset="0.676" stop-color="#ff2368"/><stop offset="0.703" stop-color="#ff1160"/><stop offset="0.710" stop-color="#ff0b5e"/><stop offset="0.714" stop-color="#ff005d"/><stop offset="0.905" stop-color="#ff004c"/><stop offset="1.000" stop-color="#ff0046"/></linearGradient>
<linearGradient id="r144" gradientUnits="userSpaceOnUse" x1="963" x2="1448" y1="0" y2="0"><stop offset="0.000" stop-color="#00ebff"/><stop offset="0.130" stop-color="#00e0ff"/><stop offset="0.204" stop-color="#00d2ff"/><stop offset="0.223" stop-color="#00cdff"/><stop offset="0.231" stop-color="#00caff"/><stop offset="0.235" stop-color="#1cc9ff"/><stop offset="0.239" stop-color="#2dc9ff"/><stop offset="0.252" stop-color="#4dc8ff"/><stop offset="0.278" stop-color="#7bc5ff"/><stop offset="0.320" stop-color="#b2c1ff"/><stop offset="0.377" stop-color="#f3baff"/><stop offset="0.392" stop-color="#ffb5fc"/><stop offset="0.443" stop-color="#ff8ecf"/><stop offset="0.515" stop-color="#ff67a5"/><stop offset="0.610" stop-color="#ff3c7e"/><stop offset="0.660" stop-color="#ff256d"/><stop offset="0.689" stop-color="#ff1265"/><stop offset="0.695" stop-color="#ff0b63"/><stop offset="0.699" stop-color="#ff0062"/><stop offset="0.899" stop-color="#ff004e"/><stop offset="1.000" stop-color="#ff0048"/></linearGradient>
<linearGradient id="r145" gradientUnits="userSpaceOnUse" x1="964" x2="1448" y1="0" y2="0"><stop offset="0.000" stop-color="#00e9ff"/><stop offset="0.128" stop-color="#00deff"/><stop offset="0.202" stop-color="#00cfff"/><stop offset="0.221" stop-color="#00c9ff"/><stop offset="0.225" stop-color="#00c8ff"/><stop offset="0.227" stop-color="#00c7ff"/><stop offset="0.229" stop-color="#0ac6ff"/><stop offset="0.231" stop-color="#1ac6ff"/><stop offset="0.240" stop-color="#38c5ff"/><stop offset="0.252" stop-color="#54c4ff"/><stop offset="0.279" stop-color="#80c1ff"/><stop offset="0.320" stop-color="#b5bdff"/><stop offset="0.378" stop-color="#f5b5ff"/><stop offset="0.390" stop-color="#ffb1fc"/><stop offset="0.442" stop-color="#ff8bd0"/><stop offset="0.514" stop-color="#ff63a6"/><stop offset="0.610" stop-color="#ff397f"/><stop offset="0.659" stop-color="#ff1f6e"/><stop offset="0.678" stop-color="#ff1269"/><stop offset="0.684" stop-color="#ff0b67"/><stop offset="0.688" stop-color="#ff0066"/><stop offset="0.824" stop-color="#ff0056"/><stop offset="1.000" stop-color="#ff004a"/></linearGradient>
<linearGradient id="r146" gradientUnits="userSpaceOnUse" x1="965" x2="1445" y1="0" y2="0"><stop offset="0.000" stop-color="#00e8ff"/><stop offset="0.129" stop-color="#00dbff"/><stop offset="0.204" stop-color="#00cbff"/><stop offset="0.223" stop-color="#00c5ff"/><stop offset="0.227" stop-color="#00c3ff"/><stop offset="0.229" stop-color="#17c3ff"/><stop offset="0.237" stop-color="#36c2ff"/><stop offset="0.250" stop-color="#52c1ff"/><stop offset="0.277" stop-color="#7ebeff"/><stop offset="0.319" stop-color="#b3b9ff"/><stop offset="0.377" stop-color="#f2b1ff"/><stop offset="0.390" stop-color="#ffafff"/><stop offset="0.423" stop-color="#ff95e0"/><stop offset="0.473" stop-color="#ff76be"/><stop offset="0.540" stop-color="#ff559c"/><stop offset="0.629" stop-color="#ff2c7a"/><stop offset="0.658" stop-color="#ff1c71"/><stop offset="0.677" stop-color="#ff0b6b"/><stop offset="0.681" stop-color="#ff006a"/><stop offset="0.894" stop-color="#ff0053"/><stop offset="1.000" stop-color="#ff004c"/></linearGradient>
<linearGradient id="r147" gradientUnits="userSpaceOnUse" x1="965" x2="1439" y1="0" y2="0"><stop offset="0.000" stop-color="#00e6ff"/><stop offset="0.131" stop-color="#00d9ff"/><stop offset="0.205" stop-color="#00c9ff"/><stop offset="0.224" stop-color="#00c2ff"/><stop offset="0.228" stop-color="#00c0ff"/><stop offset="0.230" stop-color="#14c0ff"/><stop offset="0.234" stop-color="#27bfff"/><stop offset="0.245" stop-color="#44beff"/><stop offset="0.262" stop-color="#64bcff"/><stop offset="0.304" stop-color="#9db8ff"/><stop offset="0.363" stop-color="#dfb0ff"/><stop offset="0.386" stop-color="#f6acff"/><stop offset="0.395" stop-color="#ffabff"/><stop offset="0.445" stop-color="#ff86d4"/><stop offset="0.517" stop-color="#ff60ab"/><stop offset="0.610" stop-color="#ff3584"/><stop offset="0.660" stop-color="#ff1974"/><stop offset="0.677" stop-color="#ff076f"/><stop offset="0.679" stop-color="#ff006e"/><stop offset="0.892" stop-color="#ff0056"/><stop offset="1.000" stop-color="#ff004f"/></linearGradient>
<linearGradient id="r148" gradientUnits="userSpaceOnUse" x1="966" x2="1433" y1="0" y2="0"><stop offset="0.000" stop-color="#00e5ff"/><stop offset="0.131" stop-color="#00d7ff"/><stop offset="0.206" stop-color="#00c5ff"/><stop offset="0.225" stop-color="#00beff"/><stop offset="0.227" stop-color="#00bdff"/><stop offset="0.231" stop-color="#1cbcff"/><stop offset="0.238" stop-color="#33bcff"/><stop offset="0.255" stop-color="#57baff"/><stop offset="0.283" stop-color="#81b7ff"/><stop offset="0.321" stop-color="#afb2ff"/><stop offset="0.379" stop-color="#ecaaff"/><stop offset="0.400" stop-color="#ffa5fd"/><stop offset="0.452" stop-color="#ff81d3"/><stop offset="0.522" stop-color="#ff5cab"/><stop offset="0.615" stop-color="#ff3286"/><stop offset="0.664" stop-color="#ff1476"/><stop offset="0.675" stop-color="#ff0773"/><stop offset="0.677" stop-color="#ff0072"/><stop offset="0.818" stop-color="#ff0060"/><stop offset="1.000" stop-color="#ff0052"/></linearGradient>
<linearGradient id="r149" gradientUnits="userSpaceOnUse" x1="966" x2="1427" y1="0" y2="0"><stop offset="0.000" stop-color="#00e4ff"/><stop offset="0.130" stop-color="#00d5ff"/><stop offset="0.204" stop-color="#00c4ff"/><stop offset="0.223" stop-color="#00bcff"/><stop offset="0.228" stop-color="#00baff"/><stop offset="0.232" stop-color="#1ab9ff"/><stop offset="0.239" stop-color="#31b9ff"/><stop offset="0.256" stop-color="#56b7ff"/><stop offset="0.282" stop-color="#7db4ff"/><stop offset="0.321" stop-color="#abafff"/><stop offset="0.377" stop-color="#e5a6ff"/><stop offset="0.399" stop-color="#faa3ff"/><stop offset="0.408" stop-color="#ff9ffb"/><stop offset="0.458" stop-color="#ff7dd4"/><stop offset="0.527" stop-color="#ff59ad"/><stop offset="0.618" stop-color="#ff2f89"/><stop offset="0.649" stop-color="#ff1e7e"/><stop offset="0.668" stop-color="#ff0e78"/><stop offset="0.675" stop-color="#ff0077"/><stop offset="0.818" stop-color="#ff0063"/><stop offset="1.000" stop-color="#ff0055"/></linearGradient>
<linearGradient id="r150" gradientUnits="userSpaceOnUse" x1="967" x2="1421" y1="0" y2="0"><stop offset="0.000" stop-color="#00e2ff"/><stop offset="0.130" stop-color="#00d3ff"/><stop offset="0.205" stop-color="#00c0ff"/><stop offset="0.222" stop-color="#00b9ff"/><stop offset="0.227" stop-color="#00b7ff"/><stop offset="0.229" stop-color="#04b6ff"/><stop offset="0.231" stop-color="#17b6ff"/><stop offset="0.238" stop-color="#2fb6ff"/><stop offset="0.249" stop-color="#49b4ff"/><stop offset="0.275" stop-color="#73b1ff"/><stop offset="0.315" stop-color="#a2acff"/><stop offset="0.403" stop-color="#fa9eff"/><stop offset="0.416" stop-color="#ff97f8"/><stop offset="0.465" stop-color="#ff78d3"/><stop offset="0.535" stop-color="#ff55ad"/><stop offset="0.626" stop-color="#ff2a89"/><stop offset="0.656" stop-color="#ff167f"/><stop offset="0.667" stop-color="#ff0b7c"/><stop offset="0.672" stop-color="#ff007b"/><stop offset="0.817" stop-color="#ff0067"/><stop offset="1.000" stop-color="#ff0057"/></linearGradient>
<linearGradient id="r151" gradientUnits="userSpaceOnUse" x1="968" x2="1415" y1="0" y2="0"><stop offset="0.000" stop-color="#00e0ff"/><stop offset="0.130" stop-color="#00d1ff"/><stop offset="0.204" stop-color="#00beff"/><stop offset="0.221" stop-color="#00b7ff"/><stop offset="0.228" stop-color="#00b4ff"/><stop offset="0.230" stop-color="#14b3ff"/><stop offset="0.237" stop-color="#2eb2ff"/><stop offset="0.255" stop-color="#53b0ff"/><stop offset="0.282" stop-color="#7aadff"/><stop offset="0.342" stop-color="#bda5ff"/><stop offset="0.398" stop-color="#f29cff"/><stop offset="0.412" stop-color="#fe99ff"/><stop offset="0.461" stop-color="#ff7ada"/><stop offset="0.528" stop-color="#ff57b4"/><stop offset="0.620" stop-color="#ff2c8f"/><stop offset="0.651" stop-color="#ff1885"/><stop offset="0.662" stop-color="#ff0e81"/><stop offset="0.669" stop-color="#ff007f"/><stop offset="0.814" stop-color="#ff006a"/><stop offset="1.000" stop-color="#ff005a"/></linearGradient>
<linearGradient id="r152" gradientUnits="userSpaceOnUse" x1="969" x2="1409" y1="0" y2="0"><stop offset="0.000" stop-color="#00dfff"/><stop offset="0.130" stop-color="#00cfff"/><stop offset="0.205" stop-color="#00bbff"/><stop offset="0.223" stop-color="#00b3ff"/><stop offset="0.227" stop-color="#00b1ff"/><stop offset="0.232" stop-color="#1db0ff"/><stop offset="0.243" stop-color="#3dafff"/><stop offset="0.270" stop-color="#6aacff"/><stop offset="0.311" stop-color="#9ba6ff"/><stop offset="0.400" stop-color="#f098ff"/><stop offset="0.420" stop-color="#ff92fc"/><stop offset="0.470" stop-color="#ff73d7"/><stop offset="0.539" stop-color="#ff51b3"/><stop offset="0.630" stop-color="#ff258f"/><stop offset="0.650" stop-color="#ff1788"/><stop offset="0.661" stop-color="#ff0b85"/><stop offset="0.666" stop-color="#ff0083"/><stop offset="0.814" stop-color="#ff006d"/><stop offset="1.000" stop-color="#ff005d"/></linearGradient>
<linearGradient id="r153" gradientUnits="userSpaceOnUse" x1="969" x2="1403" y1="0" y2="0"><stop offset="0.000" stop-color="#00ddff"/><stop offset="0.129" stop-color="#00cdff"/><stop offset="0.203" stop-color="#00b9ff"/><stop offset="0.221" stop-color="#00b1ff"/><stop offset="0.228" stop-color="#00aeff"/><stop offset="0.233" stop-color="#1aadff"/><stop offset="0.240" stop-color="#30acff"/><stop offset="0.258" stop-color="#54aaff"/><stop offset="0.286" stop-color="#7aa7ff"/><stop offset="0.346" stop-color="#b99eff"/><stop offset="0.401" stop-color="#eb95ff"/><stop offset="0.422" stop-color="#fd90ff"/><stop offset="0.470" stop-color="#ff73dc"/><stop offset="0.539" stop-color="#ff50b6"/><stop offset="0.627" stop-color="#ff2594"/><stop offset="0.647" stop-color="#ff178d"/><stop offset="0.659" stop-color="#ff0b89"/><stop offset="0.664" stop-color="#ff0088"/><stop offset="0.811" stop-color="#ff0071"/><stop offset="1.000" stop-color="#ff005f"/></linearGradient>
<linearGradient id="r154" gradientUnits="userSpaceOnUse" x1="970" x2="1397" y1="0" y2="0"><stop offset="0.000" stop-color="#00dcff"/><stop offset="0.131" stop-color="#00caff"/><stop offset="0.206" stop-color="#00b5ff"/><stop offset="0.225" stop-color="#00adff"/><stop offset="0.227" stop-color="#00abff"/><stop offset="0.230" stop-color="#07aaff"/><stop offset="0.232" stop-color="#17aaff"/><stop offset="0.239" stop-color="#2fa9ff"/><stop offset="0.258" stop-color="#53a7ff"/><stop offset="0.300" stop-color="#89a2ff"/><stop offset="0.358" stop-color="#c299ff"/><stop offset="0.412" stop-color="#f18fff"/><stop offset="0.426" stop-color="#fd8cff"/><stop offset="0.501" stop-color="#ff61cd"/><stop offset="0.597" stop-color="#ff33a2"/><stop offset="0.630" stop-color="#ff2196"/><stop offset="0.649" stop-color="#ff1390"/><stop offset="0.656" stop-color="#ff0b8e"/><stop offset="0.660" stop-color="#ff008c"/><stop offset="0.810" stop-color="#ff0074"/><stop offset="1.000" stop-color="#ff0062"/></linearGradient>
<linearGradient id="r155" gradientUnits="userSpaceOnUse" x1="971" x2="1391" y1="0" y2="0"><stop offset="0.000" stop-color="#00daff"/><stop offset="0.129" stop-color="#00c8ff"/><stop offset="0.205" stop-color="#00b3ff"/><stop offset="0.224" stop-color="#00aaff"/><stop offset="0.229" stop-color="#00a8ff"/><stop offset="0.231" stop-color="#15a7ff"/><stop offset="0.238" stop-color="#2da6ff"/><stop offset="0.257" stop-color="#52a4ff"/><stop offset="0.298" stop-color="#859fff"/><stop offset="0.357" stop-color="#be96ff"/><stop offset="0.412" stop-color="#ed8cff"/><stop offset="0.433" stop-color="#ff87ff"/><stop offset="0.481" stop-color="#ff6bdd"/><stop offset="0.548" stop-color="#ff4aba"/><stop offset="0.605" stop-color="#ff2ea3"/><stop offset="0.638" stop-color="#ff1997"/><stop offset="0.650" stop-color="#ff0e93"/><stop offset="0.657" stop-color="#ff0091"/><stop offset="0.810" stop-color="#ff0078"/><stop offset="1.000" stop-color="#ff0065"/></linearGradient>
<linearGradient id="r156" gradientUnits="userSpaceOnUse" x1="971" x2="1385" y1="0" y2="0"><stop offset="0.000" stop-color="#00d8ff"/><stop offset="0.130" stop-color="#00c6ff"/><stop offset="0.203" stop-color="#00b1ff"/><stop offset="0.222" stop-color="#00a9ff"/><stop offset="0.229" stop-color="#00a5ff"/><stop offset="0.234" stop-color="#1da4ff"/><stop offset="0.246" stop-color="#3ca2ff"/><stop offset="0.273" stop-color="#659fff"/><stop offset="0.333" stop-color="#a597ff"/><stop offset="0.420" stop-color="#ef87ff"/><stop offset="0.440" stop-color="#ff82ff"/><stop offset="0.488" stop-color="#ff67de"/><stop offset="0.553" stop-color="#ff46bc"/><stop offset="0.611" stop-color="#ff29a4"/><stop offset="0.643" stop-color="#ff1499"/><stop offset="0.650" stop-color="#ff0b97"/><stop offset="0.655" stop-color="#ff0096"/><stop offset="0.807" stop-color="#ff007b"/><stop offset="1.000" stop-color="#ff0068"/></linearGradient>
<linearGradient id="r157" gradientUnits="userSpaceOnUse" x1="972" x2="1379" y1="0" y2="0"><stop offset="0.000" stop-color="#00d7ff"/><stop offset="0.130" stop-color="#00c4ff"/><stop offset="0.204" stop-color="#00aeff"/><stop offset="0.224" stop-color="#00a5ff"/><stop offset="0.229" stop-color="#00a2ff"/><stop offset="0.233" stop-color="#1aa1ff"/><stop offset="0.243" stop-color="#35a0ff"/><stop offset="0.260" stop-color="#539eff"/><stop offset="0.300" stop-color="#8298ff"/><stop offset="0.359" stop-color="#b98fff"/><stop offset="0.442" stop-color="#fd7eff"/><stop offset="0.514" stop-color="#ff58d3"/><stop offset="0.575" stop-color="#ff3ab6"/><stop offset="0.629" stop-color="#ff1ca2"/><stop offset="0.641" stop-color="#ff119d"/><stop offset="0.649" stop-color="#ff079b"/><stop offset="0.651" stop-color="#ff009a"/><stop offset="0.803" stop-color="#ff007f"/><stop offset="1.000" stop-color="#ff006a"/></linearGradient>
<linearGradient id="r158" gradientUnits="userSpaceOnUse" x1="973" x2="1373" y1="0" y2="0"><stop offset="0.000" stop-color="#00d5ff"/><stop offset="0.130" stop-color="#00c1ff"/><stop offset="0.180" stop-color="#00b4ff"/><stop offset="0.225" stop-color="#00a1ff"/><stop offset="0.228" stop-color="#00a0ff"/><stop offset="0.230" stop-color="#099eff"/><stop offset="0.233" stop-color="#189eff"/><stop offset="0.242" stop-color="#349dff"/><stop offset="0.260" stop-color="#519bff"/><stop offset="0.300" stop-color="#8195ff"/><stop offset="0.390" stop-color="#d086ff"/><stop offset="0.443" stop-color="#f97bff"/><stop offset="0.455" stop-color="#ff76fc"/><stop offset="0.525" stop-color="#ff51d1"/><stop offset="0.618" stop-color="#ff21a9"/><stop offset="0.637" stop-color="#ff12a2"/><stop offset="0.645" stop-color="#ff07a0"/><stop offset="0.647" stop-color="#ff009f"/><stop offset="0.802" stop-color="#ff0082"/><stop offset="1.000" stop-color="#ff006d"/></linearGradient>
<linearGradient id="r159" gradientUnits="userSpaceOnUse" x1="974" x2="1367" y1="0" y2="0"><stop offset="0.000" stop-color="#00d3ff"/><stop offset="0.130" stop-color="#00bfff"/><stop offset="0.204" stop-color="#00a8ff"/><stop offset="0.221" stop-color="#00a0ff"/><stop offset="0.226" stop-color="#009dff"/><stop offset="0.229" stop-color="#009cff"/><stop offset="0.232" stop-color="#159bff"/><stop offset="0.237" stop-color="#269bff"/><stop offset="0.252" stop-color="#4599ff"/><stop offset="0.277" stop-color="#6795ff"/><stop offset="0.338" stop-color="#a38cff"/><stop offset="0.422" stop-color="#e57cff"/><stop offset="0.453" stop-color="#fc75ff"/><stop offset="0.483" stop-color="#ff65ed"/><stop offset="0.550" stop-color="#ff44c9"/><stop offset="0.606" stop-color="#ff27b2"/><stop offset="0.626" stop-color="#ff19aa"/><stop offset="0.639" stop-color="#ff0ca6"/><stop offset="0.644" stop-color="#ff00a4"/><stop offset="0.748" stop-color="#ff008e"/><stop offset="0.916" stop-color="#ff0078"/><stop offset="1.000" stop-color="#ff0070"/></linearGradient>
<linearGradient id="r160" gradientUnits="userSpaceOnUse" x1="974" x2="1361" y1="0" y2="0"><stop offset="0.000" stop-color="#00d2ff"/><stop offset="0.129" stop-color="#00bdff"/><stop offset="0.204" stop-color="#00a6ff"/><stop offset="0.222" stop-color="#009dff"/><stop offset="0.227" stop-color="#009bff"/><stop offset="0.230" stop-color="#0099ff"/><stop offset="0.233" stop-color="#1298ff"/><stop offset="0.238" stop-color="#2498ff"/><stop offset="0.248" stop-color="#3b96ff"/><stop offset="0.274" stop-color="#6093ff"/><stop offset="0.315" stop-color="#8a8dff"/><stop offset="0.403" stop-color="#d27dff"/><stop offset="0.455" stop-color="#f872ff"/><stop offset="0.468" stop-color="#ff6dfd"/><stop offset="0.512" stop-color="#ff56e1"/><stop offset="0.607" stop-color="#ff24b5"/><stop offset="0.628" stop-color="#ff15ae"/><stop offset="0.636" stop-color="#ff0cab"/><stop offset="0.641" stop-color="#ff00a9"/><stop offset="0.744" stop-color="#ff0092"/><stop offset="0.915" stop-color="#ff007b"/><stop offset="1.000" stop-color="#ff0073"/></linearGradient>
<linearGradient id="r161" gradientUnits="userSpaceOnUse" x1="975" x2="1356" y1="0" y2="0"><stop offset="0.000" stop-color="#00d0ff"/><stop offset="0.129" stop-color="#00bbff"/><stop offset="0.202" stop-color="#00a4ff"/><stop offset="0.220" stop-color="#009bff"/><stop offset="0.226" stop-color="#0098ff"/><stop offset="0.228" stop-color="#0096ff"/><stop offset="0.234" stop-color="#1a95ff"/><stop offset="0.244" stop-color="#3494ff"/><stop offset="0.260" stop-color="#4e92ff"/><stop offset="0.302" stop-color="#7d8cff"/><stop offset="0.360" stop-color="#af82ff"/><stop offset="0.444" stop-color="#ed71ff"/><stop offset="0.465" stop-color="#fc6bff"/><stop offset="0.475" stop-color="#ff67fb"/><stop offset="0.541" stop-color="#ff45d5"/><stop offset="0.598" stop-color="#ff26bc"/><stop offset="0.619" stop-color="#ff17b4"/><stop offset="0.633" stop-color="#ff07af"/><stop offset="0.635" stop-color="#ff00ae"/><stop offset="0.740" stop-color="#ff0096"/><stop offset="0.913" stop-color="#ff007e"/><stop offset="1.000" stop-color="#ff0075"/></linearGradient>
<linearGradient id="r162" gradientUnits="userSpaceOnUse" x1="976" x2="1350" y1="0" y2="0"><stop offset="0.000" stop-color="#00ceff"/><stop offset="0.128" stop-color="#00b8ff"/><stop offset="0.203" stop-color="#00a0ff"/><stop offset="0.219" stop-color="#0098ff"/><stop offset="0.225" stop-color="#0095ff"/><stop offset="0.227" stop-color="#0094ff"/><stop offset="0.233" stop-color="#1892ff"/><stop offset="0.243" stop-color="#3391ff"/><stop offset="0.270" stop-color="#5a8dff"/><stop offset="0.310" stop-color="#8387ff"/><stop offset="0.398" stop-color="#c978ff"/><stop offset="0.476" stop-color="#ff65ff"/><stop offset="0.543" stop-color="#ff42d8"/><stop offset="0.602" stop-color="#ff22bf"/><stop offset="0.623" stop-color="#ff0fb6"/><stop offset="0.631" stop-color="#ff00b4"/><stop offset="0.738" stop-color="#ff009a"/><stop offset="0.912" stop-color="#ff0081"/><stop offset="1.000" stop-color="#ff0078"/></linearGradient>
<linearGradient id="r163" gradientUnits="userSpaceOnUse" x1="977" x2="1344" y1="0" y2="0"><stop offset="0.000" stop-color="#00ccff"/><stop offset="0.087" stop-color="#00bfff"/><stop offset="0.163" stop-color="#00acff"/><stop offset="0.210" stop-color="#009aff"/><stop offset="0.226" stop-color="#0091ff"/><stop offset="0.229" stop-color="#0290ff"/><stop offset="0.232" stop-color="#1590ff"/><stop offset="0.237" stop-color="#268fff"/><stop offset="0.253" stop-color="#448dff"/><stop offset="0.294" stop-color="#7387ff"/><stop offset="0.354" stop-color="#a57dff"/><stop offset="0.480" stop-color="#fd61ff"/><stop offset="0.580" stop-color="#ff2ccb"/><stop offset="0.616" stop-color="#ff13bd"/><stop offset="0.624" stop-color="#ff07ba"/><stop offset="0.627" stop-color="#ff00b9"/><stop offset="0.736" stop-color="#ff009f"/><stop offset="0.850" stop-color="#ff008c"/><stop offset="1.000" stop-color="#ff007b"/></linearGradient>
<linearGradient id="r164" gradientUnits="userSpaceOnUse" x1="978" x2="1338" y1="0" y2="0"><stop offset="0.000" stop-color="#00caff"/><stop offset="0.128" stop-color="#00b4ff"/><stop offset="0.200" stop-color="#009cff"/><stop offset="0.228" stop-color="#008dff"/><stop offset="0.231" stop-color="#138dff"/><stop offset="0.236" stop-color="#248cff"/><stop offset="0.253" stop-color="#428aff"/><stop offset="0.278" stop-color="#6186ff"/><stop offset="0.339" stop-color="#977dff"/><stop offset="0.422" stop-color="#d36cff"/><stop offset="0.469" stop-color="#f260ff"/><stop offset="0.486" stop-color="#fd5bff"/><stop offset="0.586" stop-color="#ff26cd"/><stop offset="0.608" stop-color="#ff16c4"/><stop offset="0.617" stop-color="#ff0cc1"/><stop offset="0.622" stop-color="#ff00bf"/><stop offset="0.733" stop-color="#ff00a3"/><stop offset="0.911" stop-color="#ff0088"/><stop offset="1.000" stop-color="#ff007e"/></linearGradient>
<linearGradient id="r165" gradientUnits="userSpaceOnUse" x1="978" x2="1332" y1="0" y2="0"><stop offset="0.000" stop-color="#00c8ff"/><stop offset="0.130" stop-color="#00b1ff"/><stop offset="0.203" stop-color="#0098ff"/><stop offset="0.220" stop-color="#0090ff"/><stop offset="0.226" stop-color="#008cff"/><stop offset="0.229" stop-color="#008bff"/><stop offset="0.234" stop-color="#1a89ff"/><stop offset="0.246" stop-color="#3488ff"/><stop offset="0.271" stop-color="#5684ff"/><stop offset="0.311" stop-color="#7d7eff"/><stop offset="0.401" stop-color="#c06eff"/><stop offset="0.477" stop-color="#f25bff"/><stop offset="0.494" stop-color="#fd56ff"/><stop offset="0.590" stop-color="#ff21d0"/><stop offset="0.613" stop-color="#ff0cc7"/><stop offset="0.619" stop-color="#ff00c5"/><stop offset="0.732" stop-color="#ff00a7"/><stop offset="0.910" stop-color="#ff008b"/><stop offset="1.000" stop-color="#ff0081"/></linearGradient>
<linearGradient id="r166" gradientUnits="userSpaceOnUse" x1="979" x2="1326" y1="0" y2="0"><stop offset="0.000" stop-color="#00c6ff"/><stop offset="0.130" stop-color="#00afff"/><stop offset="0.205" stop-color="#0095ff"/><stop offset="0.222" stop-color="#008cff"/><stop offset="0.228" stop-color="#0088ff"/><stop offset="0.233" stop-color="#1887ff"/><stop offset="0.245" stop-color="#3285ff"/><stop offset="0.271" stop-color="#5581ff"/><stop offset="0.311" stop-color="#7c7bff"/><stop offset="0.398" stop-color="#bb6bff"/><stop offset="0.473" stop-color="#eb59ff"/><stop offset="0.501" stop-color="#fc50ff"/><stop offset="0.527" stop-color="#ff43f2"/><stop offset="0.588" stop-color="#ff20d5"/><stop offset="0.602" stop-color="#ff13cf"/><stop offset="0.614" stop-color="#ff00cb"/><stop offset="0.726" stop-color="#ff00ac"/><stop offset="0.847" stop-color="#ff0097"/><stop offset="1.000" stop-color="#ff0084"/></linearGradient>
<linearGradient id="r167" gradientUnits="userSpaceOnUse" x1="980" x2="1320" y1="0" y2="0"><stop offset="0.000" stop-color="#00c4ff"/><stop offset="0.085" stop-color="#00b6ff"/><stop offset="0.162" stop-color="#00a3ff"/><stop offset="0.209" stop-color="#008fff"/><stop offset="0.226" stop-color="#0086ff"/><stop offset="0.229" stop-color="#0684ff"/><stop offset="0.232" stop-color="#1684ff"/><stop offset="0.244" stop-color="#3182ff"/><stop offset="0.271" stop-color="#547fff"/><stop offset="0.312" stop-color="#7a78ff"/><stop offset="0.400" stop-color="#ba68ff"/><stop offset="0.476" stop-color="#e955ff"/><stop offset="0.518" stop-color="#ff46fd"/><stop offset="0.579" stop-color="#ff22dd"/><stop offset="0.594" stop-color="#ff17d7"/><stop offset="0.606" stop-color="#ff06d2"/><stop offset="0.609" stop-color="#ff00d1"/><stop offset="0.721" stop-color="#ff00b1"/><stop offset="0.906" stop-color="#ff0092"/><stop offset="1.000" stop-color="#ff0087"/></linearGradient>
<linearGradient id="r168" gradientUnits="userSpaceOnUse" x1="981" x2="1314" y1="0" y2="0"><stop offset="0.000" stop-color="#00c2ff"/><stop offset="0.129" stop-color="#00aaff"/><stop offset="0.201" stop-color="#0090ff"/><stop offset="0.228" stop-color="#0082ff"/><stop offset="0.231" stop-color="#1381ff"/><stop offset="0.237" stop-color="#2480ff"/><stop offset="0.255" stop-color="#417eff"/><stop offset="0.297" stop-color="#6d77ff"/><stop offset="0.357" stop-color="#9a6dff"/><stop offset="0.480" stop-color="#e750ff"/><stop offset="0.523" stop-color="#ff41fe"/><stop offset="0.583" stop-color="#ff1ce0"/><stop offset="0.595" stop-color="#ff11db"/><stop offset="0.601" stop-color="#ff06d9"/><stop offset="0.604" stop-color="#ff00d7"/><stop offset="0.718" stop-color="#ff00b6"/><stop offset="0.841" stop-color="#ff009f"/><stop offset="1.000" stop-color="#ff008b"/></linearGradient>
<linearGradient id="r169" gradientUnits="userSpaceOnUse" x1="982" x2="1308" y1="0" y2="0"><stop offset="0.000" stop-color="#00c0ff"/><stop offset="0.129" stop-color="#00a7ff"/><stop offset="0.202" stop-color="#008cff"/><stop offset="0.221" stop-color="#0083ff"/><stop offset="0.227" stop-color="#007fff"/><stop offset="0.233" stop-color="#1b7eff"/><stop offset="0.252" stop-color="#3c7bff"/><stop offset="0.279" stop-color="#5b77ff"/><stop offset="0.340" stop-color="#8d6dff"/><stop offset="0.469" stop-color="#dd50ff"/><stop offset="0.512" stop-color="#f542ff"/><stop offset="0.528" stop-color="#fe3cff"/><stop offset="0.567" stop-color="#ff24ec"/><stop offset="0.592" stop-color="#ff0de1"/><stop offset="0.598" stop-color="#ff00de"/><stop offset="0.675" stop-color="#ff00c5"/><stop offset="0.816" stop-color="#ff00a6"/><stop offset="1.000" stop-color="#ff008e"/></linearGradient>
<linearGradient id="r170" gradientUnits="userSpaceOnUse" x1="983" x2="1302" y1="0" y2="0"><stop offset="0.000" stop-color="#00beff"/><stop offset="0.085" stop-color="#00afff"/><stop offset="0.163" stop-color="#009aff"/><stop offset="0.207" stop-color="#0087ff"/><stop offset="0.226" stop-color="#007dff"/><stop offset="0.232" stop-color="#187bff"/><stop offset="0.245" stop-color="#3279ff"/><stop offset="0.270" stop-color="#5176ff"/><stop offset="0.332" stop-color="#856bff"/><stop offset="0.417" stop-color="#bb5aff"/><stop offset="0.492" stop-color="#e545ff"/><stop offset="0.536" stop-color="#fd34ff"/><stop offset="0.574" stop-color="#ff1bee"/><stop offset="0.586" stop-color="#ff0de8"/><stop offset="0.592" stop-color="#ff00e5"/><stop offset="0.712" stop-color="#ff00bf"/><stop offset="0.837" stop-color="#ff00a7"/><stop offset="1.000" stop-color="#ff0091"/></linearGradient>
<linearGradient id="r171" gradientUnits="userSpaceOnUse" x1="984" x2="1296" y1="0" y2="0"><stop offset="0.000" stop-color="#00bbff"/><stop offset="0.083" stop-color="#00adff"/><stop offset="0.160" stop-color="#0098ff"/><stop offset="0.205" stop-color="#0085ff"/><stop offset="0.224" stop-color="#007aff"/><stop offset="0.234" stop-color="#1f78ff"/><stop offset="0.250" stop-color="#3975ff"/><stop offset="0.276" stop-color="#5672ff"/><stop offset="0.337" stop-color="#8668ff"/><stop offset="0.420" stop-color="#b956ff"/><stop offset="0.494" stop-color="#e241ff"/><stop offset="0.535" stop-color="#f830ff"/><stop offset="0.551" stop-color="#ff27fd"/><stop offset="0.577" stop-color="#ff11f1"/><stop offset="0.583" stop-color="#ff06ee"/><stop offset="0.587" stop-color="#ff00ed"/><stop offset="0.667" stop-color="#ff00d0"/><stop offset="0.763" stop-color="#ff00b8"/><stop offset="0.920" stop-color="#ff009e"/><stop offset="1.000" stop-color="#ff0094"/></linearGradient>
<linearGradient id="r172" gradientUnits="userSpaceOnUse" x1="985" x2="1290" y1="0" y2="0"><stop offset="0.000" stop-color="#00b9ff"/><stop offset="0.085" stop-color="#00aaff"/><stop offset="0.164" stop-color="#0093ff"/><stop offset="0.210" stop-color="#007fff"/><stop offset="0.226" stop-color="#0076ff"/><stop offset="0.230" stop-color="#1475ff"/><stop offset="0.239" stop-color="#2a74ff"/><stop offset="0.266" stop-color="#4b70ff"/><stop offset="0.305" stop-color="#6d6aff"/><stop offset="0.364" stop-color="#955fff"/><stop offset="0.446" stop-color="#c54cff"/><stop offset="0.515" stop-color="#e935ff"/><stop offset="0.554" stop-color="#fd21ff"/><stop offset="0.567" stop-color="#ff15fa"/><stop offset="0.580" stop-color="#ff00f4"/><stop offset="0.659" stop-color="#ff00d7"/><stop offset="0.757" stop-color="#ff00bd"/><stop offset="0.918" stop-color="#ff00a2"/><stop offset="1.000" stop-color="#ff0098"/></linearGradient>
<linearGradient id="r173" gradientUnits="userSpaceOnUse" x1="986" x2="1284" y1="0" y2="0"><stop offset="0.000" stop-color="#00b7ff"/><stop offset="0.084" stop-color="#00a7ff"/><stop offset="0.161" stop-color="#0091ff"/><stop offset="0.208" stop-color="#007dff"/><stop offset="0.225" stop-color="#0073ff"/><stop offset="0.228" stop-color="#1172ff"/><stop offset="0.238" stop-color="#2871ff"/><stop offset="0.265" stop-color="#4a6dff"/><stop offset="0.305" stop-color="#6c67ff"/><stop offset="0.393" stop-color="#a456ff"/><stop offset="0.470" stop-color="#ce42ff"/><stop offset="0.537" stop-color="#f027ff"/><stop offset="0.560" stop-color="#fb16ff"/><stop offset="0.574" stop-color="#ff00fc"/><stop offset="0.654" stop-color="#ff00dd"/><stop offset="0.755" stop-color="#ff00c2"/><stop offset="0.916" stop-color="#ff00a6"/><stop offset="1.000" stop-color="#ff009b"/></linearGradient>
<linearGradient id="r174" gradientUnits="userSpaceOnUse" x1="987" x2="1278" y1="0" y2="0"><stop offset="0.000" stop-color="#00b4ff"/><stop offset="0.086" stop-color="#00a4ff"/><stop offset="0.162" stop-color="#008eff"/><stop offset="0.210" stop-color="#0079ff"/><stop offset="0.220" stop-color="#0073ff"/><stop offset="0.223" stop-color="#0071ff"/><stop offset="0.230" stop-color="#196fff"/><stop offset="0.247" stop-color="#366cff"/><stop offset="0.289" stop-color="#5e66ff"/><stop offset="0.347" stop-color="#875cff"/><stop offset="0.474" stop-color="#cc3dff"/><stop offset="0.519" stop-color="#e22bff"/><stop offset="0.546" stop-color="#ef1bff"/><stop offset="0.560" stop-color="#f60dff"/><stop offset="0.567" stop-color="#f900ff"/><stop offset="0.588" stop-color="#ff00fb"/><stop offset="0.667" stop-color="#ff00dd"/><stop offset="0.763" stop-color="#ff00c4"/><stop offset="0.921" stop-color="#ff00a9"/><stop offset="1.000" stop-color="#ff009f"/></linearGradient>
<linearGradient id="r175" gradientUnits="userSpaceOnUse" x1="988" x2="1272" y1="0" y2="0"><stop offset="0.000" stop-color="#00b2ff"/><stop offset="0.085" stop-color="#00a2ff"/><stop offset="0.162" stop-color="#008bff"/><stop offset="0.208" stop-color="#0076ff"/><stop offset="0.218" stop-color="#0070ff"/><stop offset="0.222" stop-color="#006eff"/><stop offset="0.232" stop-color="#1f6bff"/><stop offset="0.250" stop-color="#3969ff"/><stop offset="0.292" stop-color="#6062ff"/><stop offset="0.384" stop-color="#9a51ff"/><stop offset="0.461" stop-color="#c23dff"/><stop offset="0.507" stop-color="#d82cff"/><stop offset="0.535" stop-color="#e51dff"/><stop offset="0.549" stop-color="#ec11ff"/><stop offset="0.556" stop-color="#ef06ff"/><stop offset="0.560" stop-color="#f100ff"/><stop offset="0.595" stop-color="#ff00fd"/><stop offset="0.673" stop-color="#ff00e0"/><stop offset="0.768" stop-color="#ff00c8"/><stop offset="0.923" stop-color="#ff00ac"/><stop offset="1.000" stop-color="#ff00a2"/></linearGradient>
<linearGradient id="r176" gradientUnits="userSpaceOnUse" x1="989" x2="1266" y1="0" y2="0"><stop offset="0.000" stop-color="#00afff"/><stop offset="0.087" stop-color="#009fff"/><stop offset="0.162" stop-color="#0088ff"/><stop offset="0.209" stop-color="#0072ff"/><stop offset="0.220" stop-color="#006cff"/><stop offset="0.224" stop-color="#0069ff"/><stop offset="0.227" stop-color="#1469ff"/><stop offset="0.238" stop-color="#2967ff"/><stop offset="0.267" stop-color="#4a63ff"/><stop offset="0.329" stop-color="#7759ff"/><stop offset="0.415" stop-color="#a847ff"/><stop offset="0.491" stop-color="#cd2fff"/><stop offset="0.534" stop-color="#e118ff"/><stop offset="0.542" stop-color="#e411ff"/><stop offset="0.549" stop-color="#e705ff"/><stop offset="0.556" stop-color="#ea00ff"/><stop offset="0.592" stop-color="#fb00ff"/><stop offset="0.614" stop-color="#ff00fa"/><stop offset="0.726" stop-color="#ff00d6"/><stop offset="0.845" stop-color="#ff00bd"/><stop offset="1.000" stop-color="#ff00a6"/></linearGradient>
<linearGradient id="r177" gradientUnits="userSpaceOnUse" x1="990" x2="1260" y1="0" y2="0"><stop offset="0.000" stop-color="#00adff"/><stop offset="0.085" stop-color="#009cff"/><stop offset="0.163" stop-color="#0084ff"/><stop offset="0.207" stop-color="#0070ff"/><stop offset="0.219" stop-color="#0069ff"/><stop offset="0.222" stop-color="#0067ff"/><stop offset="0.226" stop-color="#1166ff"/><stop offset="0.233" stop-color="#2265ff"/><stop offset="0.259" stop-color="#4261ff"/><stop offset="0.319" stop-color="#6f57ff"/><stop offset="0.452" stop-color="#b739ff"/><stop offset="0.519" stop-color="#d51dff"/><stop offset="0.533" stop-color="#dc11ff"/><stop offset="0.541" stop-color="#df05ff"/><stop offset="0.548" stop-color="#e200ff"/><stop offset="0.607" stop-color="#fc00ff"/><stop offset="0.637" stop-color="#ff00f6"/><stop offset="0.741" stop-color="#ff00d7"/><stop offset="0.852" stop-color="#ff00c0"/><stop offset="1.000" stop-color="#ff00aa"/></linearGradient>
<linearGradient id="r178" gradientUnits="userSpaceOnUse" x1="991" x2="1254" y1="0" y2="0"><stop offset="0.000" stop-color="#00aaff"/><stop offset="0.084" stop-color="#0099ff"/><stop offset="0.160" stop-color="#0082ff"/><stop offset="0.205" stop-color="#006eff"/><stop offset="0.221" stop-color="#0064ff"/><stop offset="0.228" stop-color="#1962ff"/><stop offset="0.243" stop-color="#3160ff"/><stop offset="0.281" stop-color="#545aff"/><stop offset="0.342" stop-color="#7c50ff"/><stop offset="0.426" stop-color="#a73cff"/><stop offset="0.498" stop-color="#c823ff"/><stop offset="0.521" stop-color="#d214ff"/><stop offset="0.536" stop-color="#d900ff"/><stop offset="0.627" stop-color="#ff00ff"/><stop offset="0.734" stop-color="#ff00dd"/><stop offset="0.909" stop-color="#ff00ba"/><stop offset="1.000" stop-color="#ff00ad"/></linearGradient>
<linearGradient id="r179" gradientUnits="userSpaceOnUse" x1="992" x2="1248" y1="0" y2="0"><stop offset="0.000" stop-color="#00a8ff"/><stop offset="0.129" stop-color="#008aff"/><stop offset="0.199" stop-color="#006dff"/><stop offset="0.215" stop-color="#0064ff"/><stop offset="0.219" stop-color="#0062ff"/><stop offset="0.227" stop-color="#175fff"/><stop offset="0.242" stop-color="#2f5dff"/><stop offset="0.266" stop-color="#475aff"/><stop offset="0.328" stop-color="#724fff"/><stop offset="0.414" stop-color="#9e3cff"/><stop offset="0.488" stop-color="#c022ff"/><stop offset="0.512" stop-color="#ca14ff"/><stop offset="0.527" stop-color="#d100ff"/><stop offset="0.617" stop-color="#f600ff"/><stop offset="0.648" stop-color="#ff00fc"/><stop offset="0.750" stop-color="#ff00de"/><stop offset="0.859" stop-color="#ff00c7"/><stop offset="1.000" stop-color="#ff00b1"/></linearGradient>
<linearGradient id="r180" gradientUnits="userSpaceOnUse" x1="993" x2="1242" y1="0" y2="0"><stop offset="0.000" stop-color="#00a5ff"/><stop offset="0.129" stop-color="#0087ff"/><stop offset="0.201" stop-color="#0069ff"/><stop offset="0.217" stop-color="#005fff"/><stop offset="0.221" stop-color="#055dff"/><stop offset="0.225" stop-color="#145cff"/><stop offset="0.241" stop-color="#2e5aff"/><stop offset="0.281" stop-color="#5254ff"/><stop offset="0.337" stop-color="#754aff"/><stop offset="0.422" stop-color="#9f36ff"/><stop offset="0.470" stop-color="#b425ff"/><stop offset="0.494" stop-color="#bf19ff"/><stop offset="0.510" stop-color="#c50cff"/><stop offset="0.518" stop-color="#c900ff"/><stop offset="0.659" stop-color="#ff00fe"/><stop offset="0.755" stop-color="#ff00e2"/><stop offset="0.859" stop-color="#ff00cb"/><stop offset="1.000" stop-color="#ff00b5"/></linearGradient>
<linearGradient id="r181" gradientUnits="userSpaceOnUse" x1="994" x2="1236" y1="0" y2="0"><stop offset="0.000" stop-color="#00a2ff"/><stop offset="0.083" stop-color="#0091ff"/><stop offset="0.157" stop-color="#0079ff"/><stop offset="0.202" stop-color="#0064ff"/><stop offset="0.219" stop-color="#005aff"/><stop offset="0.223" stop-color="#1259ff"/><stop offset="0.240" stop-color="#2d57ff"/><stop offset="0.281" stop-color="#5150ff"/><stop offset="0.339" stop-color="#7446ff"/><stop offset="0.421" stop-color="#9c32ff"/><stop offset="0.471" stop-color="#b11fff"/><stop offset="0.496" stop-color="#bc10ff"/><stop offset="0.504" stop-color="#bf04ff"/><stop offset="0.512" stop-color="#c200ff"/><stop offset="0.653" stop-color="#f900ff"/><stop offset="0.678" stop-color="#ff00fd"/><stop offset="0.769" stop-color="#ff00e3"/><stop offset="0.921" stop-color="#ff00c5"/><stop offset="1.000" stop-color="#ff00ba"/></linearGradient>
<linearGradient id="r182" gradientUnits="userSpaceOnUse" x1="995" x2="1230" y1="0" y2="0"><stop offset="0.000" stop-color="#009fff"/><stop offset="0.085" stop-color="#008dff"/><stop offset="0.162" stop-color="#0074ff"/><stop offset="0.204" stop-color="#005fff"/><stop offset="0.213" stop-color="#005aff"/><stop offset="0.217" stop-color="#0058ff"/><stop offset="0.226" stop-color="#1955ff"/><stop offset="0.243" stop-color="#3053ff"/><stop offset="0.281" stop-color="#504dff"/><stop offset="0.340" stop-color="#7342ff"/><stop offset="0.426" stop-color="#9b2cff"/><stop offset="0.472" stop-color="#ae19ff"/><stop offset="0.489" stop-color="#b50bff"/><stop offset="0.498" stop-color="#b900ff"/><stop offset="0.643" stop-color="#f000ff"/><stop offset="0.685" stop-color="#fe00ff"/><stop offset="0.821" stop-color="#ff00dc"/><stop offset="1.000" stop-color="#ff00be"/></linearGradient>
<linearGradient id="r183" gradientUnits="userSpaceOnUse" x1="996" x2="1225" y1="0" y2="0"><stop offset="0.000" stop-color="#009cff"/><stop offset="0.127" stop-color="#007dff"/><stop offset="0.197" stop-color="#005fff"/><stop offset="0.214" stop-color="#0055ff"/><stop offset="0.223" stop-color="#1752ff"/><stop offset="0.240" stop-color="#2f50ff"/><stop offset="0.279" stop-color="#4f49ff"/><stop offset="0.371" stop-color="#8136ff"/><stop offset="0.450" stop-color="#a31dff"/><stop offset="0.476" stop-color="#ad0bff"/><stop offset="0.485" stop-color="#b100ff"/><stop offset="0.633" stop-color="#e900ff"/><stop offset="0.703" stop-color="#ff00ff"/><stop offset="0.834" stop-color="#ff00de"/><stop offset="1.000" stop-color="#ff00c2"/></linearGradient>
<linearGradient id="r184" gradientUnits="userSpaceOnUse" x1="997" x2="1219" y1="0" y2="0"><stop offset="0.000" stop-color="#0099ff"/><stop offset="0.081" stop-color="#0087ff"/><stop offset="0.158" stop-color="#006eff"/><stop offset="0.203" stop-color="#0058ff"/><stop offset="0.212" stop-color="#0052ff"/><stop offset="0.216" stop-color="#0750ff"/><stop offset="0.221" stop-color="#154fff"/><stop offset="0.239" stop-color="#2e4cff"/><stop offset="0.279" stop-color="#4e45ff"/><stop offset="0.369" stop-color="#7e33ff"/><stop offset="0.423" stop-color="#9522ff"/><stop offset="0.450" stop-color="#a015ff"/><stop offset="0.459" stop-color="#a30fff"/><stop offset="0.468" stop-color="#a703ff"/><stop offset="0.495" stop-color="#b200ff"/><stop offset="0.640" stop-color="#e600ff"/><stop offset="0.707" stop-color="#fb00ff"/><stop offset="0.730" stop-color="#ff00fc"/><stop offset="0.910" stop-color="#ff00d4"/><stop offset="1.000" stop-color="#ff00c6"/></linearGradient>
<linearGradient id="r185" gradientUnits="userSpaceOnUse" x1="998" x2="1213" y1="0" y2="0"><stop offset="0.000" stop-color="#0096ff"/><stop offset="0.084" stop-color="#0083ff"/><stop offset="0.158" stop-color="#006aff"/><stop offset="0.205" stop-color="#0053ff"/><stop offset="0.214" stop-color="#004cff"/><stop offset="0.219" stop-color="#124cff"/><stop offset="0.228" stop-color="#224aff"/><stop offset="0.256" stop-color="#3d46ff"/><stop offset="0.316" stop-color="#623bff"/><stop offset="0.400" stop-color="#8925ff"/><stop offset="0.447" stop-color="#9b0fff"/><stop offset="0.456" stop-color="#9f02ff"/><stop offset="0.614" stop-color="#d900ff"/><stop offset="0.726" stop-color="#fb00ff"/><stop offset="0.758" stop-color="#ff00fa"/><stop offset="0.916" stop-color="#ff00d8"/><stop offset="1.000" stop-color="#ff00cb"/></linearGradient>
<linearGradient id="r186" gradientUnits="userSpaceOnUse" x1="999" x2="1207" y1="0" y2="0"><stop offset="0.000" stop-color="#0093ff"/><stop offset="0.125" stop-color="#0073ff"/><stop offset="0.197" stop-color="#0053ff"/><stop offset="0.207" stop-color="#004dff"/><stop offset="0.212" stop-color="#004aff"/><stop offset="0.216" stop-color="#1048ff"/><stop offset="0.236" stop-color="#2b45ff"/><stop offset="0.274" stop-color="#493fff"/><stop offset="0.365" stop-color="#782aff"/><stop offset="0.413" stop-color="#8b1aff"/><stop offset="0.433" stop-color="#930fff"/><stop offset="0.442" stop-color="#9602ff"/><stop offset="0.548" stop-color="#bf00ff"/><stop offset="0.745" stop-color="#fb00ff"/><stop offset="0.774" stop-color="#ff00fb"/><stop offset="0.923" stop-color="#ff00dc"/><stop offset="1.000" stop-color="#ff00d0"/></linearGradient>
<linearGradient id="r187" gradientUnits="userSpaceOnUse" x1="1000" x2="1201" y1="0" y2="0"><stop offset="0.000" stop-color="#008fff"/><stop offset="0.085" stop-color="#007cff"/><stop offset="0.164" stop-color="#0060ff"/><stop offset="0.209" stop-color="#0047ff"/><stop offset="0.219" stop-color="#1744ff"/><stop offset="0.244" stop-color="#3340ff"/><stop offset="0.303" stop-color="#5935ff"/><stop offset="0.393" stop-color="#811cff"/><stop offset="0.423" stop-color="#8c0aff"/><stop offset="0.428" stop-color="#8e02ff"/><stop offset="0.537" stop-color="#b800ff"/><stop offset="0.741" stop-color="#f500ff"/><stop offset="0.786" stop-color="#ff00fe"/><stop offset="0.925" stop-color="#ff00e1"/><stop offset="1.000" stop-color="#ff00d5"/></linearGradient>
<linearGradient id="r188" gradientUnits="userSpaceOnUse" x1="1001" x2="1195" y1="0" y2="0"><stop offset="0.000" stop-color="#008cff"/><stop offset="0.082" stop-color="#0078ff"/><stop offset="0.155" stop-color="#0060ff"/><stop offset="0.201" stop-color="#0047ff"/><stop offset="0.206" stop-color="#0044ff"/><stop offset="0.222" stop-color="#1d3fff"/><stop offset="0.247" stop-color="#363bff"/><stop offset="0.309" stop-color="#5a2fff"/><stop offset="0.366" stop-color="#731fff"/><stop offset="0.397" stop-color="#8012ff"/><stop offset="0.407" stop-color="#840aff"/><stop offset="0.412" stop-color="#8501ff"/><stop offset="0.526" stop-color="#b100ff"/><stop offset="0.732" stop-color="#ed00ff"/><stop offset="0.804" stop-color="#ff00ff"/><stop offset="1.000" stop-color="#ff00da"/></linearGradient>
<linearGradient id="r189" gradientUnits="userSpaceOnUse" x1="1002" x2="1189" y1="0" y2="0"><stop offset="0.000" stop-color="#0088ff"/><stop offset="0.086" stop-color="#0074ff"/><stop offset="0.160" stop-color="#0059ff"/><stop offset="0.203" stop-color="#0041ff"/><stop offset="0.209" stop-color="#003dff"/><stop offset="0.214" stop-color="#133cff"/><stop offset="0.230" stop-color="#2739ff"/><stop offset="0.273" stop-color="#4632ff"/><stop offset="0.364" stop-color="#7019ff"/><stop offset="0.385" stop-color="#790eff"/><stop offset="0.390" stop-color="#7b0aff"/><stop offset="0.396" stop-color="#7d00ff"/><stop offset="0.513" stop-color="#a900ff"/><stop offset="0.652" stop-color="#d300ff"/><stop offset="0.802" stop-color="#f800ff"/><stop offset="0.834" stop-color="#ff00fe"/><stop offset="1.000" stop-color="#ff00df"/></linearGradient>
<linearGradient id="r190" gradientUnits="userSpaceOnUse" x1="1004" x2="1183" y1="0" y2="0"><stop offset="0.000" stop-color="#0083ff"/><stop offset="0.123" stop-color="#0062ff"/><stop offset="0.168" stop-color="#004eff"/><stop offset="0.196" stop-color="#003eff"/><stop offset="0.201" stop-color="#003aff"/><stop offset="0.207" stop-color="#1038ff"/><stop offset="0.223" stop-color="#2635ff"/><stop offset="0.263" stop-color="#422eff"/><stop offset="0.318" stop-color="#5d20ff"/><stop offset="0.352" stop-color="#6b14ff"/><stop offset="0.363" stop-color="#6f0eff"/><stop offset="0.369" stop-color="#710aff"/><stop offset="0.374" stop-color="#7400ff"/><stop offset="0.492" stop-color="#a000ff"/><stop offset="0.637" stop-color="#cb00ff"/><stop offset="0.793" stop-color="#f100ff"/><stop offset="0.849" stop-color="#fd00ff"/><stop offset="1.000" stop-color="#ff00e5"/></linearGradient>
<linearGradient id="r191" gradientUnits="userSpaceOnUse" x1="1005" x2="1177" y1="0" y2="0"><stop offset="0.000" stop-color="#007fff"/><stop offset="0.081" stop-color="#006bff"/><stop offset="0.157" stop-color="#004fff"/><stop offset="0.186" stop-color="#003fff"/><stop offset="0.198" stop-color="#0036ff"/><stop offset="0.209" stop-color="#1733ff"/><stop offset="0.233" stop-color="#2e2fff"/><stop offset="0.291" stop-color="#4f22ff"/><stop offset="0.326" stop-color="#5f16ff"/><stop offset="0.349" stop-color="#6809ff"/><stop offset="0.355" stop-color="#6a00ff"/><stop offset="0.436" stop-color="#8b00ff"/><stop offset="0.599" stop-color="#bc00ff"/><stop offset="0.866" stop-color="#fb00ff"/><stop offset="0.901" stop-color="#ff00fc"/><stop offset="1.000" stop-color="#ff00eb"/></linearGradient>
<linearGradient id="r192" gradientUnits="userSpaceOnUse" x1="1006" x2="1171" y1="0" y2="0"><stop offset="0.000" stop-color="#007bff"/><stop offset="0.085" stop-color="#0065ff"/><stop offset="0.158" stop-color="#0049ff"/><stop offset="0.182" stop-color="#003cff"/><stop offset="0.194" stop-color="#0033ff"/><stop offset="0.206" stop-color="#152eff"/><stop offset="0.230" stop-color="#2d29ff"/><stop offset="0.291" stop-color="#4e1aff"/><stop offset="0.327" stop-color="#5e09ff"/><stop offset="0.333" stop-color="#6000ff"/><stop offset="0.418" stop-color="#8200ff"/><stop offset="0.588" stop-color="#b600ff"/><stop offset="0.770" stop-color="#e100ff"/><stop offset="0.921" stop-color="#ff00ff"/><stop offset="1.000" stop-color="#ff00f1"/></linearGradient>
<linearGradient id="r193" gradientUnits="userSpaceOnUse" x1="1007" x2="1165" y1="0" y2="0"><stop offset="0.000" stop-color="#0077ff"/><stop offset="0.082" stop-color="#0062ff"/><stop offset="0.158" stop-color="#0043ff"/><stop offset="0.184" stop-color="#0034ff"/><stop offset="0.196" stop-color="#042aff"/><stop offset="0.203" stop-color="#1329ff"/><stop offset="0.228" stop-color="#2b24ff"/><stop offset="0.291" stop-color="#4e11ff"/><stop offset="0.304" stop-color="#5309ff"/><stop offset="0.310" stop-color="#5500ff"/><stop offset="0.399" stop-color="#7a00ff"/><stop offset="0.576" stop-color="#af00ff"/><stop offset="0.854" stop-color="#ec00ff"/><stop offset="0.949" stop-color="#fe00ff"/><stop offset="1.000" stop-color="#ff00f7"/></linearGradient>
<linearGradient id="r194" gradientUnits="userSpaceOnUse" x1="1009" x2="1159" y1="0" y2="0"><stop offset="0.000" stop-color="#0071ff"/><stop offset="0.080" stop-color="#005bff"/><stop offset="0.127" stop-color="#004aff"/><stop offset="0.167" stop-color="#0035ff"/><stop offset="0.180" stop-color="#002cff"/><stop offset="0.187" stop-color="#0026ff"/><stop offset="0.193" stop-color="#1124ff"/><stop offset="0.220" stop-color="#2a1dff"/><stop offset="0.260" stop-color="#4110ff"/><stop offset="0.273" stop-color="#4709ff"/><stop offset="0.280" stop-color="#4a00ff"/><stop offset="0.373" stop-color="#7200ff"/><stop offset="0.553" stop-color="#a600ff"/><stop offset="0.747" stop-color="#d200ff"/><stop offset="1.000" stop-color="#ff00fe"/></linearGradient>
<linearGradient id="r195" gradientUnits="userSpaceOnUse" x1="1010" x2="1153" y1="0" y2="0"><stop offset="0.000" stop-color="#006cff"/><stop offset="0.084" stop-color="#0055ff"/><stop offset="0.126" stop-color="#0045ff"/><stop offset="0.168" stop-color="#002dff"/><stop offset="0.182" stop-color="#0021ff"/><stop offset="0.196" stop-color="#181bff"/><stop offset="0.238" stop-color="#350dff"/><stop offset="0.252" stop-color="#3d00ff"/><stop offset="0.343" stop-color="#6600ff"/><stop offset="0.469" stop-color="#8d00ff"/><stop offset="0.622" stop-color="#b300ff"/><stop offset="0.874" stop-color="#e400ff"/><stop offset="1.000" stop-color="#f900ff"/></linearGradient>
<linearGradient id="r196" gradientUnits="userSpaceOnUse" x1="1011" x2="1147" y1="0" y2="0"><stop offset="0.000" stop-color="#0067ff"/><stop offset="0.081" stop-color="#0050ff"/><stop offset="0.125" stop-color="#003fff"/><stop offset="0.169" stop-color="#0023ff"/><stop offset="0.176" stop-color="#001cff"/><stop offset="0.191" stop-color="#1613ff"/><stop offset="0.206" stop-color="#230dff"/><stop offset="0.221" stop-color="#2c00ff"/><stop offset="0.257" stop-color="#4300ff"/><stop offset="0.346" stop-color="#6700ff"/><stop offset="0.471" stop-color="#8c00ff"/><stop offset="0.706" stop-color="#c000ff"/><stop offset="1.000" stop-color="#f200ff"/></linearGradient>
<linearGradient id="r197" gradientUnits="userSpaceOnUse" x1="1013" x2="1141" y1="0" y2="0"><stop offset="0.000" stop-color="#0060ff"/><stop offset="0.078" stop-color="#0049ff"/><stop offset="0.125" stop-color="#0034ff"/><stop offset="0.156" stop-color="#001eff"/><stop offset="0.164" stop-color="#0016ff"/><stop offset="0.172" stop-color="#0608ff"/><stop offset="0.180" stop-color="#1400ff"/><stop offset="0.203" stop-color="#2a00ff"/><stop offset="0.266" stop-color="#4c00ff"/><stop offset="0.359" stop-color="#6d00ff"/><stop offset="0.547" stop-color="#9c00ff"/><stop offset="0.844" stop-color="#d300ff"/><stop offset="1.000" stop-color="#ec00ff"/></linearGradient>
<linearGradient id="r198" gradientUnits="userSpaceOnUse" x1="1014" x2="1135" y1="0" y2="0"><stop offset="0.000" stop-color="#005aff"/><stop offset="0.083" stop-color="#0040ff"/><stop offset="0.132" stop-color="#0027ff"/><stop offset="0.149" stop-color="#0019ff"/><stop offset="0.157" stop-color="#000dff"/><stop offset="0.165" stop-color="#1000ff"/><stop offset="0.190" stop-color="#2800ff"/><stop offset="0.256" stop-color="#4a00ff"/><stop offset="0.347" stop-color="#6900ff"/><stop offset="0.529" stop-color="#9500ff"/><stop offset="0.736" stop-color="#bc00ff"/><stop offset="1.000" stop-color="#e500ff"/></linearGradient>
<linearGradient id="r199" gradientUnits="userSpaceOnUse" x1="1016" x2="1129" y1="0" y2="0"><stop offset="0.000" stop-color="#0051ff"/><stop offset="0.080" stop-color="#0036ff"/><stop offset="0.124" stop-color="#001bff"/><stop offset="0.133" stop-color="#0011ff"/><stop offset="0.142" stop-color="#0a00ff"/><stop offset="0.159" stop-color="#1f00ff"/><stop offset="0.186" stop-color="#3100ff"/><stop offset="0.248" stop-color="#4c00ff"/><stop offset="0.389" stop-color="#7500ff"/><stop offset="0.655" stop-color="#aa00ff"/><stop offset="1.000" stop-color="#de00ff"/></linearGradient>
<linearGradient id="r200" gradientUnits="userSpaceOnUse" x1="1018" x2="1123" y1="0" y2="0"><stop offset="0.000" stop-color="#0047ff"/><stop offset="0.076" stop-color="#002aff"/><stop offset="0.105" stop-color="#0015ff"/><stop offset="0.114" stop-color="#0005ff"/><stop offset="0.124" stop-color="#1400ff"/><stop offset="0.162" stop-color="#2f00ff"/><stop offset="0.219" stop-color="#4700ff"/><stop offset="0.371" stop-color="#7100ff"/><stop offset="0.552" stop-color="#9500ff"/><stop offset="0.848" stop-color="#c300ff"/><stop offset="1.000" stop-color="#d700ff"/></linearGradient>
<linearGradient id="r201" gradientUnits="userSpaceOnUse" x1="1019" x2="1117" y1="0" y2="0"><stop offset="0.000" stop-color="#003fff"/><stop offset="0.051" stop-color="#002bff"/><stop offset="0.082" stop-color="#0018ff"/><stop offset="0.092" stop-color="#000cff"/><stop offset="0.102" stop-color="#1000ff"/><stop offset="0.122" stop-color="#2100ff"/><stop offset="0.184" stop-color="#3e00ff"/><stop offset="0.286" stop-color="#5c00ff"/><stop offset="0.418" stop-color="#7a00ff"/><stop offset="0.673" stop-color="#a500ff"/><stop offset="1.000" stop-color="#d000ff"/></linearGradient>
<linearGradient id="r202" gradientUnits="userSpaceOnUse" x1="1021" x2="1111" y1="0" y2="0"><stop offset="0.000" stop-color="#0031ff"/><stop offset="0.044" stop-color="#001aff"/><stop offset="0.056" stop-color="#0011ff"/><stop offset="0.067" stop-color="#0a00ff"/><stop offset="0.089" stop-color="#1f00ff"/><stop offset="0.156" stop-color="#3c00ff"/><stop offset="0.256" stop-color="#5800ff"/><stop offset="0.467" stop-color="#8200ff"/><stop offset="0.822" stop-color="#b500ff"/><stop offset="1.000" stop-color="#ca00ff"/></linearGradient>
<linearGradient id="r203" gradientUnits="userSpaceOnUse" x1="1023" x2="1105" y1="0" y2="0"><stop offset="0.000" stop-color="#001dff"/><stop offset="0.012" stop-color="#0014ff"/><stop offset="0.024" stop-color="#0004ff"/><stop offset="0.037" stop-color="#1300ff"/><stop offset="0.085" stop-color="#2e00ff"/><stop offset="0.195" stop-color="#4e00ff"/><stop offset="0.341" stop-color="#6c00ff"/><stop offset="0.634" stop-color="#9900ff"/><stop offset="1.000" stop-color="#c300ff"/></linearGradient>
<linearGradient id="r204" gradientUnits="userSpaceOnUse" x1="1025" x2="1099" y1="0" y2="0"><stop offset="0.000" stop-color="#1900ff"/><stop offset="0.054" stop-color="#3100ff"/><stop offset="0.162" stop-color="#4d00ff"/><stop offset="0.324" stop-color="#6b00ff"/><stop offset="0.622" stop-color="#9400ff"/><stop offset="1.000" stop-color="#bc00ff"/></linearGradient>
<linearGradient id="r205" gradientUnits="userSpaceOnUse" x1="1028" x2="1094" y1="0" y2="0"><stop offset="0.000" stop-color="#3300ff"/><stop offset="0.121" stop-color="#4e00ff"/><stop offset="0.364" stop-color="#7400ff"/><stop offset="0.788" stop-color="#a300ff"/><stop offset="1.000" stop-color="#b600ff"/></linearGradient>
<linearGradient id="r206" gradientUnits="userSpaceOnUse" x1="1030" x2="1088" y1="0" y2="0"><stop offset="0.000" stop-color="#4100ff"/><stop offset="0.172" stop-color="#5d00ff"/><stop offset="0.534" stop-color="#8700ff"/><stop offset="1.000" stop-color="#af00ff"/></linearGradient>
<linearGradient id="r207" gradientUnits="userSpaceOnUse" x1="1033" x2="1082" y1="0" y2="0"><stop offset="0.000" stop-color="#4e00ff"/><stop offset="0.286" stop-color="#6f00ff"/><stop offset="0.755" stop-color="#9700ff"/><stop offset="1.000" stop-color="#a800ff"/></linearGradient>
<linearGradient id="r208" gradientUnits="userSpaceOnUse" x1="1036" x2="1076" y1="0" y2="0"><stop offset="0.000" stop-color="#5a00ff"/><stop offset="0.425" stop-color="#7d00ff"/><stop offset="1.000" stop-color="#a100ff"/></linearGradient>
<linearGradient id="r209" gradientUnits="userSpaceOnUse" x1="1039" x2="1070" y1="0" y2="0"><stop offset="0.000" stop-color="#6400ff"/><stop offset="0.645" stop-color="#8900ff"/><stop offset="1.000" stop-color="#9a00ff"/></linearGradient>
<linearGradient id="r210" gradientUnits="userSpaceOnUse" x1="1043" x2="1064" y1="0" y2="0"><stop offset="0.000" stop-color="#6f00ff"/><stop offset="1.000" stop-color="#9300ff"/></linearGradient>
<linearGradient id="r211" gradientUnits="userSpaceOnUse" x1="1046" x2="1058" y1="0" y2="0"><stop offset="0.000" stop-color="#7700ff"/><stop offset="1.000" stop-color="#8b00ff"/></linearGradient>
</defs>
<g clip-path="url(#lc)"><rect x="971" y="63" width="32" height="2.6" fill="url(#r0)"/>
<rect x="965" y="65" width="45" height="2.6" fill="url(#r1)"/>
<rect x="962" y="67" width="55" height="2.6" fill="url(#r2)"/>
<rect x="959" y="69" width="64" height="2.6" fill="url(#r3)"/>
<rect x="957" y="71" width="71" height="2.6" fill="url(#r4)"/>
<rect x="954" y="73" width="79" height="2.6" fill="url(#r5)"/>
<rect x="952" y="75" width="86" height="2.6" fill="url(#r6)"/>
<rect x="951" y="77" width="92" height="2.6" fill="url(#r7)"/>
<rect x="949" y="79" width="99" height="2.6" fill="url(#r8)"/>
<rect x="948" y="81" width="104" height="2.6" fill="url(#r9)"/>
<rect x="946" y="83" width="110" height="2.6" fill="url(#r10)"/>
<rect x="945" y="85" width="116" height="2.6" fill="url(#r11)"/>
<rect x="944" y="87" width="121" height="2.6" fill="url(#r12)"/>
<rect x="943" y="89" width="126" height="2.6" fill="url(#r13)"/>
<rect x="942" y="91" width="131" height="2.6" fill="url(#r14)"/>
<rect x="941" y="93" width="135" height="2.6" fill="url(#r15)"/>
<rect x="940" y="95" width="140" height="2.6" fill="url(#r16)"/>
<rect x="940" y="97" width="144" height="2.6" fill="url(#r17)"/>
<rect x="939" y="99" width="148" height="2.6" fill="url(#r18)"/>
<rect x="938" y="101" width="153" height="2.6" fill="url(#r19)"/>
<rect x="938" y="103" width="156" height="2.6" fill="url(#r20)"/>
<rect x="937" y="105" width="161" height="2.6" fill="url(#r21)"/>
<rect x="936" y="107" width="165" height="2.6" fill="url(#r22)"/>
<rect x="936" y="109" width="169" height="2.6" fill="url(#r23)"/>
<rect x="935" y="111" width="173" height="2.6" fill="url(#r24)"/>
<rect x="935" y="113" width="176" height="2.6" fill="url(#r25)"/>
<rect x="934" y="115" width="180" height="2.6" fill="url(#r26)"/>
<rect x="934" y="117" width="184" height="2.6" fill="url(#r27)"/>
<rect x="934" y="119" width="187" height="2.6" fill="url(#r28)"/>
<rect x="933" y="121" width="191" height="2.6" fill="url(#r29)"/>
<rect x="933" y="123" width="194" height="2.6" fill="url(#r30)"/>
<rect x="933" y="125" width="197" height="2.6" fill="url(#r31)"/>
<rect x="932" y="127" width="201" height="2.6" fill="url(#r32)"/>
<rect x="932" y="129" width="204" height="2.6" fill="url(#r33)"/>
<rect x="932" y="131" width="207" height="2.6" fill="url(#r34)"/>
<rect x="931" y="133" width="211" height="2.6" fill="url(#r35)"/>
<rect x="931" y="135" width="214" height="2.6" fill="url(#r36)"/>
<rect x="931" y="137" width="217" height="2.6" fill="url(#r37)"/>
<rect x="931" y="139" width="220" height="2.6" fill="url(#r38)"/>
<rect x="931" y="141" width="223" height="2.6" fill="url(#r39)"/>
<rect x="931" y="143" width="226" height="2.6" fill="url(#r40)"/>
<rect x="930" y="145" width="230" height="2.6" fill="url(#r41)"/>
<rect x="930" y="147" width="233" height="2.6" fill="url(#r42)"/>
<rect x="930" y="149" width="236" height="2.6" fill="url(#r43)"/>
<rect x="930" y="151" width="239" height="2.6" fill="url(#r44)"/>
<rect x="930" y="153" width="242" height="2.6" fill="url(#r45)"/>
<rect x="930" y="155" width="245" height="2.6" fill="url(#r46)"/>
<rect x="930" y="157" width="248" height="2.6" fill="url(#r47)"/>
<rect x="930" y="159" width="251" height="2.6" fill="url(#r48)"/>
<rect x="930" y="161" width="254" height="2.6" fill="url(#r49)"/>
<rect x="930" y="163" width="256" height="2.6" fill="url(#r50)"/>
<rect x="930" y="165" width="259" height="2.6" fill="url(#r51)"/>
<rect x="930" y="167" width="262" height="2.6" fill="url(#r52)"/>
<rect x="930" y="169" width="265" height="2.6" fill="url(#r53)"/>
<rect x="930" y="171" width="268" height="2.6" fill="url(#r54)"/>
<rect x="930" y="173" width="271" height="2.6" fill="url(#r55)"/>
<rect x="930" y="175" width="273" height="2.6" fill="url(#r56)"/>
<rect x="930" y="177" width="276" height="2.6" fill="url(#r57)"/>
<rect x="930" y="179" width="279" height="2.6" fill="url(#r58)"/>
<rect x="930" y="181" width="282" height="2.6" fill="url(#r59)"/>
<rect x="930" y="183" width="285" height="2.6" fill="url(#r60)"/>
<rect x="931" y="185" width="286" height="2.6" fill="url(#r61)"/>
<rect x="931" y="187" width="289" height="2.6" fill="url(#r62)"/>
<rect x="931" y="189" width="292" height="2.6" fill="url(#r63)"/>
<rect x="931" y="191" width="295" height="2.6" fill="url(#r64)"/>
<rect x="931" y="193" width="298" height="2.6" fill="url(#r65)"/>
<rect x="931" y="195" width="301" height="2.6" fill="url(#r66)"/>
<rect x="931" y="197" width="303" height="2.6" fill="url(#r67)"/>
<rect x="932" y="199" width="305" height="2.6" fill="url(#r68)"/>
<rect x="932" y="201" width="308" height="2.6" fill="url(#r69)"/>
<rect x="932" y="203" width="311" height="2.6" fill="url(#r70)"/>
<rect x="932" y="205" width="314" height="2.6" fill="url(#r71)"/>
<rect x="932" y="207" width="316" height="2.6" fill="url(#r72)"/>
<rect x="933" y="209" width="318" height="2.6" fill="url(#r73)"/>
<rect x="933" y="211" width="321" height="2.6" fill="url(#r74)"/>
<rect x="933" y="213" width="324" height="2.6" fill="url(#r75)"/>
<rect x="933" y="215" width="326" height="2.6" fill="url(#r76)"/>
<rect x="933" y="217" width="329" height="2.6" fill="url(#r77)"/>
<rect x="934" y="219" width="331" height="2.6" fill="url(#r78)"/>
<rect x="934" y="221" width="334" height="2.6" fill="url(#r79)"/>
<rect x="934" y="223" width="337" height="2.6" fill="url(#r80)"/>
<rect x="935" y="225" width="338" height="2.6" fill="url(#r81)"/>
<rect x="935" y="227" width="341" height="2.6" fill="url(#r82)"/>
<rect x="935" y="229" width="344" height="2.6" fill="url(#r83)"/>
<rect x="935" y="231" width="347" height="2.6" fill="url(#r84)"/>
<rect x="936" y="233" width="348" height="2.6" fill="url(#r85)"/>
<rect x="936" y="235" width="351" height="2.6" fill="url(#r86)"/>
<rect x="936" y="237" width="354" height="2.6" fill="url(#r87)"/>
<rect x="937" y="239" width="356" height="2.6" fill="url(#r88)"/>
<rect x="937" y="241" width="358" height="2.6" fill="url(#r89)"/>
<rect x="937" y="243" width="361" height="2.6" fill="url(#r90)"/>
<rect x="938" y="245" width="363" height="2.6" fill="url(#r91)"/>
<rect x="938" y="247" width="366" height="2.6" fill="url(#r92)"/>
<rect x="938" y="249" width="369" height="2.6" fill="url(#r93)"/>
<rect x="939" y="251" width="370" height="2.6" fill="url(#r94)"/>
<rect x="939" y="253" width="373" height="2.6" fill="url(#r95)"/>
<rect x="939" y="255" width="376" height="2.6" fill="url(#r96)"/>
<rect x="940" y="257" width="378" height="2.6" fill="url(#r97)"/>
<rect x="940" y="259" width="380" height="2.6" fill="url(#r98)"/>
<rect x="940" y="261" width="383" height="2.6" fill="url(#r99)"/>
<rect x="941" y="263" width="385" height="2.6" fill="url(#r100)"/>
<rect x="941" y="265" width="388" height="2.6" fill="url(#r101)"/>
<rect x="942" y="267" width="390" height="2.6" fill="url(#r102)"/>
<rect x="942" y="269" width="392" height="2.6" fill="url(#r103)"/>
<rect x="942" y="271" width="395" height="2.6" fill="url(#r104)"/>
<rect x="943" y="273" width="397" height="2.6" fill="url(#r105)"/>
<rect x="943" y="275" width="400" height="2.6" fill="url(#r106)"/>
<rect x="944" y="277" width="401" height="2.6" fill="url(#r107)"/>
<rect x="944" y="279" width="404" height="2.6" fill="url(#r108)"/>
<rect x="944" y="281" width="407" height="2.6" fill="url(#r109)"/>
<rect x="945" y="283" width="409" height="2.6" fill="url(#r110)"/>
<rect x="945" y="285" width="412" height="2.6" fill="url(#r111)"/>
<rect x="946" y="287" width="413" height="2.6" fill="url(#r112)"/>
<rect x="946" y="289" width="416" height="2.6" fill="url(#r113)"/>
<rect x="947" y="291" width="418" height="2.6" fill="url(#r114)"/>
<rect x="947" y="293" width="421" height="2.6" fill="url(#r115)"/>
<rect x="948" y="295" width="422" height="2.6" fill="url(#r116)"/>
<rect x="948" y="297" width="425" height="2.6" fill="url(#r117)"/>
<rect x="949" y="299" width="427" height="2.6" fill="url(#r118)"/>
<rect x="949" y="301" width="430" height="2.6" fill="url(#r119)"/>
<rect x="950" y="303" width="432" height="2.6" fill="url(#r120)"/>
<rect x="950" y="305" width="434" height="2.6" fill="url(#r121)"/>
<rect x="951" y="307" width="436" height="2.6" fill="url(#r122)"/>
<rect x="951" y="309" width="439" height="2.6" fill="url(#r123)"/>
<rect x="952" y="311" width="441" height="2.6" fill="url(#r124)"/>
<rect x="952" y="313" width="443" height="2.6" fill="url(#r125)"/>
<rect x="953" y="315" width="445" height="2.6" fill="url(#r126)"/>
<rect x="953" y="317" width="448" height="2.6" fill="url(#r127)"/>
<rect x="954" y="319" width="450" height="2.6" fill="url(#r128)"/>
<rect x="954" y="321" width="453" height="2.6" fill="url(#r129)"/>
<rect x="955" y="323" width="454" height="2.6" fill="url(#r130)"/>
<rect x="955" y="325" width="457" height="2.6" fill="url(#r131)"/>
<rect x="956" y="327" width="459" height="2.6" fill="url(#r132)"/>
<rect x="957" y="329" width="461" height="2.6" fill="url(#r133)"/>
<rect x="957" y="331" width="463" height="2.6" fill="url(#r134)"/>
<rect x="958" y="333" width="465" height="2.6" fill="url(#r135)"/>
<rect x="958" y="335" width="468" height="2.6" fill="url(#r136)"/>
<rect x="959" y="337" width="470" height="2.6" fill="url(#r137)"/>
<rect x="960" y="339" width="472" height="2.6" fill="url(#r138)"/>
<rect x="960" y="341" width="474" height="2.6" fill="url(#r139)"/>
<rect x="961" y="343" width="476" height="2.6" fill="url(#r140)"/>
<rect x="961" y="345" width="479" height="2.6" fill="url(#r141)"/>
<rect x="962" y="347" width="481" height="2.6" fill="url(#r142)"/>
<rect x="963" y="349" width="482" height="2.6" fill="url(#r143)"/>
<rect x="963" y="351" width="485" height="2.6" fill="url(#r144)"/>
<rect x="964" y="353" width="484" height="2.6" fill="url(#r145)"/>
<rect x="965" y="355" width="480" height="2.6" fill="url(#r146)"/>
<rect x="965" y="357" width="474" height="2.6" fill="url(#r147)"/>
<rect x="966" y="359" width="467" height="2.6" fill="url(#r148)"/>
<rect x="966" y="361" width="461" height="2.6" fill="url(#r149)"/>
<rect x="967" y="363" width="454" height="2.6" fill="url(#r150)"/>
<rect x="968" y="365" width="447" height="2.6" fill="url(#r151)"/>
<rect x="969" y="367" width="440" height="2.6" fill="url(#r152)"/>
<rect x="969" y="369" width="434" height="2.6" fill="url(#r153)"/>
<rect x="970" y="371" width="427" height="2.6" fill="url(#r154)"/>
<rect x="971" y="373" width="420" height="2.6" fill="url(#r155)"/>
<rect x="971" y="375" width="414" height="2.6" fill="url(#r156)"/>
<rect x="972" y="377" width="407" height="2.6" fill="url(#r157)"/>
<rect x="973" y="379" width="400" height="2.6" fill="url(#r158)"/>
<rect x="974" y="381" width="393" height="2.6" fill="url(#r159)"/>
<rect x="974" y="383" width="387" height="2.6" fill="url(#r160)"/>
<rect x="975" y="385" width="381" height="2.6" fill="url(#r161)"/>
<rect x="976" y="387" width="374" height="2.6" fill="url(#r162)"/>
<rect x="977" y="389" width="367" height="2.6" fill="url(#r163)"/>
<rect x="978" y="391" width="360" height="2.6" fill="url(#r164)"/>
<rect x="978" y="393" width="354" height="2.6" fill="url(#r165)"/>
<rect x="979" y="395" width="347" height="2.6" fill="url(#r166)"/>
<rect x="980" y="397" width="340" height="2.6" fill="url(#r167)"/>
<rect x="981" y="399" width="333" height="2.6" fill="url(#r168)"/>
<rect x="982" y="401" width="326" height="2.6" fill="url(#r169)"/>
<rect x="983" y="403" width="319" height="2.6" fill="url(#r170)"/>
<rect x="984" y="405" width="312" height="2.6" fill="url(#r171)"/>
<rect x="985" y="407" width="305" height="2.6" fill="url(#r172)"/>
<rect x="986" y="409" width="298" height="2.6" fill="url(#r173)"/>
<rect x="987" y="411" width="291" height="2.6" fill="url(#r174)"/>
<rect x="988" y="413" width="284" height="2.6" fill="url(#r175)"/>
<rect x="989" y="415" width="277" height="2.6" fill="url(#r176)"/>
<rect x="990" y="417" width="270" height="2.6" fill="url(#r177)"/>
<rect x="991" y="419" width="263" height="2.6" fill="url(#r178)"/>
<rect x="992" y="421" width="256" height="2.6" fill="url(#r179)"/>
<rect x="993" y="423" width="249" height="2.6" fill="url(#r180)"/>
<rect x="994" y="425" width="242" height="2.6" fill="url(#r181)"/>
<rect x="995" y="427" width="235" height="2.6" fill="url(#r182)"/>
<rect x="996" y="429" width="229" height="2.6" fill="url(#r183)"/>
<rect x="997" y="431" width="222" height="2.6" fill="url(#r184)"/>
<rect x="998" y="433" width="215" height="2.6" fill="url(#r185)"/>
<rect x="999" y="435" width="208" height="2.6" fill="url(#r186)"/>
<rect x="1000" y="437" width="201" height="2.6" fill="url(#r187)"/>
<rect x="1001" y="439" width="194" height="2.6" fill="url(#r188)"/>
<rect x="1002" y="441" width="187" height="2.6" fill="url(#r189)"/>
<rect x="1004" y="443" width="179" height="2.6" fill="url(#r190)"/>
<rect x="1005" y="445" width="172" height="2.6" fill="url(#r191)"/>
<rect x="1006" y="447" width="165" height="2.6" fill="url(#r192)"/>
<rect x="1007" y="449" width="158" height="2.6" fill="url(#r193)"/>
<rect x="1009" y="451" width="150" height="2.6" fill="url(#r194)"/>
<rect x="1010" y="453" width="143" height="2.6" fill="url(#r195)"/>
<rect x="1011" y="455" width="136" height="2.6" fill="url(#r196)"/>
<rect x="1013" y="457" width="128" height="2.6" fill="url(#r197)"/>
<rect x="1014" y="459" width="121" height="2.6" fill="url(#r198)"/>
<rect x="1016" y="461" width="113" height="2.6" fill="url(#r199)"/>
<rect x="1018" y="463" width="105" height="2.6" fill="url(#r200)"/>
<rect x="1019" y="465" width="98" height="2.6" fill="url(#r201)"/>
<rect x="1021" y="467" width="90" height="2.6" fill="url(#r202)"/>
<rect x="1023" y="469" width="82" height="2.6" fill="url(#r203)"/>
<rect x="1025" y="471" width="74" height="2.6" fill="url(#r204)"/>
<rect x="1028" y="473" width="66" height="2.6" fill="url(#r205)"/>
<rect x="1030" y="475" width="58" height="2.6" fill="url(#r206)"/>
<rect x="1033" y="477" width="49" height="2.6" fill="url(#r207)"/>
<rect x="1036" y="479" width="40" height="2.6" fill="url(#r208)"/>
<rect x="1039" y="481" width="31" height="2.6" fill="url(#r209)"/>
<rect x="1043" y="483" width="21" height="2.6" fill="url(#r210)"/>
<rect x="1046" y="485" width="12" height="2.6" fill="url(#r211)"/></g>
<path d="M1051.7,486.5 1051.7,486.5 1051.7,486.5 1051.7,486.5 1051.6,486.5 1051.6,486.6 1051.6,486.6 1051.5,486.6 1051.5,486.6 1051.5,486.6 1051.4,486.6 1051.4,486.6 1051.4,486.6 1051.3,486.6 1051.3,486.6 1051.2,486.6 1051.2,486.6 1051.1,486.7 1051.1,486.7 1051.0,486.7 1051.0,486.6 1050.9,486.6 1050.8,486.6 1050.8,486.6 1050.7,486.6 1050.6,486.7 1050.5,486.7 1050.4,486.7 1050.3,486.7 1050.2,486.6 1050.1,486.6 1050.0,486.6 1049.9,486.5 1049.7,486.5 1049.5,486.4 1049.3,486.3 1049.1,486.2 1048.9,486.1 1048.7,485.9 1048.4,485.8 1048.2,485.7 1047.9,485.5 1047.6,485.3 1047.2,485.1 1046.8,484.8 1046.4,484.6 1046.0,484.3 1045.6,484.0 1045.1,483.7 1044.6,483.4 1044.1,483.1 1043.6,482.7 1042.9,482.3 1042.3,481.9 1041.5,481.4 1040.8,480.9 1039.9,480.4 1039.1,479.9 1038.1,479.3 1037.2,478.7 1036.2,478.0 1035.1,477.3 1033.9,476.5 1032.7,475.6 1031.4,474.7 1030.1,473.7 1028.8,472.6 1027.3,471.4 1025.8,470.0 1024.1,468.4 1022.3,466.5 1020.4,464.3 1018.3,461.9 1016.1,459.1 1013.7,456.0 1011.2,452.6 1008.6,448.7 1005.9,444.3 1002.9,439.3 999.8,433.8 996.6,427.7 993.0,420.9 989.3,413.4 985.4,405.2 981.3,396.2 977.2,386.4 973.2,375.8 969.1,364.3 965.0,352.0 961.0,338.9 957.0,324.9 953.0,310.3 949.2,295.1 945.7,279.5 942.4,263.7 939.5,247.7 936.9,231.8 934.8,216.1 933.2,200.6 932.1,185.6 931.5,171.0 931.5,157.0 932.1,143.6 933.4,130.9 935.3,119.1 937.9,108.2 941.3,98.3 945.2,89.6 949.8,82.1 954.8,75.8 960.4,70.9 966.3,67.3 972.6,64.8 979.2,63.5 985.9,63.1 992.8,63.5 999.8,64.7 1006.9,66.4 1014.0,68.5 1021.1,70.9 1028.2,73.5 1035.2,76.3 1042.1,79.2 1048.8,82.2 1055.5,85.3 1062.0,88.4 1068.5,91.7 1075.0,95.0 1081.4,98.5 1087.7,102.0 1094.1,105.7 1100.4,109.4 1106.7,113.2 1113.0,117.0 1119.3,120.9 1125.6,124.9 1131.8,129.0 1138.0,133.1 1144.3,137.2 1150.5,141.4 1156.7,145.6 1162.9,149.8 1169.2,154.1 1175.4,158.4 1181.7,162.8 1187.9,167.1 1194.2,171.5 1200.4,175.9 1206.6,180.3 1212.8,184.7 1219.0,189.1 1225.2,193.5 1231.4,198.0 1237.5,202.4 1243.7,206.7 1249.8,211.1 1255.8,215.5 1261.9,219.8 1267.9,224.1 1273.8,228.4 1279.7,232.7 1285.6,236.9 1291.3,241.1 1297.1,245.2 1302.7,249.3 1308.3,253.4 1313.9,257.3 1319.3,261.2 1324.6,265.1 1329.9,268.8 1335.1,272.6 1340.1,276.2 1345.0,279.8 1349.8,283.2 1354.4,286.5 1358.8,289.7 1363.1,292.8 1367.2,295.8 1371.2,298.7 1375.1,301.5 1378.9,304.2 1382.6,306.8 1386.1,309.4 1389.4,311.7 1392.6,314.0 1395.6,316.2 1398.4,318.2 1401.1,320.2 1403.7,322.0 1406.2,323.8 1408.5,325.5 1410.7,327.1 1412.8,328.6 1414.7,330.0 1416.6,331.3 1418.3,332.6 1420.0,333.8 1421.5,334.9 1423.0,335.9 1424.4,336.9 1425.7,337.9 1427.0,338.8 1428.2,339.7 1429.3,340.5 1430.4,341.3 1431.5,342.1 1432.5,342.8 1433.5,343.5 1434.4,344.2 1435.2,344.8 1436.1,345.4 1436.8,345.9 1437.6,346.5 1438.3,347.0 1438.9,347.4 1439.5,347.8 1440.1,348.2 1440.6,348.6 1441.1,349.0 1441.6,349.3 1442.0,349.6 1442.4,349.9 1442.8,350.2 1443.1,350.4 1443.5,350.7 1443.8,350.9 1444.0,351.1 1444.3,351.3 1444.5,351.4 1444.7,351.6 1444.8,351.7 1445.0,351.8 1445.2,351.9 1445.3,352.0 1445.5,352.1 1445.6,352.2 1445.8,352.3 1445.9,352.4 1446.0,352.5 1446.1,352.6 1446.2,352.7 1446.4,352.8 1446.5,352.9 1446.6,353.0 1446.7,353.0 1446.8,353.1 1446.9,353.2 1447.0,353.2 1447.1,353.3 1447.2,353.4 1447.2,353.4 1447.3,353.4 1447.3,353.5 1447.4,353.5 1447.4,353.5 1447.4,353.5 1447.4,353.6 1447.5,353.6 1447.5,353.6 1447.5,353.6Z" fill="none" stroke="#3648f0" stroke-width="0.9" stroke-linejoin="round"/>
<g stroke="#1a1a1a" stroke-width="1.5" fill="none">
<path d="M928.8 28.7V497.8"/>
<path d="M920.1 489.1H1494.3"/>
<path d="M924.3 438.0H928.8M920.1 387.0H928.8M924.3 335.9H928.8M920.1 284.8H928.8M924.3 233.7H928.8M920.1 182.7H928.8M924.3 131.6H928.8M920.1 80.5H928.8M924.3 29.4H928.8M964.1 489.1V493.6M999.4 489.1V497.8M1034.7 489.1V493.6M1070.0 489.1V497.8M1105.3 489.1V493.6M1140.6 489.1V497.8M1175.9 489.1V493.6M1211.2 489.1V497.8M1246.5 489.1V493.6M1281.8 489.1V497.8M1317.1 489.1V493.6M1352.4 489.1V497.8M1387.7 489.1V493.6M1423.0 489.1V497.8M1458.3 489.1V493.6M1493.6 489.1V497.8" stroke-width="1.3"/></g>
<text font-size="100" transform="matrix(0.2878 0 0 0.2958 873.95 497.50)">0.0</text>
<text font-size="100" transform="matrix(0.2878 0 0 0.2958 873.95 395.35)">0.2</text>
<text font-size="100" transform="matrix(0.2878 0 0 0.2958 873.95 293.20)">0.4</text>
<text font-size="100" transform="matrix(0.2878 0 0 0.2958 873.95 191.05)">0.6</text>
<text font-size="100" transform="matrix(0.2878 0 0 0.2958 873.95 88.90)">0.8</text>
<text font-size="100" transform="matrix(0.2878 0 0 0.2944 908.80 526.41)">0.0</text>
<clipPath id="c3"><path clip-rule="evenodd" d="M-300 -200H3000V200H-300ZM86.4 -13H107.8V25H86.4ZM118.0 -13H138.4V25H118.0Z"/></clipPath><text clip-path="url(#c3)" font-size="100" transform="matrix(0.2878 0 0 0.2944 979.40 526.41)">0.1</text>
<text font-size="100" transform="matrix(0.2878 0 0 0.2944 1050.00 526.41)">0.2</text>
<text font-size="100" transform="matrix(0.2878 0 0 0.2944 1120.60 526.41)">0.3</text>
<text font-size="100" transform="matrix(0.2878 0 0 0.2944 1191.20 526.41)">0.4</text>
<text font-size="100" transform="matrix(0.2878 0 0 0.2944 1261.80 526.41)">0.5</text>
<text font-size="100" transform="matrix(0.2878 0 0 0.2944 1332.40 526.41)">0.6</text>
<text font-size="100" transform="matrix(0.2878 0 0 0.2944 1403.00 526.41)">0.7</text>
<text font-size="100" transform="matrix(0.2878 0 0 0.2944 1473.60 526.41)">0.8</text>
<text font-size="100" transform="matrix(0.2389 0 0 0.2528 1205.79 561.40)">x</text>
<text font-size="100" transform="matrix(0 -0.2316 0.2514 0 864.82 264.77)">y</text>
<g stroke="#4a4a4a" stroke-width="1">
<path d="M979.3 53.2L981.3 63.2"/>
<path d="M1100.0 95.9L1090.9 103.8"/>
<path d="M1202.5 163.1L1192.2 170.1"/>
<path d="M1301.1 233.3L1290.6 240.6"/>
<path d="M1381.8 291.9L1371.5 298.8"/>
<path d="M1427.3 324.7L1417.0 331.6"/>
<path d="M920.9 215.4L934.6 214.1"/>
<path d="M980.3 425.3L993.3 421.3"/>
<path d="M1020.1 481.1L1030.5 473.9"/>
</g>
<text class="wl" font-size="100" transform="matrix(0.2719 0 0 0.2845 952.61 49.72)">520</text>
<text class="wl" font-size="100" transform="matrix(0.2688 0 0 0.2845 1088.62 94.42)">540</text>
<text class="wl" font-size="100" transform="matrix(0.2688 0 0 0.2845 1192.62 162.72)">560</text>
<text class="wl" font-size="100" transform="matrix(0.2700 0 0 0.2803 1290.92 232.72)">580</text>
<text class="wl" font-size="100" transform="matrix(0.2752 0 0 0.2838 1371.37 291.47)">600</text>
<text class="wl" font-size="100" transform="matrix(0.2749 0 0 0.2817 1416.43 323.52)">620</text>
<text class="wl" font-size="100" transform="matrix(0.2700 0 0 0.2789 880.02 224.82)">500</text>
<text class="wl" font-size="100" transform="matrix(0.2706 0 0 0.2761 940.02 437.62)">480</text>
<text class="wl" font-size="100" transform="matrix(0.2694 0 0 0.2775 984.93 487.22)">460</text>
<g stroke="#222" stroke-width="1">
<path d="M1031.7 371L1033.6 379.2"/>
<path d="M1052 395L1046.7 403.7"/>
<path d="M1036 425.1L1043.9 426"/>
<path d="M1075.5 414.4L1068.8 421"/>
<path d="M1054.9 448.8L1063.8 453.4"/>
</g>
<circle cx="1032.9" cy="383.6" r="4.9" fill="#000"/>
<circle cx="1044.7" cy="407.5" r="4.9" fill="#000"/>
<circle cx="1048.3" cy="427.4" r="4.9" fill="#000"/>
<circle cx="1065.05" cy="424.15" r="4.9" fill="#000"/>
<circle cx="1051.05" cy="445" r="4.9" fill="#000"/>
<text font-size="100" transform="matrix(0.2796 0 0 0.2748 1017.88 362.83)">5b</text>
<text font-size="100" transform="matrix(0.2692 0 0 0.2886 1049.12 391.41)">5a</text>
<text font-size="100" transform="matrix(0.2838 0 0 0.2857 998.86 431.91)">5c</text>
<text font-size="100" transform="matrix(0.2806 0 0 0.2817 1080.80 422.02)">6c</text>
<text font-size="100" transform="matrix(0.2931 0 0 0.2776 1067.73 468.62)">6b</text>
<clipPath id="c4"><path clip-rule="evenodd" d="M-300 -200H3000V200H-300ZM254.3 -13H275.7V25H254.3ZM285.9 -13H306.3V25H285.9ZM504.5 -13H525.9V25H504.5ZM536.1 -13H556.5V25H536.1Z"/></clipPath><text clip-path="url(#c4)" font-size="100" transform="matrix(0.2511 0 0 0.2457 1326.33 47.75)"><tspan font-weight="bold" font-size="96">5a</tspan> (0.16; 0.16)</text>
<clipPath id="c5"><path clip-rule="evenodd" d="M-300 -200H3000V200H-300ZM259.5 -13H280.9V25H259.5ZM291.1 -13H311.5V25H291.1ZM565.3 -13H586.7V25H565.3ZM596.9 -13H617.3V25H596.9Z"/></clipPath><text clip-path="url(#c5)" font-size="100" transform="matrix(0.2514 0 0 0.2457 1326.33 77.40)"><tspan font-weight="bold" font-size="96">5b</tspan> (0.14; 0.21)</text>
<clipPath id="c6"><path clip-rule="evenodd" d="M-300 -200H3000V200H-300ZM254.3 -13H275.7V25H254.3ZM285.9 -13H306.3V25H285.9ZM504.5 -13H525.9V25H504.5ZM536.1 -13H556.5V25H536.1Z"/></clipPath><text clip-path="url(#c6)" font-size="100" transform="matrix(0.2511 0 0 0.2457 1326.33 107.35)"><tspan font-weight="bold" font-size="96">5c</tspan> (0.17; 0.12)</text>
<clipPath id="c7"><path clip-rule="evenodd" d="M-300 -200H3000V200H-300ZM259.5 -13H280.9V25H259.5ZM291.1 -13H311.5V25H291.1Z"/></clipPath><text clip-path="url(#c7)" font-size="100" transform="matrix(0.2522 0 0 0.2457 1326.20 136.40)"><tspan font-weight="bold" font-size="96">6b</tspan> (0.12; 0.09)</text>
<clipPath id="c8"><path clip-rule="evenodd" d="M-300 -200H3000V200H-300ZM254.3 -13H275.7V25H254.3ZM285.9 -13H306.3V25H285.9ZM504.5 -13H525.9V25H504.5ZM536.1 -13H556.5V25H536.1Z"/></clipPath><text clip-path="url(#c8)" font-size="100" transform="matrix(0.2513 0 0 0.2457 1326.21 166.20)"><tspan font-weight="bold" font-size="96">6c</tspan> (0.19; 0.13)</text>
</g>
<g class="cap">
<g><text font-size="100" transform="matrix(0.3490 0 0 0.3835 364.43 668.75)">(</text><text font-weight="bold" font-size="100" transform="matrix(0.3648 0 0 0.3917 377.01 668.61)">a</text><text font-size="100" transform="matrix(0.3615 0 0 0.3878 395.42 668.86)">)</text></g>
<g><text font-size="100" transform="matrix(0.3333 0 0 0.3835 1153.20 668.75)">(</text><text font-weight="bold" font-size="100" transform="matrix(0.4020 0 0 0.4000 1165.30 669.00)">b</text><text font-size="100" transform="matrix(0.3462 0 0 0.3878 1187.66 668.86)">)</text></g>
</g>
</svg></body></html>
